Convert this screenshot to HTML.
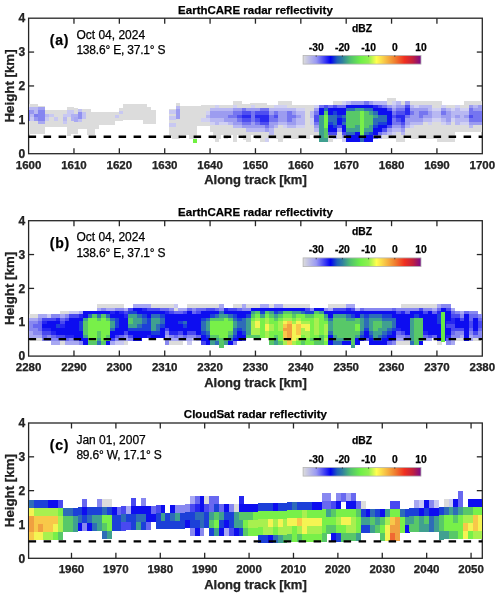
<!DOCTYPE html>
<html><head><meta charset="utf-8"><style>
html,body{margin:0;padding:0;background:#fff;}
svg{display:block;}
svg text{font-family:"Liberation Sans",sans-serif;stroke:currentColor;stroke-width:0.25px;}
.tx{opacity:0.999;}
</style></head><body>
<svg width="500" height="597" viewBox="0 0 500 597">
<defs><filter id="bl" x="-1%" y="-10%" width="102%" height="120%"><feGaussianBlur stdDeviation="0.45"/></filter><linearGradient id="cm" x1="0" x2="1" y1="0" y2="0"><stop offset="0.0000" stop-color="#dcdcdc"/><stop offset="0.1111" stop-color="#9a9af2"/><stop offset="0.2333" stop-color="#0000f5"/><stop offset="0.2889" stop-color="#2060b8"/><stop offset="0.3333" stop-color="#3080a0"/><stop offset="0.4000" stop-color="#50c070"/><stop offset="0.4889" stop-color="#70f048"/><stop offset="0.5556" stop-color="#90f050"/><stop offset="0.6222" stop-color="#ffff50"/><stop offset="0.6889" stop-color="#f8c848"/><stop offset="0.7778" stop-color="#f08030"/><stop offset="0.8600" stop-color="#f03020"/><stop offset="0.9333" stop-color="#c02040"/><stop offset="1.0000" stop-color="#7a0a8a"/></linearGradient></defs>
<rect width="500" height="597" fill="#fff"/>
<g class="tx">
<rect x="28.6" y="18.2" width="453.70" height="135.50" fill="none" stroke="#262626" stroke-width="1.3"/>
<text x="28.60" y="168.80" text-anchor="middle" font-size="11.5" font-weight="bold" fill="#262626">1600</text>
<line x1="73.97" y1="153.7" x2="73.97" y2="148.2" stroke="#262626" stroke-width="1.3"/>
<line x1="73.97" y1="18.2" x2="73.97" y2="23.7" stroke="#262626" stroke-width="1.3"/>
<text x="73.97" y="168.80" text-anchor="middle" font-size="11.5" font-weight="bold" fill="#262626">1610</text>
<line x1="119.34" y1="153.7" x2="119.34" y2="148.2" stroke="#262626" stroke-width="1.3"/>
<line x1="119.34" y1="18.2" x2="119.34" y2="23.7" stroke="#262626" stroke-width="1.3"/>
<text x="119.34" y="168.80" text-anchor="middle" font-size="11.5" font-weight="bold" fill="#262626">1620</text>
<line x1="164.71" y1="153.7" x2="164.71" y2="148.2" stroke="#262626" stroke-width="1.3"/>
<line x1="164.71" y1="18.2" x2="164.71" y2="23.7" stroke="#262626" stroke-width="1.3"/>
<text x="164.71" y="168.80" text-anchor="middle" font-size="11.5" font-weight="bold" fill="#262626">1630</text>
<line x1="210.08" y1="153.7" x2="210.08" y2="148.2" stroke="#262626" stroke-width="1.3"/>
<line x1="210.08" y1="18.2" x2="210.08" y2="23.7" stroke="#262626" stroke-width="1.3"/>
<text x="210.08" y="168.80" text-anchor="middle" font-size="11.5" font-weight="bold" fill="#262626">1640</text>
<line x1="255.45" y1="153.7" x2="255.45" y2="148.2" stroke="#262626" stroke-width="1.3"/>
<line x1="255.45" y1="18.2" x2="255.45" y2="23.7" stroke="#262626" stroke-width="1.3"/>
<text x="255.45" y="168.80" text-anchor="middle" font-size="11.5" font-weight="bold" fill="#262626">1650</text>
<line x1="300.82" y1="153.7" x2="300.82" y2="148.2" stroke="#262626" stroke-width="1.3"/>
<line x1="300.82" y1="18.2" x2="300.82" y2="23.7" stroke="#262626" stroke-width="1.3"/>
<text x="300.82" y="168.80" text-anchor="middle" font-size="11.5" font-weight="bold" fill="#262626">1660</text>
<line x1="346.19" y1="153.7" x2="346.19" y2="148.2" stroke="#262626" stroke-width="1.3"/>
<line x1="346.19" y1="18.2" x2="346.19" y2="23.7" stroke="#262626" stroke-width="1.3"/>
<text x="346.19" y="168.80" text-anchor="middle" font-size="11.5" font-weight="bold" fill="#262626">1670</text>
<line x1="391.56" y1="153.7" x2="391.56" y2="148.2" stroke="#262626" stroke-width="1.3"/>
<line x1="391.56" y1="18.2" x2="391.56" y2="23.7" stroke="#262626" stroke-width="1.3"/>
<text x="391.56" y="168.80" text-anchor="middle" font-size="11.5" font-weight="bold" fill="#262626">1680</text>
<line x1="436.93" y1="153.7" x2="436.93" y2="148.2" stroke="#262626" stroke-width="1.3"/>
<line x1="436.93" y1="18.2" x2="436.93" y2="23.7" stroke="#262626" stroke-width="1.3"/>
<text x="436.93" y="168.80" text-anchor="middle" font-size="11.5" font-weight="bold" fill="#262626">1690</text>
<text x="482.30" y="168.80" text-anchor="middle" font-size="11.5" font-weight="bold" fill="#262626">1700</text>
<text x="25.2" y="157.90" text-anchor="end" font-size="12" font-weight="bold" fill="#262626">0</text>
<line x1="28.6" y1="119.82" x2="34.1" y2="119.82" stroke="#262626" stroke-width="1.3"/>
<line x1="482.3" y1="119.82" x2="476.8" y2="119.82" stroke="#262626" stroke-width="1.3"/>
<text x="25.2" y="124.02" text-anchor="end" font-size="12" font-weight="bold" fill="#262626">1</text>
<line x1="28.6" y1="85.95" x2="34.1" y2="85.95" stroke="#262626" stroke-width="1.3"/>
<line x1="482.3" y1="85.95" x2="476.8" y2="85.95" stroke="#262626" stroke-width="1.3"/>
<text x="25.2" y="90.15" text-anchor="end" font-size="12" font-weight="bold" fill="#262626">2</text>
<line x1="28.6" y1="52.07" x2="34.1" y2="52.07" stroke="#262626" stroke-width="1.3"/>
<line x1="482.3" y1="52.07" x2="476.8" y2="52.07" stroke="#262626" stroke-width="1.3"/>
<text x="25.2" y="56.27" text-anchor="end" font-size="12" font-weight="bold" fill="#262626">3</text>
<text x="25.2" y="22.40" text-anchor="end" font-size="12" font-weight="bold" fill="#262626">4</text>
<g filter="url(#bl)" shape-rendering="crispEdges">
<rect x="28.60" y="104.00" width="9.40" height="30.00" fill="#dcdcdc"/>
<rect x="38.00" y="106.00" width="6.50" height="28.00" fill="#dcdcdc"/>
<rect x="44.50" y="110.00" width="22.50" height="17.00" fill="#dcdcdc"/>
<rect x="67.00" y="107.00" width="4.00" height="29.00" fill="#dcdcdc"/>
<rect x="71.00" y="107.00" width="3.00" height="27.00" fill="#dcdcdc"/>
<rect x="74.00" y="108.00" width="4.00" height="26.00" fill="#dcdcdc"/>
<rect x="78.00" y="109.00" width="9.00" height="20.00" fill="#dcdcdc"/>
<rect x="87.00" y="109.00" width="4.00" height="26.00" fill="#dcdcdc"/>
<rect x="91.00" y="112.00" width="3.50" height="23.00" fill="#dcdcdc"/>
<rect x="94.50" y="112.00" width="4.50" height="17.00" fill="#dcdcdc"/>
<rect x="99.00" y="112.00" width="16.00" height="13.00" fill="#dcdcdc"/>
<rect x="115.00" y="112.00" width="4.00" height="9.00" fill="#dcdcdc"/>
<rect x="119.00" y="108.00" width="4.40" height="13.00" fill="#dcdcdc"/>
<rect x="123.40" y="104.00" width="19.60" height="16.20" fill="#dcdcdc"/>
<rect x="143.00" y="104.00" width="3.60" height="19.80" fill="#dcdcdc"/>
<rect x="146.60" y="107.00" width="4.80" height="16.80" fill="#dcdcdc"/>
<rect x="151.40" y="110.00" width="4.20" height="13.80" fill="#dcdcdc"/>
<rect x="169.20" y="108.50" width="6.80" height="26.10" fill="#dcdcdc"/>
<rect x="176.00" y="102.80" width="3.60" height="36.60" fill="#dcdcdc"/>
<rect x="166.00" y="134.60" width="6.00" height="1.40" fill="#dcdcdc"/>
<rect x="172.00" y="134.60" width="4.00" height="3.90" fill="#dcdcdc"/>
<rect x="179.60" y="105.80" width="17.40" height="28.80" fill="#dcdcdc"/>
<rect x="190.00" y="134.60" width="2.80" height="3.40" fill="#dcdcdc"/>
<rect x="197.00" y="105.60" width="16.00" height="20.00" fill="#dcdcdc"/>
<rect x="213.00" y="105.00" width="7.80" height="34.40" fill="#dcdcdc"/>
<rect x="220.80" y="105.00" width="13.80" height="26.00" fill="#dcdcdc"/>
<rect x="225.60" y="131.00" width="5.40" height="3.60" fill="#dcdcdc"/>
<rect x="234.60" y="104.00" width="15.40" height="27.00" fill="#dcdcdc"/>
<rect x="243.00" y="131.00" width="7.20" height="9.00" fill="#dcdcdc"/>
<rect x="250.00" y="103.40" width="17.40" height="27.60" fill="#dcdcdc"/>
<rect x="262.00" y="131.00" width="4.00" height="6.00" fill="#dcdcdc"/>
<rect x="267.40" y="104.50" width="6.60" height="26.50" fill="#dcdcdc"/>
<rect x="274.00" y="105.80" width="4.00" height="28.80" fill="#dcdcdc"/>
<rect x="278.00" y="102.80" width="12.80" height="31.80" fill="#dcdcdc"/>
<rect x="279.00" y="134.60" width="4.00" height="5.40" fill="#dcdcdc"/>
<rect x="290.80" y="105.20" width="19.20" height="29.40" fill="#dcdcdc"/>
<rect x="28.60" y="107.00" width="1.40" height="3.00" fill="#b8b8f2"/>
<rect x="28.60" y="110.00" width="1.40" height="10.50" fill="#7878f0"/>
<rect x="30.00" y="107.00" width="4.00" height="3.00" fill="#b8b8f2"/>
<rect x="30.00" y="110.00" width="4.00" height="3.50" fill="#9898f0"/>
<rect x="30.00" y="113.50" width="4.00" height="3.50" fill="#b8b8f2"/>
<rect x="30.00" y="117.00" width="4.00" height="3.50" fill="#c8c8f2"/>
<rect x="34.00" y="107.00" width="4.00" height="6.50" fill="#b8b8f2"/>
<rect x="34.00" y="113.50" width="4.00" height="3.50" fill="#7c7cf0"/>
<rect x="34.00" y="117.00" width="4.00" height="3.50" fill="#9898f0"/>
<rect x="38.00" y="107.00" width="6.50" height="3.00" fill="#a0a0f2"/>
<rect x="38.00" y="110.00" width="6.50" height="10.50" fill="#8484f0"/>
<rect x="38.00" y="120.50" width="6.50" height="3.50" fill="#a8a8f2"/>
<rect x="44.50" y="113.50" width="4.50" height="3.50" fill="#b8b8f2"/>
<rect x="44.50" y="117.00" width="4.50" height="3.50" fill="#c8c8f2"/>
<rect x="49.00" y="113.50" width="5.00" height="3.50" fill="#c8c8f2"/>
<rect x="54.00" y="117.00" width="4.00" height="3.50" fill="#c8c8f2"/>
<rect x="62.50" y="113.50" width="4.50" height="3.50" fill="#c8c8f2"/>
<rect x="62.50" y="117.00" width="4.50" height="3.50" fill="#b8b8f2"/>
<rect x="62.50" y="120.50" width="4.50" height="3.50" fill="#c8c8f2"/>
<rect x="67.00" y="110.00" width="4.00" height="7.00" fill="#c8c8f2"/>
<rect x="71.00" y="110.00" width="3.00" height="3.50" fill="#c8c8f2"/>
<rect x="71.00" y="113.50" width="3.00" height="7.00" fill="#b0b0f2"/>
<rect x="74.00" y="113.50" width="4.00" height="3.50" fill="#b0b0f2"/>
<rect x="74.00" y="117.00" width="4.00" height="5.00" fill="#a8a8f2"/>
<rect x="78.00" y="109.00" width="4.00" height="3.00" fill="#c0c0f2"/>
<rect x="78.00" y="112.00" width="4.00" height="7.00" fill="#9090f0"/>
<rect x="78.00" y="119.00" width="4.00" height="3.00" fill="#c0c0f2"/>
<rect x="82.00" y="112.00" width="4.00" height="7.00" fill="#c0c0f2"/>
<rect x="115.00" y="115.00" width="4.00" height="3.00" fill="#c8c8f2"/>
<rect x="119.00" y="111.00" width="4.00" height="3.00" fill="#c8c8f2"/>
<rect x="169.20" y="110.00" width="6.80" height="4.00" fill="#c8c8f2"/>
<rect x="169.20" y="116.00" width="6.80" height="4.00" fill="#c8c8f2"/>
<rect x="169.20" y="123.00" width="6.80" height="4.00" fill="#c8c8f2"/>
<rect x="176.00" y="106.00" width="3.60" height="3.40" fill="#b8b8f2"/>
<rect x="176.00" y="109.40" width="3.60" height="9.60" fill="#9c9cf0"/>
<rect x="192.90" y="139.10" width="4.20" height="3.80" fill="#70f040"/>
<rect x="189.00" y="134.60" width="3.60" height="4.50" fill="#dcdcdc"/>
<rect x="192.60" y="134.60" width="4.50" height="4.50" fill="#dcdcdc"/>
<rect x="201.01" y="104.58" width="4.59" height="3.44" fill="#dcdcdc"/>
<rect x="201.01" y="107.97" width="4.59" height="3.44" fill="#dcdcdc"/>
<rect x="201.01" y="111.36" width="4.59" height="3.44" fill="#dcdcdc"/>
<rect x="201.01" y="114.74" width="4.59" height="3.44" fill="#dcdcdc"/>
<rect x="201.01" y="118.13" width="4.59" height="3.44" fill="#d0d0f2"/>
<rect x="201.01" y="121.52" width="4.59" height="3.44" fill="#dcdcdc"/>
<rect x="205.54" y="104.58" width="4.59" height="3.44" fill="#dcdcdc"/>
<rect x="205.54" y="107.97" width="4.59" height="3.44" fill="#dcdcdc"/>
<rect x="205.54" y="111.36" width="4.59" height="3.44" fill="#d0d0f2"/>
<rect x="205.54" y="114.74" width="4.59" height="3.44" fill="#b8b8f2"/>
<rect x="205.54" y="118.13" width="4.59" height="3.44" fill="#d0d0f2"/>
<rect x="205.54" y="121.52" width="4.59" height="3.44" fill="#dcdcdc"/>
<rect x="210.08" y="104.58" width="4.59" height="3.44" fill="#dcdcdc"/>
<rect x="210.08" y="107.97" width="4.59" height="3.44" fill="#b8b8f2"/>
<rect x="210.08" y="111.36" width="4.59" height="3.44" fill="#9c9cf0"/>
<rect x="210.08" y="114.74" width="4.59" height="3.44" fill="#9c9cf0"/>
<rect x="210.08" y="118.13" width="4.59" height="3.44" fill="#b8b8f2"/>
<rect x="210.08" y="121.52" width="4.59" height="3.44" fill="#d0d0f2"/>
<rect x="210.08" y="124.91" width="4.59" height="3.44" fill="#dcdcdc"/>
<rect x="210.08" y="128.29" width="4.59" height="3.44" fill="#dcdcdc"/>
<rect x="214.62" y="104.58" width="4.59" height="3.44" fill="#d0d0f2"/>
<rect x="214.62" y="107.97" width="4.59" height="3.44" fill="#b8b8f2"/>
<rect x="214.62" y="111.36" width="4.59" height="3.44" fill="#9c9cf0"/>
<rect x="214.62" y="114.74" width="4.59" height="3.44" fill="#9c9cf0"/>
<rect x="214.62" y="118.13" width="4.59" height="3.44" fill="#b8b8f2"/>
<rect x="214.62" y="121.52" width="4.59" height="3.44" fill="#b8b8f2"/>
<rect x="214.62" y="124.91" width="4.59" height="3.44" fill="#dcdcdc"/>
<rect x="214.62" y="128.29" width="4.59" height="3.44" fill="#dcdcdc"/>
<rect x="214.62" y="131.68" width="4.59" height="3.44" fill="#dcdcdc"/>
<rect x="214.62" y="135.07" width="4.59" height="3.44" fill="#dcdcdc"/>
<rect x="214.62" y="138.46" width="4.59" height="3.44" fill="#dcdcdc"/>
<rect x="219.15" y="104.58" width="4.59" height="3.44" fill="#dcdcdc"/>
<rect x="219.15" y="107.97" width="4.59" height="3.44" fill="#b8b8f2"/>
<rect x="219.15" y="111.36" width="4.59" height="3.44" fill="#9c9cf0"/>
<rect x="219.15" y="114.74" width="4.59" height="3.44" fill="#9c9cf0"/>
<rect x="219.15" y="118.13" width="4.59" height="3.44" fill="#b8b8f2"/>
<rect x="219.15" y="121.52" width="4.59" height="3.44" fill="#d0d0f2"/>
<rect x="219.15" y="124.91" width="4.59" height="3.44" fill="#dcdcdc"/>
<rect x="219.15" y="128.29" width="4.59" height="3.44" fill="#dcdcdc"/>
<rect x="219.15" y="131.68" width="4.59" height="3.44" fill="#dcdcdc"/>
<rect x="223.69" y="104.58" width="4.59" height="3.44" fill="#dcdcdc"/>
<rect x="223.69" y="107.97" width="4.59" height="3.44" fill="#b8b8f2"/>
<rect x="223.69" y="111.36" width="4.59" height="3.44" fill="#9c9cf0"/>
<rect x="223.69" y="114.74" width="4.59" height="3.44" fill="#9c9cf0"/>
<rect x="223.69" y="118.13" width="4.59" height="3.44" fill="#9c9cf0"/>
<rect x="223.69" y="121.52" width="4.59" height="3.44" fill="#d0d0f2"/>
<rect x="223.69" y="124.91" width="4.59" height="3.44" fill="#dcdcdc"/>
<rect x="223.69" y="128.29" width="4.59" height="3.44" fill="#dcdcdc"/>
<rect x="223.69" y="131.68" width="4.59" height="3.44" fill="#dcdcdc"/>
<rect x="223.69" y="135.07" width="4.59" height="3.44" fill="#dcdcdc"/>
<rect x="228.23" y="104.58" width="4.59" height="3.44" fill="#dcdcdc"/>
<rect x="228.23" y="107.97" width="4.59" height="3.44" fill="#b8b8f2"/>
<rect x="228.23" y="111.36" width="4.59" height="3.44" fill="#9c9cf0"/>
<rect x="228.23" y="114.74" width="4.59" height="3.44" fill="#7474f0"/>
<rect x="228.23" y="118.13" width="4.59" height="3.44" fill="#9c9cf0"/>
<rect x="228.23" y="121.52" width="4.59" height="3.44" fill="#b8b8f2"/>
<rect x="228.23" y="124.91" width="4.59" height="3.44" fill="#dcdcdc"/>
<rect x="228.23" y="128.29" width="4.59" height="3.44" fill="#dcdcdc"/>
<rect x="228.23" y="131.68" width="4.59" height="3.44" fill="#dcdcdc"/>
<rect x="232.76" y="101.19" width="4.59" height="3.44" fill="#dcdcdc"/>
<rect x="232.76" y="104.58" width="4.59" height="3.44" fill="#d0d0f2"/>
<rect x="232.76" y="107.97" width="4.59" height="3.44" fill="#9c9cf0"/>
<rect x="232.76" y="111.36" width="4.59" height="3.44" fill="#7474f0"/>
<rect x="232.76" y="114.74" width="4.59" height="3.44" fill="#7474f0"/>
<rect x="232.76" y="118.13" width="4.59" height="3.44" fill="#9c9cf0"/>
<rect x="232.76" y="121.52" width="4.59" height="3.44" fill="#9c9cf0"/>
<rect x="232.76" y="124.91" width="4.59" height="3.44" fill="#b8b8f2"/>
<rect x="232.76" y="128.29" width="4.59" height="3.44" fill="#dcdcdc"/>
<rect x="232.76" y="131.68" width="4.59" height="3.44" fill="#dcdcdc"/>
<rect x="232.76" y="135.07" width="4.59" height="3.44" fill="#dcdcdc"/>
<rect x="232.76" y="138.46" width="4.59" height="3.44" fill="#dcdcdc"/>
<rect x="237.30" y="101.19" width="4.59" height="3.44" fill="#dcdcdc"/>
<rect x="237.30" y="104.58" width="4.59" height="3.44" fill="#dcdcdc"/>
<rect x="237.30" y="107.97" width="4.59" height="3.44" fill="#9c9cf0"/>
<rect x="237.30" y="111.36" width="4.59" height="3.44" fill="#7474f0"/>
<rect x="237.30" y="114.74" width="4.59" height="3.44" fill="#5050f0"/>
<rect x="237.30" y="118.13" width="4.59" height="3.44" fill="#7474f0"/>
<rect x="237.30" y="121.52" width="4.59" height="3.44" fill="#9c9cf0"/>
<rect x="237.30" y="124.91" width="4.59" height="3.44" fill="#b8b8f2"/>
<rect x="237.30" y="128.29" width="4.59" height="3.44" fill="#dcdcdc"/>
<rect x="237.30" y="131.68" width="4.59" height="3.44" fill="#dcdcdc"/>
<rect x="241.84" y="104.58" width="4.59" height="3.44" fill="#dcdcdc"/>
<rect x="241.84" y="107.97" width="4.59" height="3.44" fill="#7474f0"/>
<rect x="241.84" y="111.36" width="4.59" height="3.44" fill="#5050f0"/>
<rect x="241.84" y="114.74" width="4.59" height="3.44" fill="#2c2cf0"/>
<rect x="241.84" y="118.13" width="4.59" height="3.44" fill="#5050f0"/>
<rect x="241.84" y="121.52" width="4.59" height="3.44" fill="#7474f0"/>
<rect x="241.84" y="124.91" width="4.59" height="3.44" fill="#9c9cf0"/>
<rect x="241.84" y="128.29" width="4.59" height="3.44" fill="#dcdcdc"/>
<rect x="241.84" y="131.68" width="4.59" height="3.44" fill="#dcdcdc"/>
<rect x="246.38" y="104.58" width="4.59" height="3.44" fill="#dcdcdc"/>
<rect x="246.38" y="107.97" width="4.59" height="3.44" fill="#9c9cf0"/>
<rect x="246.38" y="111.36" width="4.59" height="3.44" fill="#5050f0"/>
<rect x="246.38" y="114.74" width="4.59" height="3.44" fill="#2c2cf0"/>
<rect x="246.38" y="118.13" width="4.59" height="3.44" fill="#5050f0"/>
<rect x="246.38" y="121.52" width="4.59" height="3.44" fill="#7474f0"/>
<rect x="246.38" y="124.91" width="4.59" height="3.44" fill="#9c9cf0"/>
<rect x="246.38" y="128.29" width="4.59" height="3.44" fill="#b8b8f2"/>
<rect x="246.38" y="131.68" width="4.59" height="3.44" fill="#dcdcdc"/>
<rect x="246.38" y="135.07" width="4.59" height="3.44" fill="#dcdcdc"/>
<rect x="246.38" y="138.46" width="4.59" height="3.44" fill="#dcdcdc"/>
<rect x="250.91" y="104.58" width="4.59" height="3.44" fill="#d0d0f2"/>
<rect x="250.91" y="107.97" width="4.59" height="3.44" fill="#9c9cf0"/>
<rect x="250.91" y="111.36" width="4.59" height="3.44" fill="#7474f0"/>
<rect x="250.91" y="114.74" width="4.59" height="3.44" fill="#7474f0"/>
<rect x="250.91" y="118.13" width="4.59" height="3.44" fill="#7474f0"/>
<rect x="250.91" y="121.52" width="4.59" height="3.44" fill="#9c9cf0"/>
<rect x="250.91" y="124.91" width="4.59" height="3.44" fill="#9c9cf0"/>
<rect x="250.91" y="128.29" width="4.59" height="3.44" fill="#b8b8f2"/>
<rect x="250.91" y="131.68" width="4.59" height="3.44" fill="#dcdcdc"/>
<rect x="255.45" y="104.58" width="4.59" height="3.44" fill="#dcdcdc"/>
<rect x="255.45" y="107.97" width="4.59" height="3.44" fill="#9c9cf0"/>
<rect x="255.45" y="111.36" width="4.59" height="3.44" fill="#5050f0"/>
<rect x="255.45" y="114.74" width="4.59" height="3.44" fill="#2c2cf0"/>
<rect x="255.45" y="118.13" width="4.59" height="3.44" fill="#5050f0"/>
<rect x="255.45" y="121.52" width="4.59" height="3.44" fill="#7474f0"/>
<rect x="255.45" y="124.91" width="4.59" height="3.44" fill="#9c9cf0"/>
<rect x="255.45" y="128.29" width="4.59" height="3.44" fill="#b8b8f2"/>
<rect x="255.45" y="131.68" width="4.59" height="3.44" fill="#dcdcdc"/>
<rect x="255.45" y="135.07" width="4.59" height="3.44" fill="#dcdcdc"/>
<rect x="259.99" y="104.58" width="4.59" height="3.44" fill="#dcdcdc"/>
<rect x="259.99" y="107.97" width="4.59" height="3.44" fill="#7474f0"/>
<rect x="259.99" y="111.36" width="4.59" height="3.44" fill="#5050f0"/>
<rect x="259.99" y="114.74" width="4.59" height="3.44" fill="#2c2cf0"/>
<rect x="259.99" y="118.13" width="4.59" height="3.44" fill="#2c2cf0"/>
<rect x="259.99" y="121.52" width="4.59" height="3.44" fill="#5050f0"/>
<rect x="259.99" y="124.91" width="4.59" height="3.44" fill="#9c9cf0"/>
<rect x="259.99" y="128.29" width="4.59" height="3.44" fill="#b8b8f2"/>
<rect x="259.99" y="131.68" width="4.59" height="3.44" fill="#dcdcdc"/>
<rect x="259.99" y="135.07" width="4.59" height="3.44" fill="#dcdcdc"/>
<rect x="259.99" y="138.46" width="4.59" height="3.44" fill="#dcdcdc"/>
<rect x="264.52" y="104.58" width="4.59" height="3.44" fill="#dcdcdc"/>
<rect x="264.52" y="107.97" width="4.59" height="3.44" fill="#7474f0"/>
<rect x="264.52" y="111.36" width="4.59" height="3.44" fill="#5050f0"/>
<rect x="264.52" y="114.74" width="4.59" height="3.44" fill="#2c2cf0"/>
<rect x="264.52" y="118.13" width="4.59" height="3.44" fill="#2c2cf0"/>
<rect x="264.52" y="121.52" width="4.59" height="3.44" fill="#5050f0"/>
<rect x="264.52" y="124.91" width="4.59" height="3.44" fill="#7474f0"/>
<rect x="264.52" y="128.29" width="4.59" height="3.44" fill="#9c9cf0"/>
<rect x="264.52" y="131.68" width="4.59" height="3.44" fill="#dcdcdc"/>
<rect x="264.52" y="135.07" width="4.59" height="3.44" fill="#dcdcdc"/>
<rect x="264.52" y="138.46" width="4.59" height="3.44" fill="#d0d0f2"/>
<rect x="269.06" y="104.58" width="4.59" height="3.44" fill="#dcdcdc"/>
<rect x="269.06" y="107.97" width="4.59" height="3.44" fill="#b8b8f2"/>
<rect x="269.06" y="111.36" width="4.59" height="3.44" fill="#9c9cf0"/>
<rect x="269.06" y="114.74" width="4.59" height="3.44" fill="#7474f0"/>
<rect x="269.06" y="118.13" width="4.59" height="3.44" fill="#7474f0"/>
<rect x="269.06" y="121.52" width="4.59" height="3.44" fill="#9c9cf0"/>
<rect x="269.06" y="124.91" width="4.59" height="3.44" fill="#9c9cf0"/>
<rect x="269.06" y="128.29" width="4.59" height="3.44" fill="#b8b8f2"/>
<rect x="269.06" y="131.68" width="4.59" height="3.44" fill="#b8b8f2"/>
<rect x="269.06" y="135.07" width="4.59" height="3.44" fill="#dcdcdc"/>
<rect x="273.60" y="104.58" width="4.59" height="3.44" fill="#d0d0f2"/>
<rect x="273.60" y="107.97" width="4.59" height="3.44" fill="#b8b8f2"/>
<rect x="273.60" y="111.36" width="4.59" height="3.44" fill="#7474f0"/>
<rect x="273.60" y="114.74" width="4.59" height="3.44" fill="#5050f0"/>
<rect x="273.60" y="118.13" width="4.59" height="3.44" fill="#7474f0"/>
<rect x="273.60" y="121.52" width="4.59" height="3.44" fill="#9c9cf0"/>
<rect x="273.60" y="124.91" width="4.59" height="3.44" fill="#b8b8f2"/>
<rect x="273.60" y="128.29" width="4.59" height="3.44" fill="#dcdcdc"/>
<rect x="273.60" y="131.68" width="4.59" height="3.44" fill="#dcdcdc"/>
<rect x="273.60" y="135.07" width="4.59" height="3.44" fill="#dcdcdc"/>
<rect x="278.13" y="101.19" width="4.59" height="3.44" fill="#dcdcdc"/>
<rect x="278.13" y="104.58" width="4.59" height="3.44" fill="#d0d0f2"/>
<rect x="278.13" y="107.97" width="4.59" height="3.44" fill="#b8b8f2"/>
<rect x="278.13" y="111.36" width="4.59" height="3.44" fill="#9c9cf0"/>
<rect x="278.13" y="114.74" width="4.59" height="3.44" fill="#9c9cf0"/>
<rect x="278.13" y="118.13" width="4.59" height="3.44" fill="#9c9cf0"/>
<rect x="278.13" y="121.52" width="4.59" height="3.44" fill="#b8b8f2"/>
<rect x="278.13" y="124.91" width="4.59" height="3.44" fill="#dcdcdc"/>
<rect x="278.13" y="128.29" width="4.59" height="3.44" fill="#dcdcdc"/>
<rect x="278.13" y="131.68" width="4.59" height="3.44" fill="#dcdcdc"/>
<rect x="278.13" y="135.07" width="4.59" height="3.44" fill="#dcdcdc"/>
<rect x="278.13" y="138.46" width="4.59" height="3.44" fill="#dcdcdc"/>
<rect x="282.67" y="101.19" width="4.59" height="3.44" fill="#dcdcdc"/>
<rect x="282.67" y="104.58" width="4.59" height="3.44" fill="#d0d0f2"/>
<rect x="282.67" y="107.97" width="4.59" height="3.44" fill="#b8b8f2"/>
<rect x="282.67" y="111.36" width="4.59" height="3.44" fill="#9c9cf0"/>
<rect x="282.67" y="114.74" width="4.59" height="3.44" fill="#9c9cf0"/>
<rect x="282.67" y="118.13" width="4.59" height="3.44" fill="#9c9cf0"/>
<rect x="282.67" y="121.52" width="4.59" height="3.44" fill="#b8b8f2"/>
<rect x="282.67" y="124.91" width="4.59" height="3.44" fill="#d0d0f2"/>
<rect x="282.67" y="128.29" width="4.59" height="3.44" fill="#dcdcdc"/>
<rect x="282.67" y="131.68" width="4.59" height="3.44" fill="#dcdcdc"/>
<rect x="282.67" y="135.07" width="4.59" height="3.44" fill="#dcdcdc"/>
<rect x="287.21" y="101.19" width="4.59" height="3.44" fill="#dcdcdc"/>
<rect x="287.21" y="104.58" width="4.59" height="3.44" fill="#dcdcdc"/>
<rect x="287.21" y="107.97" width="4.59" height="3.44" fill="#b8b8f2"/>
<rect x="287.21" y="111.36" width="4.59" height="3.44" fill="#7474f0"/>
<rect x="287.21" y="114.74" width="4.59" height="3.44" fill="#7474f0"/>
<rect x="287.21" y="118.13" width="4.59" height="3.44" fill="#7474f0"/>
<rect x="287.21" y="121.52" width="4.59" height="3.44" fill="#9c9cf0"/>
<rect x="287.21" y="124.91" width="4.59" height="3.44" fill="#b8b8f2"/>
<rect x="287.21" y="128.29" width="4.59" height="3.44" fill="#dcdcdc"/>
<rect x="287.21" y="131.68" width="4.59" height="3.44" fill="#dcdcdc"/>
<rect x="287.21" y="135.07" width="4.59" height="3.44" fill="#dcdcdc"/>
<rect x="291.75" y="104.58" width="4.59" height="3.44" fill="#dcdcdc"/>
<rect x="291.75" y="107.97" width="4.59" height="3.44" fill="#b8b8f2"/>
<rect x="291.75" y="111.36" width="4.59" height="3.44" fill="#9c9cf0"/>
<rect x="291.75" y="114.74" width="4.59" height="3.44" fill="#7474f0"/>
<rect x="291.75" y="118.13" width="4.59" height="3.44" fill="#9c9cf0"/>
<rect x="291.75" y="121.52" width="4.59" height="3.44" fill="#9c9cf0"/>
<rect x="291.75" y="124.91" width="4.59" height="3.44" fill="#b8b8f2"/>
<rect x="291.75" y="128.29" width="4.59" height="3.44" fill="#dcdcdc"/>
<rect x="291.75" y="131.68" width="4.59" height="3.44" fill="#dcdcdc"/>
<rect x="291.75" y="135.07" width="4.59" height="3.44" fill="#dcdcdc"/>
<rect x="296.28" y="104.58" width="4.59" height="3.44" fill="#dcdcdc"/>
<rect x="296.28" y="107.97" width="4.59" height="3.44" fill="#d0d0f2"/>
<rect x="296.28" y="111.36" width="4.59" height="3.44" fill="#b8b8f2"/>
<rect x="296.28" y="114.74" width="4.59" height="3.44" fill="#9c9cf0"/>
<rect x="296.28" y="118.13" width="4.59" height="3.44" fill="#b8b8f2"/>
<rect x="296.28" y="121.52" width="4.59" height="3.44" fill="#b8b8f2"/>
<rect x="296.28" y="124.91" width="4.59" height="3.44" fill="#d0d0f2"/>
<rect x="296.28" y="128.29" width="4.59" height="3.44" fill="#dcdcdc"/>
<rect x="296.28" y="131.68" width="4.59" height="3.44" fill="#dcdcdc"/>
<rect x="296.28" y="135.07" width="4.59" height="3.44" fill="#dcdcdc"/>
<rect x="300.82" y="104.58" width="4.59" height="3.44" fill="#dcdcdc"/>
<rect x="300.82" y="107.97" width="4.59" height="3.44" fill="#d0d0f2"/>
<rect x="300.82" y="111.36" width="4.59" height="3.44" fill="#b8b8f2"/>
<rect x="300.82" y="114.74" width="4.59" height="3.44" fill="#b8b8f2"/>
<rect x="300.82" y="118.13" width="4.59" height="3.44" fill="#b8b8f2"/>
<rect x="300.82" y="121.52" width="4.59" height="3.44" fill="#b8b8f2"/>
<rect x="300.82" y="124.91" width="4.59" height="3.44" fill="#d0d0f2"/>
<rect x="300.82" y="128.29" width="4.59" height="3.44" fill="#dcdcdc"/>
<rect x="300.82" y="131.68" width="4.59" height="3.44" fill="#dcdcdc"/>
<rect x="300.82" y="135.07" width="4.59" height="3.44" fill="#dcdcdc"/>
<rect x="305.36" y="104.58" width="4.59" height="3.44" fill="#dcdcdc"/>
<rect x="305.36" y="107.97" width="4.59" height="3.44" fill="#dcdcdc"/>
<rect x="305.36" y="111.36" width="4.59" height="3.44" fill="#dcdcdc"/>
<rect x="305.36" y="114.74" width="4.59" height="3.44" fill="#dcdcdc"/>
<rect x="305.36" y="118.13" width="4.59" height="3.44" fill="#dcdcdc"/>
<rect x="305.36" y="121.52" width="4.59" height="3.44" fill="#dcdcdc"/>
<rect x="305.36" y="124.91" width="4.59" height="3.44" fill="#dcdcdc"/>
<rect x="305.36" y="128.29" width="4.59" height="3.44" fill="#dcdcdc"/>
<rect x="305.36" y="131.68" width="4.59" height="3.44" fill="#dcdcdc"/>
<rect x="305.36" y="135.07" width="4.59" height="3.44" fill="#dcdcdc"/>
<rect x="309.89" y="104.58" width="4.59" height="3.44" fill="#dcdcdc"/>
<rect x="309.89" y="107.97" width="4.59" height="3.44" fill="#dcdcdc"/>
<rect x="309.89" y="111.36" width="4.59" height="3.44" fill="#b8b8f2"/>
<rect x="309.89" y="114.74" width="4.59" height="3.44" fill="#b8b8f2"/>
<rect x="309.89" y="118.13" width="4.59" height="3.44" fill="#d0d0f2"/>
<rect x="309.89" y="121.52" width="4.59" height="3.44" fill="#d0d0f2"/>
<rect x="309.89" y="124.91" width="4.59" height="3.44" fill="#dcdcdc"/>
<rect x="309.89" y="128.29" width="4.59" height="3.44" fill="#dcdcdc"/>
<rect x="309.89" y="131.68" width="4.59" height="3.44" fill="#dcdcdc"/>
<rect x="314.43" y="104.58" width="4.59" height="3.44" fill="#d0d0f2"/>
<rect x="314.43" y="107.97" width="4.59" height="3.44" fill="#9c9cf0"/>
<rect x="314.43" y="111.36" width="4.59" height="3.44" fill="#7474f0"/>
<rect x="314.43" y="114.74" width="4.59" height="3.44" fill="#5050f0"/>
<rect x="314.43" y="118.13" width="4.59" height="3.44" fill="#5050f0"/>
<rect x="314.43" y="121.52" width="4.59" height="3.44" fill="#7474f0"/>
<rect x="314.43" y="124.91" width="4.59" height="3.44" fill="#9c9cf0"/>
<rect x="314.43" y="128.29" width="4.59" height="3.44" fill="#b8b8f2"/>
<rect x="314.43" y="131.68" width="4.59" height="3.44" fill="#dcdcdc"/>
<rect x="314.43" y="135.07" width="4.59" height="3.44" fill="#dcdcdc"/>
<rect x="318.97" y="104.58" width="4.59" height="3.44" fill="#7474f0"/>
<rect x="318.97" y="107.97" width="4.59" height="3.44" fill="#1010f0"/>
<rect x="318.97" y="111.36" width="4.59" height="3.44" fill="#1010f0"/>
<rect x="318.97" y="114.74" width="4.59" height="3.44" fill="#40a090"/>
<rect x="318.97" y="118.13" width="4.59" height="3.44" fill="#40a090"/>
<rect x="318.97" y="121.52" width="4.59" height="3.44" fill="#40a090"/>
<rect x="318.97" y="124.91" width="4.59" height="3.44" fill="#40a090"/>
<rect x="318.97" y="128.29" width="4.59" height="3.44" fill="#40a090"/>
<rect x="318.97" y="131.68" width="4.59" height="3.44" fill="#40a090"/>
<rect x="318.97" y="135.07" width="4.59" height="3.44" fill="#40a090"/>
<rect x="318.97" y="138.46" width="4.59" height="3.44" fill="#40a090"/>
<rect x="323.50" y="104.58" width="4.59" height="3.44" fill="#5050f0"/>
<rect x="323.50" y="107.97" width="4.59" height="3.44" fill="#2e6cb8"/>
<rect x="323.50" y="111.36" width="4.59" height="3.44" fill="#58c868"/>
<rect x="323.50" y="114.74" width="4.59" height="3.44" fill="#78f048"/>
<rect x="323.50" y="118.13" width="4.59" height="3.44" fill="#78f048"/>
<rect x="323.50" y="121.52" width="4.59" height="3.44" fill="#78f048"/>
<rect x="323.50" y="124.91" width="4.59" height="3.44" fill="#78f048"/>
<rect x="323.50" y="128.29" width="4.59" height="3.44" fill="#58c868"/>
<rect x="323.50" y="131.68" width="4.59" height="3.44" fill="#58c868"/>
<rect x="323.50" y="135.07" width="4.59" height="3.44" fill="#58c868"/>
<rect x="323.50" y="138.46" width="4.59" height="3.44" fill="#40a090"/>
<rect x="328.04" y="104.58" width="4.59" height="3.44" fill="#7474f0"/>
<rect x="328.04" y="107.97" width="4.59" height="3.44" fill="#1010f0"/>
<rect x="328.04" y="111.36" width="4.59" height="3.44" fill="#1010f0"/>
<rect x="328.04" y="114.74" width="4.59" height="3.44" fill="#2e6cb8"/>
<rect x="328.04" y="118.13" width="4.59" height="3.44" fill="#2e6cb8"/>
<rect x="328.04" y="121.52" width="4.59" height="3.44" fill="#1a40d8"/>
<rect x="328.04" y="124.91" width="4.59" height="3.44" fill="#1010f0"/>
<rect x="328.04" y="128.29" width="4.59" height="3.44" fill="#1010f0"/>
<rect x="328.04" y="131.68" width="4.59" height="3.44" fill="#5050f0"/>
<rect x="328.04" y="135.07" width="4.59" height="3.44" fill="#b8b8f2"/>
<rect x="328.04" y="138.46" width="4.59" height="3.44" fill="#dcdcdc"/>
<rect x="332.58" y="101.19" width="4.59" height="3.44" fill="#dcdcdc"/>
<rect x="332.58" y="104.58" width="4.59" height="3.44" fill="#5050f0"/>
<rect x="332.58" y="107.97" width="4.59" height="3.44" fill="#1010f0"/>
<rect x="332.58" y="111.36" width="4.59" height="3.44" fill="#1a40d8"/>
<rect x="332.58" y="114.74" width="4.59" height="3.44" fill="#2e6cb8"/>
<rect x="332.58" y="118.13" width="4.59" height="3.44" fill="#2e6cb8"/>
<rect x="332.58" y="121.52" width="4.59" height="3.44" fill="#2e6cb8"/>
<rect x="332.58" y="124.91" width="4.59" height="3.44" fill="#1a40d8"/>
<rect x="332.58" y="128.29" width="4.59" height="3.44" fill="#1010f0"/>
<rect x="332.58" y="131.68" width="4.59" height="3.44" fill="#5050f0"/>
<rect x="332.58" y="135.07" width="4.59" height="3.44" fill="#b8b8f2"/>
<rect x="337.12" y="101.19" width="4.59" height="3.44" fill="#dcdcdc"/>
<rect x="337.12" y="104.58" width="4.59" height="3.44" fill="#7474f0"/>
<rect x="337.12" y="107.97" width="4.59" height="3.44" fill="#1010f0"/>
<rect x="337.12" y="111.36" width="4.59" height="3.44" fill="#1010f0"/>
<rect x="337.12" y="114.74" width="4.59" height="3.44" fill="#1a40d8"/>
<rect x="337.12" y="118.13" width="4.59" height="3.44" fill="#1010f0"/>
<rect x="337.12" y="121.52" width="4.59" height="3.44" fill="#1010f0"/>
<rect x="337.12" y="124.91" width="4.59" height="3.44" fill="#5050f0"/>
<rect x="337.12" y="128.29" width="4.59" height="3.44" fill="#9c9cf0"/>
<rect x="337.12" y="131.68" width="4.59" height="3.44" fill="#dcdcdc"/>
<rect x="337.12" y="135.07" width="4.59" height="3.44" fill="#dcdcdc"/>
<rect x="341.65" y="101.19" width="4.59" height="3.44" fill="#d0d0f2"/>
<rect x="341.65" y="104.58" width="4.59" height="3.44" fill="#7474f0"/>
<rect x="341.65" y="107.97" width="4.59" height="3.44" fill="#1010f0"/>
<rect x="341.65" y="111.36" width="4.59" height="3.44" fill="#1010f0"/>
<rect x="341.65" y="114.74" width="4.59" height="3.44" fill="#2e6cb8"/>
<rect x="341.65" y="118.13" width="4.59" height="3.44" fill="#1a40d8"/>
<rect x="341.65" y="121.52" width="4.59" height="3.44" fill="#2e6cb8"/>
<rect x="341.65" y="124.91" width="4.59" height="3.44" fill="#1010f0"/>
<rect x="341.65" y="128.29" width="4.59" height="3.44" fill="#1010f0"/>
<rect x="341.65" y="131.68" width="4.59" height="3.44" fill="#5050f0"/>
<rect x="341.65" y="135.07" width="4.59" height="3.44" fill="#9c9cf0"/>
<rect x="341.65" y="138.46" width="4.59" height="3.44" fill="#d0d0f2"/>
<rect x="346.19" y="101.19" width="4.59" height="3.44" fill="#b8b8f2"/>
<rect x="346.19" y="104.58" width="4.59" height="3.44" fill="#1010f0"/>
<rect x="346.19" y="107.97" width="4.59" height="3.44" fill="#2e6cb8"/>
<rect x="346.19" y="111.36" width="4.59" height="3.44" fill="#58c868"/>
<rect x="346.19" y="114.74" width="4.59" height="3.44" fill="#58c868"/>
<rect x="346.19" y="118.13" width="4.59" height="3.44" fill="#58c868"/>
<rect x="346.19" y="121.52" width="4.59" height="3.44" fill="#58c868"/>
<rect x="346.19" y="124.91" width="4.59" height="3.44" fill="#58c868"/>
<rect x="346.19" y="128.29" width="4.59" height="3.44" fill="#40a090"/>
<rect x="346.19" y="131.68" width="4.59" height="3.44" fill="#2e6cb8"/>
<rect x="346.19" y="135.07" width="4.59" height="3.44" fill="#1010f0"/>
<rect x="346.19" y="138.46" width="4.59" height="3.44" fill="#1010f0"/>
<rect x="350.73" y="101.19" width="4.59" height="3.44" fill="#9c9cf0"/>
<rect x="350.73" y="104.58" width="4.59" height="3.44" fill="#1010f0"/>
<rect x="350.73" y="107.97" width="4.59" height="3.44" fill="#2e6cb8"/>
<rect x="350.73" y="111.36" width="4.59" height="3.44" fill="#58c868"/>
<rect x="350.73" y="114.74" width="4.59" height="3.44" fill="#58c868"/>
<rect x="350.73" y="118.13" width="4.59" height="3.44" fill="#58c868"/>
<rect x="350.73" y="121.52" width="4.59" height="3.44" fill="#58c868"/>
<rect x="350.73" y="124.91" width="4.59" height="3.44" fill="#58c868"/>
<rect x="350.73" y="128.29" width="4.59" height="3.44" fill="#40a090"/>
<rect x="350.73" y="131.68" width="4.59" height="3.44" fill="#2e6cb8"/>
<rect x="350.73" y="135.07" width="4.59" height="3.44" fill="#1010f0"/>
<rect x="350.73" y="138.46" width="4.59" height="3.44" fill="#1010f0"/>
<rect x="355.26" y="101.19" width="4.59" height="3.44" fill="#9c9cf0"/>
<rect x="355.26" y="104.58" width="4.59" height="3.44" fill="#1010f0"/>
<rect x="355.26" y="107.97" width="4.59" height="3.44" fill="#40a090"/>
<rect x="355.26" y="111.36" width="4.59" height="3.44" fill="#58c868"/>
<rect x="355.26" y="114.74" width="4.59" height="3.44" fill="#58c868"/>
<rect x="355.26" y="118.13" width="4.59" height="3.44" fill="#58c868"/>
<rect x="355.26" y="121.52" width="4.59" height="3.44" fill="#58c868"/>
<rect x="355.26" y="124.91" width="4.59" height="3.44" fill="#40a090"/>
<rect x="355.26" y="128.29" width="4.59" height="3.44" fill="#40a090"/>
<rect x="355.26" y="131.68" width="4.59" height="3.44" fill="#1010f0"/>
<rect x="355.26" y="135.07" width="4.59" height="3.44" fill="#1010f0"/>
<rect x="355.26" y="138.46" width="4.59" height="3.44" fill="#1010f0"/>
<rect x="359.80" y="101.19" width="4.59" height="3.44" fill="#9c9cf0"/>
<rect x="359.80" y="104.58" width="4.59" height="3.44" fill="#1010f0"/>
<rect x="359.80" y="107.97" width="4.59" height="3.44" fill="#40a090"/>
<rect x="359.80" y="111.36" width="4.59" height="3.44" fill="#78f048"/>
<rect x="359.80" y="114.74" width="4.59" height="3.44" fill="#78f048"/>
<rect x="359.80" y="118.13" width="4.59" height="3.44" fill="#78f048"/>
<rect x="359.80" y="121.52" width="4.59" height="3.44" fill="#78f048"/>
<rect x="359.80" y="124.91" width="4.59" height="3.44" fill="#78f048"/>
<rect x="359.80" y="128.29" width="4.59" height="3.44" fill="#78f048"/>
<rect x="359.80" y="131.68" width="4.59" height="3.44" fill="#78f048"/>
<rect x="359.80" y="135.07" width="4.59" height="3.44" fill="#40a090"/>
<rect x="359.80" y="138.46" width="4.59" height="3.44" fill="#2e6cb8"/>
<rect x="364.34" y="101.19" width="4.59" height="3.44" fill="#7474f0"/>
<rect x="364.34" y="104.58" width="4.59" height="3.44" fill="#1010f0"/>
<rect x="364.34" y="107.97" width="4.59" height="3.44" fill="#2e6cb8"/>
<rect x="364.34" y="111.36" width="4.59" height="3.44" fill="#58c868"/>
<rect x="364.34" y="114.74" width="4.59" height="3.44" fill="#58c868"/>
<rect x="364.34" y="118.13" width="4.59" height="3.44" fill="#58c868"/>
<rect x="364.34" y="121.52" width="4.59" height="3.44" fill="#58c868"/>
<rect x="364.34" y="124.91" width="4.59" height="3.44" fill="#58c868"/>
<rect x="364.34" y="128.29" width="4.59" height="3.44" fill="#40a090"/>
<rect x="364.34" y="131.68" width="4.59" height="3.44" fill="#2e6cb8"/>
<rect x="364.34" y="135.07" width="4.59" height="3.44" fill="#1010f0"/>
<rect x="364.34" y="138.46" width="4.59" height="3.44" fill="#1010f0"/>
<rect x="368.88" y="101.19" width="4.59" height="3.44" fill="#9c9cf0"/>
<rect x="368.88" y="104.58" width="4.59" height="3.44" fill="#1010f0"/>
<rect x="368.88" y="107.97" width="4.59" height="3.44" fill="#2e6cb8"/>
<rect x="368.88" y="111.36" width="4.59" height="3.44" fill="#40a090"/>
<rect x="368.88" y="114.74" width="4.59" height="3.44" fill="#58c868"/>
<rect x="368.88" y="118.13" width="4.59" height="3.44" fill="#58c868"/>
<rect x="368.88" y="121.52" width="4.59" height="3.44" fill="#58c868"/>
<rect x="368.88" y="124.91" width="4.59" height="3.44" fill="#40a090"/>
<rect x="368.88" y="128.29" width="4.59" height="3.44" fill="#40a090"/>
<rect x="368.88" y="131.68" width="4.59" height="3.44" fill="#1a40d8"/>
<rect x="368.88" y="135.07" width="4.59" height="3.44" fill="#1010f0"/>
<rect x="368.88" y="138.46" width="4.59" height="3.44" fill="#1010f0"/>
<rect x="373.41" y="101.19" width="4.59" height="3.44" fill="#b8b8f2"/>
<rect x="373.41" y="104.58" width="4.59" height="3.44" fill="#2c2cf0"/>
<rect x="373.41" y="107.97" width="4.59" height="3.44" fill="#1010f0"/>
<rect x="373.41" y="111.36" width="4.59" height="3.44" fill="#2e6cb8"/>
<rect x="373.41" y="114.74" width="4.59" height="3.44" fill="#40a090"/>
<rect x="373.41" y="118.13" width="4.59" height="3.44" fill="#2e6cb8"/>
<rect x="373.41" y="121.52" width="4.59" height="3.44" fill="#2e6cb8"/>
<rect x="373.41" y="124.91" width="4.59" height="3.44" fill="#1a40d8"/>
<rect x="373.41" y="128.29" width="4.59" height="3.44" fill="#1010f0"/>
<rect x="373.41" y="131.68" width="4.59" height="3.44" fill="#1010f0"/>
<rect x="373.41" y="135.07" width="4.59" height="3.44" fill="#7474f0"/>
<rect x="377.95" y="101.19" width="4.59" height="3.44" fill="#b8b8f2"/>
<rect x="377.95" y="104.58" width="4.59" height="3.44" fill="#5050f0"/>
<rect x="377.95" y="107.97" width="4.59" height="3.44" fill="#1010f0"/>
<rect x="377.95" y="111.36" width="4.59" height="3.44" fill="#1010f0"/>
<rect x="377.95" y="114.74" width="4.59" height="3.44" fill="#2e6cb8"/>
<rect x="377.95" y="118.13" width="4.59" height="3.44" fill="#2e6cb8"/>
<rect x="377.95" y="121.52" width="4.59" height="3.44" fill="#1a40d8"/>
<rect x="377.95" y="124.91" width="4.59" height="3.44" fill="#1010f0"/>
<rect x="377.95" y="128.29" width="4.59" height="3.44" fill="#1010f0"/>
<rect x="377.95" y="131.68" width="4.59" height="3.44" fill="#7474f0"/>
<rect x="377.95" y="135.07" width="4.59" height="3.44" fill="#b8b8f2"/>
<rect x="382.49" y="101.19" width="4.59" height="3.44" fill="#b8b8f2"/>
<rect x="382.49" y="104.58" width="4.59" height="3.44" fill="#7474f0"/>
<rect x="382.49" y="107.97" width="4.59" height="3.44" fill="#1010f0"/>
<rect x="382.49" y="111.36" width="4.59" height="3.44" fill="#1010f0"/>
<rect x="382.49" y="114.74" width="4.59" height="3.44" fill="#2e6cb8"/>
<rect x="382.49" y="118.13" width="4.59" height="3.44" fill="#2e6cb8"/>
<rect x="382.49" y="121.52" width="4.59" height="3.44" fill="#1a40d8"/>
<rect x="382.49" y="124.91" width="4.59" height="3.44" fill="#1010f0"/>
<rect x="382.49" y="128.29" width="4.59" height="3.44" fill="#5050f0"/>
<rect x="382.49" y="131.68" width="4.59" height="3.44" fill="#9c9cf0"/>
<rect x="382.49" y="135.07" width="4.59" height="3.44" fill="#dcdcdc"/>
<rect x="387.02" y="97.81" width="4.59" height="3.44" fill="#dcdcdc"/>
<rect x="387.02" y="101.19" width="4.59" height="3.44" fill="#dcdcdc"/>
<rect x="387.02" y="104.58" width="4.59" height="3.44" fill="#9c9cf0"/>
<rect x="387.02" y="107.97" width="4.59" height="3.44" fill="#5050f0"/>
<rect x="387.02" y="111.36" width="4.59" height="3.44" fill="#1010f0"/>
<rect x="387.02" y="114.74" width="4.59" height="3.44" fill="#1010f0"/>
<rect x="387.02" y="118.13" width="4.59" height="3.44" fill="#1010f0"/>
<rect x="387.02" y="121.52" width="4.59" height="3.44" fill="#1010f0"/>
<rect x="387.02" y="124.91" width="4.59" height="3.44" fill="#5050f0"/>
<rect x="387.02" y="128.29" width="4.59" height="3.44" fill="#9c9cf0"/>
<rect x="387.02" y="131.68" width="4.59" height="3.44" fill="#b8b8f2"/>
<rect x="387.02" y="135.07" width="4.59" height="3.44" fill="#dcdcdc"/>
<rect x="391.56" y="97.81" width="4.59" height="3.44" fill="#dcdcdc"/>
<rect x="391.56" y="101.19" width="4.59" height="3.44" fill="#d0d0f2"/>
<rect x="391.56" y="104.58" width="4.59" height="3.44" fill="#b8b8f2"/>
<rect x="391.56" y="107.97" width="4.59" height="3.44" fill="#9c9cf0"/>
<rect x="391.56" y="111.36" width="4.59" height="3.44" fill="#7474f0"/>
<rect x="391.56" y="114.74" width="4.59" height="3.44" fill="#5050f0"/>
<rect x="391.56" y="118.13" width="4.59" height="3.44" fill="#7474f0"/>
<rect x="391.56" y="121.52" width="4.59" height="3.44" fill="#7474f0"/>
<rect x="391.56" y="124.91" width="4.59" height="3.44" fill="#9c9cf0"/>
<rect x="391.56" y="128.29" width="4.59" height="3.44" fill="#b8b8f2"/>
<rect x="391.56" y="131.68" width="4.59" height="3.44" fill="#d0d0f2"/>
<rect x="391.56" y="135.07" width="4.59" height="3.44" fill="#dcdcdc"/>
<rect x="396.10" y="101.19" width="4.59" height="3.44" fill="#b8b8f2"/>
<rect x="396.10" y="104.58" width="4.59" height="3.44" fill="#9c9cf0"/>
<rect x="396.10" y="107.97" width="4.59" height="3.44" fill="#7474f0"/>
<rect x="396.10" y="111.36" width="4.59" height="3.44" fill="#5050f0"/>
<rect x="396.10" y="114.74" width="4.59" height="3.44" fill="#2c2cf0"/>
<rect x="396.10" y="118.13" width="4.59" height="3.44" fill="#5050f0"/>
<rect x="396.10" y="121.52" width="4.59" height="3.44" fill="#7474f0"/>
<rect x="396.10" y="124.91" width="4.59" height="3.44" fill="#9c9cf0"/>
<rect x="396.10" y="128.29" width="4.59" height="3.44" fill="#b8b8f2"/>
<rect x="396.10" y="131.68" width="4.59" height="3.44" fill="#dcdcdc"/>
<rect x="396.10" y="135.07" width="4.59" height="3.44" fill="#dcdcdc"/>
<rect x="396.10" y="138.46" width="4.59" height="3.44" fill="#dcdcdc"/>
<rect x="400.63" y="101.19" width="4.59" height="3.44" fill="#dcdcdc"/>
<rect x="400.63" y="104.58" width="4.59" height="3.44" fill="#9c9cf0"/>
<rect x="400.63" y="107.97" width="4.59" height="3.44" fill="#7474f0"/>
<rect x="400.63" y="111.36" width="4.59" height="3.44" fill="#5050f0"/>
<rect x="400.63" y="114.74" width="4.59" height="3.44" fill="#2c2cf0"/>
<rect x="400.63" y="118.13" width="4.59" height="3.44" fill="#2c2cf0"/>
<rect x="400.63" y="121.52" width="4.59" height="3.44" fill="#5050f0"/>
<rect x="400.63" y="124.91" width="4.59" height="3.44" fill="#7474f0"/>
<rect x="400.63" y="128.29" width="4.59" height="3.44" fill="#9c9cf0"/>
<rect x="400.63" y="131.68" width="4.59" height="3.44" fill="#b8b8f2"/>
<rect x="400.63" y="135.07" width="4.59" height="3.44" fill="#dcdcdc"/>
<rect x="400.63" y="138.46" width="4.59" height="3.44" fill="#dcdcdc"/>
<rect x="405.17" y="101.19" width="4.59" height="3.44" fill="#9c9cf0"/>
<rect x="405.17" y="104.58" width="4.59" height="3.44" fill="#5050f0"/>
<rect x="405.17" y="107.97" width="4.59" height="3.44" fill="#2c2cf0"/>
<rect x="405.17" y="111.36" width="4.59" height="3.44" fill="#2c2cf0"/>
<rect x="405.17" y="114.74" width="4.59" height="3.44" fill="#7474f0"/>
<rect x="405.17" y="118.13" width="4.59" height="3.44" fill="#9c9cf0"/>
<rect x="405.17" y="121.52" width="4.59" height="3.44" fill="#9c9cf0"/>
<rect x="405.17" y="124.91" width="4.59" height="3.44" fill="#b8b8f2"/>
<rect x="405.17" y="128.29" width="4.59" height="3.44" fill="#dcdcdc"/>
<rect x="405.17" y="131.68" width="4.59" height="3.44" fill="#dcdcdc"/>
<rect x="409.71" y="101.19" width="4.59" height="3.44" fill="#dcdcdc"/>
<rect x="409.71" y="104.58" width="4.59" height="3.44" fill="#b8b8f2"/>
<rect x="409.71" y="107.97" width="4.59" height="3.44" fill="#9c9cf0"/>
<rect x="409.71" y="111.36" width="4.59" height="3.44" fill="#7474f0"/>
<rect x="409.71" y="114.74" width="4.59" height="3.44" fill="#9c9cf0"/>
<rect x="409.71" y="118.13" width="4.59" height="3.44" fill="#9c9cf0"/>
<rect x="409.71" y="121.52" width="4.59" height="3.44" fill="#b8b8f2"/>
<rect x="409.71" y="124.91" width="4.59" height="3.44" fill="#d0d0f2"/>
<rect x="409.71" y="128.29" width="4.59" height="3.44" fill="#dcdcdc"/>
<rect x="409.71" y="131.68" width="4.59" height="3.44" fill="#dcdcdc"/>
<rect x="409.71" y="135.07" width="4.59" height="3.44" fill="#dcdcdc"/>
<rect x="414.25" y="101.19" width="4.59" height="3.44" fill="#dcdcdc"/>
<rect x="414.25" y="104.58" width="4.59" height="3.44" fill="#d0d0f2"/>
<rect x="414.25" y="107.97" width="4.59" height="3.44" fill="#9c9cf0"/>
<rect x="414.25" y="111.36" width="4.59" height="3.44" fill="#9c9cf0"/>
<rect x="414.25" y="114.74" width="4.59" height="3.44" fill="#9c9cf0"/>
<rect x="414.25" y="118.13" width="4.59" height="3.44" fill="#9c9cf0"/>
<rect x="414.25" y="121.52" width="4.59" height="3.44" fill="#b8b8f2"/>
<rect x="414.25" y="124.91" width="4.59" height="3.44" fill="#dcdcdc"/>
<rect x="414.25" y="128.29" width="4.59" height="3.44" fill="#dcdcdc"/>
<rect x="414.25" y="131.68" width="4.59" height="3.44" fill="#dcdcdc"/>
<rect x="414.25" y="135.07" width="4.59" height="3.44" fill="#dcdcdc"/>
<rect x="418.78" y="101.19" width="4.59" height="3.44" fill="#dcdcdc"/>
<rect x="418.78" y="104.58" width="4.59" height="3.44" fill="#b8b8f2"/>
<rect x="418.78" y="107.97" width="4.59" height="3.44" fill="#9c9cf0"/>
<rect x="418.78" y="111.36" width="4.59" height="3.44" fill="#7474f0"/>
<rect x="418.78" y="114.74" width="4.59" height="3.44" fill="#7474f0"/>
<rect x="418.78" y="118.13" width="4.59" height="3.44" fill="#9c9cf0"/>
<rect x="418.78" y="121.52" width="4.59" height="3.44" fill="#b8b8f2"/>
<rect x="418.78" y="124.91" width="4.59" height="3.44" fill="#dcdcdc"/>
<rect x="418.78" y="128.29" width="4.59" height="3.44" fill="#dcdcdc"/>
<rect x="418.78" y="131.68" width="4.59" height="3.44" fill="#dcdcdc"/>
<rect x="418.78" y="135.07" width="4.59" height="3.44" fill="#dcdcdc"/>
<rect x="423.32" y="101.19" width="4.59" height="3.44" fill="#dcdcdc"/>
<rect x="423.32" y="104.58" width="4.59" height="3.44" fill="#b8b8f2"/>
<rect x="423.32" y="107.97" width="4.59" height="3.44" fill="#9c9cf0"/>
<rect x="423.32" y="111.36" width="4.59" height="3.44" fill="#7474f0"/>
<rect x="423.32" y="114.74" width="4.59" height="3.44" fill="#9c9cf0"/>
<rect x="423.32" y="118.13" width="4.59" height="3.44" fill="#b8b8f2"/>
<rect x="423.32" y="121.52" width="4.59" height="3.44" fill="#dcdcdc"/>
<rect x="423.32" y="124.91" width="4.59" height="3.44" fill="#dcdcdc"/>
<rect x="423.32" y="128.29" width="4.59" height="3.44" fill="#dcdcdc"/>
<rect x="423.32" y="131.68" width="4.59" height="3.44" fill="#dcdcdc"/>
<rect x="423.32" y="135.07" width="4.59" height="3.44" fill="#dcdcdc"/>
<rect x="427.86" y="101.19" width="4.59" height="3.44" fill="#dcdcdc"/>
<rect x="427.86" y="104.58" width="4.59" height="3.44" fill="#b8b8f2"/>
<rect x="427.86" y="107.97" width="4.59" height="3.44" fill="#b8b8f2"/>
<rect x="427.86" y="111.36" width="4.59" height="3.44" fill="#9c9cf0"/>
<rect x="427.86" y="114.74" width="4.59" height="3.44" fill="#9c9cf0"/>
<rect x="427.86" y="118.13" width="4.59" height="3.44" fill="#b8b8f2"/>
<rect x="427.86" y="121.52" width="4.59" height="3.44" fill="#d0d0f2"/>
<rect x="427.86" y="124.91" width="4.59" height="3.44" fill="#dcdcdc"/>
<rect x="427.86" y="128.29" width="4.59" height="3.44" fill="#dcdcdc"/>
<rect x="427.86" y="131.68" width="4.59" height="3.44" fill="#dcdcdc"/>
<rect x="427.86" y="135.07" width="4.59" height="3.44" fill="#dcdcdc"/>
<rect x="432.39" y="101.19" width="4.59" height="3.44" fill="#dcdcdc"/>
<rect x="432.39" y="104.58" width="4.59" height="3.44" fill="#dcdcdc"/>
<rect x="432.39" y="107.97" width="4.59" height="3.44" fill="#d0d0f2"/>
<rect x="432.39" y="111.36" width="4.59" height="3.44" fill="#b8b8f2"/>
<rect x="432.39" y="114.74" width="4.59" height="3.44" fill="#b8b8f2"/>
<rect x="432.39" y="118.13" width="4.59" height="3.44" fill="#d0d0f2"/>
<rect x="432.39" y="121.52" width="4.59" height="3.44" fill="#dcdcdc"/>
<rect x="432.39" y="124.91" width="4.59" height="3.44" fill="#dcdcdc"/>
<rect x="432.39" y="128.29" width="4.59" height="3.44" fill="#dcdcdc"/>
<rect x="432.39" y="131.68" width="4.59" height="3.44" fill="#dcdcdc"/>
<rect x="432.39" y="135.07" width="4.59" height="3.44" fill="#dcdcdc"/>
<rect x="436.93" y="101.19" width="4.59" height="3.44" fill="#dcdcdc"/>
<rect x="436.93" y="104.58" width="4.59" height="3.44" fill="#dcdcdc"/>
<rect x="436.93" y="107.97" width="4.59" height="3.44" fill="#d0d0f2"/>
<rect x="436.93" y="111.36" width="4.59" height="3.44" fill="#b8b8f2"/>
<rect x="436.93" y="114.74" width="4.59" height="3.44" fill="#b8b8f2"/>
<rect x="436.93" y="118.13" width="4.59" height="3.44" fill="#d0d0f2"/>
<rect x="436.93" y="121.52" width="4.59" height="3.44" fill="#dcdcdc"/>
<rect x="436.93" y="124.91" width="4.59" height="3.44" fill="#dcdcdc"/>
<rect x="436.93" y="128.29" width="4.59" height="3.44" fill="#dcdcdc"/>
<rect x="436.93" y="131.68" width="4.59" height="3.44" fill="#dcdcdc"/>
<rect x="436.93" y="135.07" width="4.59" height="3.44" fill="#dcdcdc"/>
<rect x="436.93" y="138.46" width="4.59" height="3.44" fill="#dcdcdc"/>
<rect x="441.47" y="104.58" width="4.59" height="3.44" fill="#d0d0f2"/>
<rect x="441.47" y="107.97" width="4.59" height="3.44" fill="#9c9cf0"/>
<rect x="441.47" y="111.36" width="4.59" height="3.44" fill="#7474f0"/>
<rect x="441.47" y="114.74" width="4.59" height="3.44" fill="#9c9cf0"/>
<rect x="441.47" y="118.13" width="4.59" height="3.44" fill="#b8b8f2"/>
<rect x="441.47" y="121.52" width="4.59" height="3.44" fill="#d0d0f2"/>
<rect x="441.47" y="124.91" width="4.59" height="3.44" fill="#dcdcdc"/>
<rect x="441.47" y="128.29" width="4.59" height="3.44" fill="#dcdcdc"/>
<rect x="441.47" y="131.68" width="4.59" height="3.44" fill="#dcdcdc"/>
<rect x="441.47" y="135.07" width="4.59" height="3.44" fill="#dcdcdc"/>
<rect x="441.47" y="138.46" width="4.59" height="3.44" fill="#dcdcdc"/>
<rect x="446.00" y="104.58" width="4.59" height="3.44" fill="#dcdcdc"/>
<rect x="446.00" y="107.97" width="4.59" height="3.44" fill="#b8b8f2"/>
<rect x="446.00" y="111.36" width="4.59" height="3.44" fill="#9c9cf0"/>
<rect x="446.00" y="114.74" width="4.59" height="3.44" fill="#9c9cf0"/>
<rect x="446.00" y="118.13" width="4.59" height="3.44" fill="#9c9cf0"/>
<rect x="446.00" y="121.52" width="4.59" height="3.44" fill="#b8b8f2"/>
<rect x="446.00" y="124.91" width="4.59" height="3.44" fill="#dcdcdc"/>
<rect x="446.00" y="128.29" width="4.59" height="3.44" fill="#dcdcdc"/>
<rect x="446.00" y="131.68" width="4.59" height="3.44" fill="#dcdcdc"/>
<rect x="446.00" y="135.07" width="4.59" height="3.44" fill="#dcdcdc"/>
<rect x="446.00" y="138.46" width="4.59" height="3.44" fill="#dcdcdc"/>
<rect x="450.54" y="104.58" width="4.59" height="3.44" fill="#dcdcdc"/>
<rect x="450.54" y="107.97" width="4.59" height="3.44" fill="#d0d0f2"/>
<rect x="450.54" y="111.36" width="4.59" height="3.44" fill="#b8b8f2"/>
<rect x="450.54" y="114.74" width="4.59" height="3.44" fill="#b8b8f2"/>
<rect x="450.54" y="118.13" width="4.59" height="3.44" fill="#d0d0f2"/>
<rect x="450.54" y="121.52" width="4.59" height="3.44" fill="#dcdcdc"/>
<rect x="450.54" y="124.91" width="4.59" height="3.44" fill="#dcdcdc"/>
<rect x="450.54" y="128.29" width="4.59" height="3.44" fill="#dcdcdc"/>
<rect x="450.54" y="131.68" width="4.59" height="3.44" fill="#dcdcdc"/>
<rect x="450.54" y="135.07" width="4.59" height="3.44" fill="#dcdcdc"/>
<rect x="450.54" y="138.46" width="4.59" height="3.44" fill="#dcdcdc"/>
<rect x="455.08" y="104.58" width="4.59" height="3.44" fill="#d0d0f2"/>
<rect x="455.08" y="107.97" width="4.59" height="3.44" fill="#b8b8f2"/>
<rect x="455.08" y="111.36" width="4.59" height="3.44" fill="#b8b8f2"/>
<rect x="455.08" y="114.74" width="4.59" height="3.44" fill="#9c9cf0"/>
<rect x="455.08" y="118.13" width="4.59" height="3.44" fill="#b8b8f2"/>
<rect x="455.08" y="121.52" width="4.59" height="3.44" fill="#b8b8f2"/>
<rect x="455.08" y="124.91" width="4.59" height="3.44" fill="#dcdcdc"/>
<rect x="455.08" y="128.29" width="4.59" height="3.44" fill="#dcdcdc"/>
<rect x="459.62" y="104.58" width="4.59" height="3.44" fill="#dcdcdc"/>
<rect x="459.62" y="107.97" width="4.59" height="3.44" fill="#d0d0f2"/>
<rect x="459.62" y="111.36" width="4.59" height="3.44" fill="#b8b8f2"/>
<rect x="459.62" y="114.74" width="4.59" height="3.44" fill="#b8b8f2"/>
<rect x="459.62" y="118.13" width="4.59" height="3.44" fill="#b8b8f2"/>
<rect x="459.62" y="121.52" width="4.59" height="3.44" fill="#d0d0f2"/>
<rect x="459.62" y="124.91" width="4.59" height="3.44" fill="#dcdcdc"/>
<rect x="459.62" y="128.29" width="4.59" height="3.44" fill="#dcdcdc"/>
<rect x="464.15" y="101.19" width="4.59" height="3.44" fill="#dcdcdc"/>
<rect x="464.15" y="104.58" width="4.59" height="3.44" fill="#dcdcdc"/>
<rect x="464.15" y="107.97" width="4.59" height="3.44" fill="#d0d0f2"/>
<rect x="464.15" y="111.36" width="4.59" height="3.44" fill="#b8b8f2"/>
<rect x="464.15" y="114.74" width="4.59" height="3.44" fill="#9c9cf0"/>
<rect x="464.15" y="118.13" width="4.59" height="3.44" fill="#b8b8f2"/>
<rect x="464.15" y="121.52" width="4.59" height="3.44" fill="#d0d0f2"/>
<rect x="464.15" y="124.91" width="4.59" height="3.44" fill="#dcdcdc"/>
<rect x="464.15" y="128.29" width="4.59" height="3.44" fill="#dcdcdc"/>
<rect x="468.69" y="101.19" width="4.59" height="3.44" fill="#dcdcdc"/>
<rect x="468.69" y="104.58" width="4.59" height="3.44" fill="#9c9cf0"/>
<rect x="468.69" y="107.97" width="4.59" height="3.44" fill="#7474f0"/>
<rect x="468.69" y="111.36" width="4.59" height="3.44" fill="#7474f0"/>
<rect x="468.69" y="114.74" width="4.59" height="3.44" fill="#5050f0"/>
<rect x="468.69" y="118.13" width="4.59" height="3.44" fill="#7474f0"/>
<rect x="468.69" y="121.52" width="4.59" height="3.44" fill="#9c9cf0"/>
<rect x="468.69" y="124.91" width="4.59" height="3.44" fill="#b8b8f2"/>
<rect x="468.69" y="128.29" width="4.59" height="3.44" fill="#dcdcdc"/>
<rect x="473.23" y="101.19" width="4.59" height="3.44" fill="#dcdcdc"/>
<rect x="473.23" y="104.58" width="4.59" height="3.44" fill="#b8b8f2"/>
<rect x="473.23" y="107.97" width="4.59" height="3.44" fill="#9c9cf0"/>
<rect x="473.23" y="111.36" width="4.59" height="3.44" fill="#7474f0"/>
<rect x="473.23" y="114.74" width="4.59" height="3.44" fill="#7474f0"/>
<rect x="473.23" y="118.13" width="4.59" height="3.44" fill="#7474f0"/>
<rect x="473.23" y="121.52" width="4.59" height="3.44" fill="#9c9cf0"/>
<rect x="473.23" y="124.91" width="4.59" height="3.44" fill="#dcdcdc"/>
<rect x="473.23" y="128.29" width="4.59" height="3.44" fill="#dcdcdc"/>
<rect x="477.76" y="101.19" width="4.54" height="3.44" fill="#dcdcdc"/>
<rect x="477.76" y="104.58" width="4.54" height="3.44" fill="#9c9cf0"/>
<rect x="477.76" y="107.97" width="4.54" height="3.44" fill="#9c9cf0"/>
<rect x="477.76" y="111.36" width="4.54" height="3.44" fill="#7474f0"/>
<rect x="477.76" y="114.74" width="4.54" height="3.44" fill="#7474f0"/>
<rect x="477.76" y="118.13" width="4.54" height="3.44" fill="#7474f0"/>
<rect x="477.76" y="121.52" width="4.54" height="3.44" fill="#9c9cf0"/>
<rect x="477.76" y="124.91" width="4.54" height="3.44" fill="#dcdcdc"/>
<rect x="477.76" y="128.29" width="4.54" height="3.44" fill="#dcdcdc"/>
</g>
<line x1="28.6" y1="136.76" x2="482.3" y2="136.76" stroke="#000" stroke-width="2.3" stroke-dasharray="7.5 7.5"/>
<text x="255.45" y="13.60" text-anchor="middle" font-size="11.5" font-weight="bold">EarthCARE radar reflectivity</text>
<text x="255.45" y="184.40" text-anchor="middle" font-size="13" font-weight="bold" fill="#262626">Along track [km]</text>
<text transform="translate(14.3,85.95) rotate(-90)" x="0" y="0" text-anchor="middle" font-size="13.3" font-weight="bold" fill="#262626">Height [km]</text>
<text x="49.8" y="45.40" font-size="14" font-weight="bold" letter-spacing="0.8">(a)</text>
<text x="76.4" y="38.80" font-size="12">Oct 04, 2024</text>
<text x="76.4" y="54.20" font-size="12" letter-spacing="-0.2">138.6° E, 37.1° S</text>
<rect x="303.1" y="55.40" width="117.90" height="8.70" fill="url(#cm)" stroke="#b4b4b4" stroke-width="0.8"/>
<line x1="316.20" y1="55.400000000000006" x2="316.20" y2="56.80" stroke="#333" stroke-width="0.8"/>
<text x="316.20" y="50.50" text-anchor="middle" font-size="10.3" font-weight="bold">-30</text>
<line x1="342.40" y1="55.400000000000006" x2="342.40" y2="56.80" stroke="#333" stroke-width="0.8"/>
<text x="342.40" y="50.50" text-anchor="middle" font-size="10.3" font-weight="bold">-20</text>
<line x1="368.60" y1="55.400000000000006" x2="368.60" y2="56.80" stroke="#333" stroke-width="0.8"/>
<text x="368.60" y="50.50" text-anchor="middle" font-size="10.3" font-weight="bold">-10</text>
<line x1="394.80" y1="55.400000000000006" x2="394.80" y2="56.80" stroke="#333" stroke-width="0.8"/>
<text x="394.80" y="50.50" text-anchor="middle" font-size="10.3" font-weight="bold">0</text>
<text x="421.00" y="50.50" text-anchor="middle" font-size="10.3" font-weight="bold">10</text>
<text x="362.05" y="32.00" text-anchor="middle" font-size="10.3" font-weight="bold">dBZ</text>
<rect x="28.6" y="220.7" width="453.70" height="135.40" fill="none" stroke="#262626" stroke-width="1.3"/>
<text x="28.60" y="371.20" text-anchor="middle" font-size="11.5" font-weight="bold" fill="#262626">2280</text>
<line x1="73.97" y1="356.1" x2="73.97" y2="350.6" stroke="#262626" stroke-width="1.3"/>
<line x1="73.97" y1="220.7" x2="73.97" y2="226.2" stroke="#262626" stroke-width="1.3"/>
<text x="73.97" y="371.20" text-anchor="middle" font-size="11.5" font-weight="bold" fill="#262626">2290</text>
<line x1="119.34" y1="356.1" x2="119.34" y2="350.6" stroke="#262626" stroke-width="1.3"/>
<line x1="119.34" y1="220.7" x2="119.34" y2="226.2" stroke="#262626" stroke-width="1.3"/>
<text x="119.34" y="371.20" text-anchor="middle" font-size="11.5" font-weight="bold" fill="#262626">2300</text>
<line x1="164.71" y1="356.1" x2="164.71" y2="350.6" stroke="#262626" stroke-width="1.3"/>
<line x1="164.71" y1="220.7" x2="164.71" y2="226.2" stroke="#262626" stroke-width="1.3"/>
<text x="164.71" y="371.20" text-anchor="middle" font-size="11.5" font-weight="bold" fill="#262626">2310</text>
<line x1="210.08" y1="356.1" x2="210.08" y2="350.6" stroke="#262626" stroke-width="1.3"/>
<line x1="210.08" y1="220.7" x2="210.08" y2="226.2" stroke="#262626" stroke-width="1.3"/>
<text x="210.08" y="371.20" text-anchor="middle" font-size="11.5" font-weight="bold" fill="#262626">2320</text>
<line x1="255.45" y1="356.1" x2="255.45" y2="350.6" stroke="#262626" stroke-width="1.3"/>
<line x1="255.45" y1="220.7" x2="255.45" y2="226.2" stroke="#262626" stroke-width="1.3"/>
<text x="255.45" y="371.20" text-anchor="middle" font-size="11.5" font-weight="bold" fill="#262626">2330</text>
<line x1="300.82" y1="356.1" x2="300.82" y2="350.6" stroke="#262626" stroke-width="1.3"/>
<line x1="300.82" y1="220.7" x2="300.82" y2="226.2" stroke="#262626" stroke-width="1.3"/>
<text x="300.82" y="371.20" text-anchor="middle" font-size="11.5" font-weight="bold" fill="#262626">2340</text>
<line x1="346.19" y1="356.1" x2="346.19" y2="350.6" stroke="#262626" stroke-width="1.3"/>
<line x1="346.19" y1="220.7" x2="346.19" y2="226.2" stroke="#262626" stroke-width="1.3"/>
<text x="346.19" y="371.20" text-anchor="middle" font-size="11.5" font-weight="bold" fill="#262626">2350</text>
<line x1="391.56" y1="356.1" x2="391.56" y2="350.6" stroke="#262626" stroke-width="1.3"/>
<line x1="391.56" y1="220.7" x2="391.56" y2="226.2" stroke="#262626" stroke-width="1.3"/>
<text x="391.56" y="371.20" text-anchor="middle" font-size="11.5" font-weight="bold" fill="#262626">2360</text>
<line x1="436.93" y1="356.1" x2="436.93" y2="350.6" stroke="#262626" stroke-width="1.3"/>
<line x1="436.93" y1="220.7" x2="436.93" y2="226.2" stroke="#262626" stroke-width="1.3"/>
<text x="436.93" y="371.20" text-anchor="middle" font-size="11.5" font-weight="bold" fill="#262626">2370</text>
<text x="482.30" y="371.20" text-anchor="middle" font-size="11.5" font-weight="bold" fill="#262626">2380</text>
<text x="25.2" y="360.30" text-anchor="end" font-size="12" font-weight="bold" fill="#262626">0</text>
<line x1="28.6" y1="322.25" x2="34.1" y2="322.25" stroke="#262626" stroke-width="1.3"/>
<line x1="482.3" y1="322.25" x2="476.8" y2="322.25" stroke="#262626" stroke-width="1.3"/>
<text x="25.2" y="326.45" text-anchor="end" font-size="12" font-weight="bold" fill="#262626">1</text>
<line x1="28.6" y1="288.40" x2="34.1" y2="288.40" stroke="#262626" stroke-width="1.3"/>
<line x1="482.3" y1="288.40" x2="476.8" y2="288.40" stroke="#262626" stroke-width="1.3"/>
<text x="25.2" y="292.60" text-anchor="end" font-size="12" font-weight="bold" fill="#262626">2</text>
<line x1="28.6" y1="254.55" x2="34.1" y2="254.55" stroke="#262626" stroke-width="1.3"/>
<line x1="482.3" y1="254.55" x2="476.8" y2="254.55" stroke="#262626" stroke-width="1.3"/>
<text x="25.2" y="258.75" text-anchor="end" font-size="12" font-weight="bold" fill="#262626">3</text>
<text x="25.2" y="224.90" text-anchor="end" font-size="12" font-weight="bold" fill="#262626">4</text>
<g filter="url(#bl)" shape-rendering="crispEdges">
<rect x="28.60" y="314.32" width="4.59" height="3.44" fill="#dcdcdc"/>
<rect x="28.60" y="317.71" width="4.59" height="3.44" fill="#a8a8f2"/>
<rect x="28.60" y="321.09" width="4.59" height="3.44" fill="#8888f0"/>
<rect x="28.60" y="324.48" width="4.59" height="3.44" fill="#8888f0"/>
<rect x="28.60" y="327.86" width="4.59" height="3.44" fill="#8888f0"/>
<rect x="28.60" y="331.25" width="4.59" height="3.44" fill="#a8a8f2"/>
<rect x="28.60" y="334.63" width="4.59" height="3.44" fill="#a8a8f2"/>
<rect x="28.60" y="338.02" width="4.59" height="3.44" fill="#dcdcdc"/>
<rect x="33.14" y="314.32" width="4.59" height="3.44" fill="#dcdcdc"/>
<rect x="33.14" y="317.71" width="4.59" height="3.44" fill="#a8a8f2"/>
<rect x="33.14" y="321.09" width="4.59" height="3.44" fill="#8888f0"/>
<rect x="33.14" y="324.48" width="4.59" height="3.44" fill="#6868f0"/>
<rect x="33.14" y="327.86" width="4.59" height="3.44" fill="#8888f0"/>
<rect x="33.14" y="331.25" width="4.59" height="3.44" fill="#8888f0"/>
<rect x="33.14" y="334.63" width="4.59" height="3.44" fill="#a8a8f2"/>
<rect x="33.14" y="338.02" width="4.59" height="3.44" fill="#dcdcdc"/>
<rect x="37.67" y="314.32" width="4.59" height="3.44" fill="#a8a8f2"/>
<rect x="37.67" y="317.71" width="4.59" height="3.44" fill="#8888f0"/>
<rect x="37.67" y="321.09" width="4.59" height="3.44" fill="#6868f0"/>
<rect x="37.67" y="324.48" width="4.59" height="3.44" fill="#6868f0"/>
<rect x="37.67" y="327.86" width="4.59" height="3.44" fill="#6868f0"/>
<rect x="37.67" y="331.25" width="4.59" height="3.44" fill="#8888f0"/>
<rect x="37.67" y="334.63" width="4.59" height="3.44" fill="#a8a8f2"/>
<rect x="37.67" y="338.02" width="4.59" height="3.44" fill="#dcdcdc"/>
<rect x="42.21" y="314.32" width="4.59" height="3.44" fill="#a8a8f2"/>
<rect x="42.21" y="317.71" width="4.59" height="3.44" fill="#4848f0"/>
<rect x="42.21" y="321.09" width="4.59" height="3.44" fill="#2828f0"/>
<rect x="42.21" y="324.48" width="4.59" height="3.44" fill="#1010f0"/>
<rect x="42.21" y="327.86" width="4.59" height="3.44" fill="#2828f0"/>
<rect x="42.21" y="331.25" width="4.59" height="3.44" fill="#4848f0"/>
<rect x="42.21" y="334.63" width="4.59" height="3.44" fill="#6868f0"/>
<rect x="42.21" y="338.02" width="4.59" height="3.44" fill="#8888f0"/>
<rect x="46.75" y="314.32" width="4.59" height="3.44" fill="#c8c8f2"/>
<rect x="46.75" y="317.71" width="4.59" height="3.44" fill="#4848f0"/>
<rect x="46.75" y="321.09" width="4.59" height="3.44" fill="#1010f0"/>
<rect x="46.75" y="324.48" width="4.59" height="3.44" fill="#1010f0"/>
<rect x="46.75" y="327.86" width="4.59" height="3.44" fill="#2828f0"/>
<rect x="46.75" y="331.25" width="4.59" height="3.44" fill="#4848f0"/>
<rect x="46.75" y="334.63" width="4.59" height="3.44" fill="#8888f0"/>
<rect x="46.75" y="338.02" width="4.59" height="3.44" fill="#8888f0"/>
<rect x="51.28" y="314.32" width="4.59" height="3.44" fill="#8888f0"/>
<rect x="51.28" y="317.71" width="4.59" height="3.44" fill="#4848f0"/>
<rect x="51.28" y="321.09" width="4.59" height="3.44" fill="#1010f0"/>
<rect x="51.28" y="324.48" width="4.59" height="3.44" fill="#1010f0"/>
<rect x="51.28" y="327.86" width="4.59" height="3.44" fill="#1010f0"/>
<rect x="51.28" y="331.25" width="4.59" height="3.44" fill="#2828f0"/>
<rect x="51.28" y="334.63" width="4.59" height="3.44" fill="#6868f0"/>
<rect x="51.28" y="338.02" width="4.59" height="3.44" fill="#8888f0"/>
<rect x="51.28" y="341.40" width="4.59" height="3.44" fill="#a8a8f2"/>
<rect x="55.82" y="314.32" width="4.59" height="3.44" fill="#8888f0"/>
<rect x="55.82" y="317.71" width="4.59" height="3.44" fill="#2828f0"/>
<rect x="55.82" y="321.09" width="4.59" height="3.44" fill="#1010f0"/>
<rect x="55.82" y="324.48" width="4.59" height="3.44" fill="#1a40d8"/>
<rect x="55.82" y="327.86" width="4.59" height="3.44" fill="#1010f0"/>
<rect x="55.82" y="331.25" width="4.59" height="3.44" fill="#1010f0"/>
<rect x="55.82" y="334.63" width="4.59" height="3.44" fill="#4848f0"/>
<rect x="55.82" y="338.02" width="4.59" height="3.44" fill="#8888f0"/>
<rect x="55.82" y="341.40" width="4.59" height="3.44" fill="#a8a8f2"/>
<rect x="60.36" y="310.94" width="4.59" height="3.44" fill="#dcdcdc"/>
<rect x="60.36" y="314.32" width="4.59" height="3.44" fill="#a8a8f2"/>
<rect x="60.36" y="317.71" width="4.59" height="3.44" fill="#6868f0"/>
<rect x="60.36" y="321.09" width="4.59" height="3.44" fill="#4848f0"/>
<rect x="60.36" y="324.48" width="4.59" height="3.44" fill="#2828f0"/>
<rect x="60.36" y="327.86" width="4.59" height="3.44" fill="#1010f0"/>
<rect x="60.36" y="331.25" width="4.59" height="3.44" fill="#1010f0"/>
<rect x="60.36" y="334.63" width="4.59" height="3.44" fill="#4848f0"/>
<rect x="60.36" y="338.02" width="4.59" height="3.44" fill="#8888f0"/>
<rect x="60.36" y="341.40" width="4.59" height="3.44" fill="#dcdcdc"/>
<rect x="64.90" y="310.94" width="4.59" height="3.44" fill="#dcdcdc"/>
<rect x="64.90" y="314.32" width="4.59" height="3.44" fill="#8888f0"/>
<rect x="64.90" y="317.71" width="4.59" height="3.44" fill="#4848f0"/>
<rect x="64.90" y="321.09" width="4.59" height="3.44" fill="#1010f0"/>
<rect x="64.90" y="324.48" width="4.59" height="3.44" fill="#1010f0"/>
<rect x="64.90" y="327.86" width="4.59" height="3.44" fill="#1010f0"/>
<rect x="64.90" y="331.25" width="4.59" height="3.44" fill="#1010f0"/>
<rect x="64.90" y="334.63" width="4.59" height="3.44" fill="#2828f0"/>
<rect x="64.90" y="338.02" width="4.59" height="3.44" fill="#6868f0"/>
<rect x="64.90" y="341.40" width="4.59" height="3.44" fill="#a8a8f2"/>
<rect x="69.43" y="310.94" width="4.59" height="3.44" fill="#c8c8f2"/>
<rect x="69.43" y="314.32" width="4.59" height="3.44" fill="#4848f0"/>
<rect x="69.43" y="317.71" width="4.59" height="3.44" fill="#1010f0"/>
<rect x="69.43" y="321.09" width="4.59" height="3.44" fill="#1010f0"/>
<rect x="69.43" y="324.48" width="4.59" height="3.44" fill="#1010f0"/>
<rect x="69.43" y="327.86" width="4.59" height="3.44" fill="#1010f0"/>
<rect x="69.43" y="331.25" width="4.59" height="3.44" fill="#1010f0"/>
<rect x="69.43" y="334.63" width="4.59" height="3.44" fill="#2828f0"/>
<rect x="69.43" y="338.02" width="4.59" height="3.44" fill="#8888f0"/>
<rect x="69.43" y="341.40" width="4.59" height="3.44" fill="#a8a8f2"/>
<rect x="73.97" y="310.94" width="4.59" height="3.44" fill="#c8c8f2"/>
<rect x="73.97" y="314.32" width="4.59" height="3.44" fill="#4848f0"/>
<rect x="73.97" y="317.71" width="4.59" height="3.44" fill="#1010f0"/>
<rect x="73.97" y="321.09" width="4.59" height="3.44" fill="#1010f0"/>
<rect x="73.97" y="324.48" width="4.59" height="3.44" fill="#1010f0"/>
<rect x="73.97" y="327.86" width="4.59" height="3.44" fill="#1010f0"/>
<rect x="73.97" y="331.25" width="4.59" height="3.44" fill="#1010f0"/>
<rect x="73.97" y="334.63" width="4.59" height="3.44" fill="#1010f0"/>
<rect x="73.97" y="338.02" width="4.59" height="3.44" fill="#6868f0"/>
<rect x="73.97" y="341.40" width="4.59" height="3.44" fill="#a8a8f2"/>
<rect x="78.51" y="310.94" width="4.59" height="3.44" fill="#a8a8f2"/>
<rect x="78.51" y="314.32" width="4.59" height="3.44" fill="#2828f0"/>
<rect x="78.51" y="317.71" width="4.59" height="3.44" fill="#1010f0"/>
<rect x="78.51" y="321.09" width="4.59" height="3.44" fill="#1a40d8"/>
<rect x="78.51" y="324.48" width="4.59" height="3.44" fill="#1a40d8"/>
<rect x="78.51" y="327.86" width="4.59" height="3.44" fill="#1a40d8"/>
<rect x="78.51" y="331.25" width="4.59" height="3.44" fill="#1010f0"/>
<rect x="78.51" y="334.63" width="4.59" height="3.44" fill="#1010f0"/>
<rect x="78.51" y="338.02" width="4.59" height="3.44" fill="#1010f0"/>
<rect x="78.51" y="341.40" width="4.59" height="3.44" fill="#8888f0"/>
<rect x="83.04" y="310.94" width="4.59" height="3.44" fill="#1010f0"/>
<rect x="83.04" y="314.32" width="4.59" height="3.44" fill="#1010f0"/>
<rect x="83.04" y="317.71" width="4.59" height="3.44" fill="#40a090"/>
<rect x="83.04" y="321.09" width="4.59" height="3.44" fill="#58c868"/>
<rect x="83.04" y="324.48" width="4.59" height="3.44" fill="#58c868"/>
<rect x="83.04" y="327.86" width="4.59" height="3.44" fill="#58c868"/>
<rect x="83.04" y="331.25" width="4.59" height="3.44" fill="#58c868"/>
<rect x="83.04" y="334.63" width="4.59" height="3.44" fill="#40a090"/>
<rect x="83.04" y="338.02" width="4.59" height="3.44" fill="#1010f0"/>
<rect x="83.04" y="341.40" width="4.59" height="3.44" fill="#1010f0"/>
<rect x="87.58" y="310.94" width="4.59" height="3.44" fill="#1010f0"/>
<rect x="87.58" y="314.32" width="4.59" height="3.44" fill="#2e6cb8"/>
<rect x="87.58" y="317.71" width="4.59" height="3.44" fill="#78f048"/>
<rect x="87.58" y="321.09" width="4.59" height="3.44" fill="#78f048"/>
<rect x="87.58" y="324.48" width="4.59" height="3.44" fill="#78f048"/>
<rect x="87.58" y="327.86" width="4.59" height="3.44" fill="#78f048"/>
<rect x="87.58" y="331.25" width="4.59" height="3.44" fill="#78f048"/>
<rect x="87.58" y="334.63" width="4.59" height="3.44" fill="#78f048"/>
<rect x="87.58" y="338.02" width="4.59" height="3.44" fill="#78f048"/>
<rect x="87.58" y="341.40" width="4.59" height="3.44" fill="#58c868"/>
<rect x="92.12" y="310.94" width="4.59" height="3.44" fill="#1010f0"/>
<rect x="92.12" y="314.32" width="4.59" height="3.44" fill="#58c868"/>
<rect x="92.12" y="317.71" width="4.59" height="3.44" fill="#78f048"/>
<rect x="92.12" y="321.09" width="4.59" height="3.44" fill="#78f048"/>
<rect x="92.12" y="324.48" width="4.59" height="3.44" fill="#78f048"/>
<rect x="92.12" y="327.86" width="4.59" height="3.44" fill="#78f048"/>
<rect x="92.12" y="331.25" width="4.59" height="3.44" fill="#78f048"/>
<rect x="92.12" y="334.63" width="4.59" height="3.44" fill="#78f048"/>
<rect x="92.12" y="338.02" width="4.59" height="3.44" fill="#78f048"/>
<rect x="92.12" y="341.40" width="4.59" height="3.44" fill="#58c868"/>
<rect x="96.66" y="304.17" width="4.59" height="3.44" fill="#dcdcdc"/>
<rect x="96.66" y="307.55" width="4.59" height="3.44" fill="#a8a8f2"/>
<rect x="96.66" y="310.94" width="4.59" height="3.44" fill="#1010f0"/>
<rect x="96.66" y="314.32" width="4.59" height="3.44" fill="#2e6cb8"/>
<rect x="96.66" y="317.71" width="4.59" height="3.44" fill="#58c868"/>
<rect x="96.66" y="321.09" width="4.59" height="3.44" fill="#78f048"/>
<rect x="96.66" y="324.48" width="4.59" height="3.44" fill="#78f048"/>
<rect x="96.66" y="327.86" width="4.59" height="3.44" fill="#78f048"/>
<rect x="96.66" y="331.25" width="4.59" height="3.44" fill="#58c868"/>
<rect x="96.66" y="334.63" width="4.59" height="3.44" fill="#58c868"/>
<rect x="96.66" y="338.02" width="4.59" height="3.44" fill="#40a090"/>
<rect x="96.66" y="341.40" width="4.59" height="3.44" fill="#2e6cb8"/>
<rect x="101.19" y="304.17" width="4.59" height="3.44" fill="#dcdcdc"/>
<rect x="101.19" y="307.55" width="4.59" height="3.44" fill="#8888f0"/>
<rect x="101.19" y="310.94" width="4.59" height="3.44" fill="#1010f0"/>
<rect x="101.19" y="314.32" width="4.59" height="3.44" fill="#58c868"/>
<rect x="101.19" y="317.71" width="4.59" height="3.44" fill="#78f048"/>
<rect x="101.19" y="321.09" width="4.59" height="3.44" fill="#78f048"/>
<rect x="101.19" y="324.48" width="4.59" height="3.44" fill="#78f048"/>
<rect x="101.19" y="327.86" width="4.59" height="3.44" fill="#78f048"/>
<rect x="101.19" y="331.25" width="4.59" height="3.44" fill="#78f048"/>
<rect x="101.19" y="334.63" width="4.59" height="3.44" fill="#78f048"/>
<rect x="101.19" y="338.02" width="4.59" height="3.44" fill="#78f048"/>
<rect x="101.19" y="341.40" width="4.59" height="3.44" fill="#58c868"/>
<rect x="105.73" y="304.17" width="4.59" height="3.44" fill="#dcdcdc"/>
<rect x="105.73" y="307.55" width="4.59" height="3.44" fill="#a8a8f2"/>
<rect x="105.73" y="310.94" width="4.59" height="3.44" fill="#1010f0"/>
<rect x="105.73" y="314.32" width="4.59" height="3.44" fill="#2e6cb8"/>
<rect x="105.73" y="317.71" width="4.59" height="3.44" fill="#58c868"/>
<rect x="105.73" y="321.09" width="4.59" height="3.44" fill="#78f048"/>
<rect x="105.73" y="324.48" width="4.59" height="3.44" fill="#78f048"/>
<rect x="105.73" y="327.86" width="4.59" height="3.44" fill="#78f048"/>
<rect x="105.73" y="331.25" width="4.59" height="3.44" fill="#78f048"/>
<rect x="105.73" y="334.63" width="4.59" height="3.44" fill="#58c868"/>
<rect x="105.73" y="338.02" width="4.59" height="3.44" fill="#58c868"/>
<rect x="105.73" y="341.40" width="4.59" height="3.44" fill="#1010f0"/>
<rect x="110.27" y="304.17" width="4.59" height="3.44" fill="#dcdcdc"/>
<rect x="110.27" y="307.55" width="4.59" height="3.44" fill="#a8a8f2"/>
<rect x="110.27" y="310.94" width="4.59" height="3.44" fill="#2828f0"/>
<rect x="110.27" y="314.32" width="4.59" height="3.44" fill="#1010f0"/>
<rect x="110.27" y="317.71" width="4.59" height="3.44" fill="#2e6cb8"/>
<rect x="110.27" y="321.09" width="4.59" height="3.44" fill="#40a090"/>
<rect x="110.27" y="324.48" width="4.59" height="3.44" fill="#40a090"/>
<rect x="110.27" y="327.86" width="4.59" height="3.44" fill="#2e6cb8"/>
<rect x="110.27" y="331.25" width="4.59" height="3.44" fill="#1010f0"/>
<rect x="110.27" y="334.63" width="4.59" height="3.44" fill="#1010f0"/>
<rect x="110.27" y="338.02" width="4.59" height="3.44" fill="#4848f0"/>
<rect x="110.27" y="341.40" width="4.59" height="3.44" fill="#a8a8f2"/>
<rect x="114.80" y="304.17" width="4.59" height="3.44" fill="#dcdcdc"/>
<rect x="114.80" y="307.55" width="4.59" height="3.44" fill="#8888f0"/>
<rect x="114.80" y="310.94" width="4.59" height="3.44" fill="#1010f0"/>
<rect x="114.80" y="314.32" width="4.59" height="3.44" fill="#1010f0"/>
<rect x="114.80" y="317.71" width="4.59" height="3.44" fill="#1a40d8"/>
<rect x="114.80" y="321.09" width="4.59" height="3.44" fill="#1a40d8"/>
<rect x="114.80" y="324.48" width="4.59" height="3.44" fill="#1a40d8"/>
<rect x="114.80" y="327.86" width="4.59" height="3.44" fill="#1010f0"/>
<rect x="114.80" y="331.25" width="4.59" height="3.44" fill="#1010f0"/>
<rect x="114.80" y="334.63" width="4.59" height="3.44" fill="#4848f0"/>
<rect x="114.80" y="338.02" width="4.59" height="3.44" fill="#8888f0"/>
<rect x="114.80" y="341.40" width="4.59" height="3.44" fill="#c8c8f2"/>
<rect x="119.34" y="304.17" width="4.59" height="3.44" fill="#dcdcdc"/>
<rect x="119.34" y="307.55" width="4.59" height="3.44" fill="#8888f0"/>
<rect x="119.34" y="310.94" width="4.59" height="3.44" fill="#2828f0"/>
<rect x="119.34" y="314.32" width="4.59" height="3.44" fill="#1010f0"/>
<rect x="119.34" y="317.71" width="4.59" height="3.44" fill="#1010f0"/>
<rect x="119.34" y="321.09" width="4.59" height="3.44" fill="#1010f0"/>
<rect x="119.34" y="324.48" width="4.59" height="3.44" fill="#1010f0"/>
<rect x="119.34" y="327.86" width="4.59" height="3.44" fill="#1010f0"/>
<rect x="119.34" y="331.25" width="4.59" height="3.44" fill="#1010f0"/>
<rect x="119.34" y="334.63" width="4.59" height="3.44" fill="#6868f0"/>
<rect x="119.34" y="338.02" width="4.59" height="3.44" fill="#a8a8f2"/>
<rect x="119.34" y="341.40" width="4.59" height="3.44" fill="#c8c8f2"/>
<rect x="123.88" y="307.55" width="4.59" height="3.44" fill="#a8a8f2"/>
<rect x="123.88" y="310.94" width="4.59" height="3.44" fill="#4848f0"/>
<rect x="123.88" y="314.32" width="4.59" height="3.44" fill="#2828f0"/>
<rect x="123.88" y="317.71" width="4.59" height="3.44" fill="#1010f0"/>
<rect x="123.88" y="321.09" width="4.59" height="3.44" fill="#1010f0"/>
<rect x="123.88" y="324.48" width="4.59" height="3.44" fill="#1010f0"/>
<rect x="123.88" y="327.86" width="4.59" height="3.44" fill="#1010f0"/>
<rect x="123.88" y="331.25" width="4.59" height="3.44" fill="#4848f0"/>
<rect x="123.88" y="334.63" width="4.59" height="3.44" fill="#8888f0"/>
<rect x="123.88" y="338.02" width="4.59" height="3.44" fill="#a8a8f2"/>
<rect x="123.88" y="341.40" width="4.59" height="3.44" fill="#dcdcdc"/>
<rect x="128.41" y="307.55" width="4.59" height="3.44" fill="#4848f0"/>
<rect x="128.41" y="310.94" width="4.59" height="3.44" fill="#1a40d8"/>
<rect x="128.41" y="314.32" width="4.59" height="3.44" fill="#40a090"/>
<rect x="128.41" y="317.71" width="4.59" height="3.44" fill="#58c868"/>
<rect x="128.41" y="321.09" width="4.59" height="3.44" fill="#58c868"/>
<rect x="128.41" y="324.48" width="4.59" height="3.44" fill="#40a090"/>
<rect x="128.41" y="327.86" width="4.59" height="3.44" fill="#1a40d8"/>
<rect x="128.41" y="331.25" width="4.59" height="3.44" fill="#1010f0"/>
<rect x="128.41" y="334.63" width="4.59" height="3.44" fill="#4848f0"/>
<rect x="128.41" y="338.02" width="4.59" height="3.44" fill="#8888f0"/>
<rect x="132.95" y="304.17" width="4.59" height="3.44" fill="#a8a8f2"/>
<rect x="132.95" y="307.55" width="4.59" height="3.44" fill="#1010f0"/>
<rect x="132.95" y="310.94" width="4.59" height="3.44" fill="#1a40d8"/>
<rect x="132.95" y="314.32" width="4.59" height="3.44" fill="#40a090"/>
<rect x="132.95" y="317.71" width="4.59" height="3.44" fill="#40a090"/>
<rect x="132.95" y="321.09" width="4.59" height="3.44" fill="#40a090"/>
<rect x="132.95" y="324.48" width="4.59" height="3.44" fill="#40a090"/>
<rect x="132.95" y="327.86" width="4.59" height="3.44" fill="#1a40d8"/>
<rect x="132.95" y="331.25" width="4.59" height="3.44" fill="#1010f0"/>
<rect x="132.95" y="334.63" width="4.59" height="3.44" fill="#1010f0"/>
<rect x="132.95" y="338.02" width="4.59" height="3.44" fill="#1010f0"/>
<rect x="137.49" y="304.17" width="4.59" height="3.44" fill="#a8a8f2"/>
<rect x="137.49" y="307.55" width="4.59" height="3.44" fill="#1010f0"/>
<rect x="137.49" y="310.94" width="4.59" height="3.44" fill="#1010f0"/>
<rect x="137.49" y="314.32" width="4.59" height="3.44" fill="#2e6cb8"/>
<rect x="137.49" y="317.71" width="4.59" height="3.44" fill="#40a090"/>
<rect x="137.49" y="321.09" width="4.59" height="3.44" fill="#40a090"/>
<rect x="137.49" y="324.48" width="4.59" height="3.44" fill="#2e6cb8"/>
<rect x="137.49" y="327.86" width="4.59" height="3.44" fill="#1a40d8"/>
<rect x="137.49" y="331.25" width="4.59" height="3.44" fill="#1010f0"/>
<rect x="137.49" y="334.63" width="4.59" height="3.44" fill="#1010f0"/>
<rect x="137.49" y="338.02" width="4.59" height="3.44" fill="#1010f0"/>
<rect x="142.03" y="304.17" width="4.59" height="3.44" fill="#a8a8f2"/>
<rect x="142.03" y="307.55" width="4.59" height="3.44" fill="#2828f0"/>
<rect x="142.03" y="310.94" width="4.59" height="3.44" fill="#1010f0"/>
<rect x="142.03" y="314.32" width="4.59" height="3.44" fill="#1a40d8"/>
<rect x="142.03" y="317.71" width="4.59" height="3.44" fill="#2e6cb8"/>
<rect x="142.03" y="321.09" width="4.59" height="3.44" fill="#2e6cb8"/>
<rect x="142.03" y="324.48" width="4.59" height="3.44" fill="#1a40d8"/>
<rect x="142.03" y="327.86" width="4.59" height="3.44" fill="#1a40d8"/>
<rect x="142.03" y="331.25" width="4.59" height="3.44" fill="#1010f0"/>
<rect x="142.03" y="334.63" width="4.59" height="3.44" fill="#1010f0"/>
<rect x="146.56" y="304.17" width="4.59" height="3.44" fill="#a8a8f2"/>
<rect x="146.56" y="307.55" width="4.59" height="3.44" fill="#4848f0"/>
<rect x="146.56" y="310.94" width="4.59" height="3.44" fill="#1010f0"/>
<rect x="146.56" y="314.32" width="4.59" height="3.44" fill="#1010f0"/>
<rect x="146.56" y="317.71" width="4.59" height="3.44" fill="#1a40d8"/>
<rect x="146.56" y="321.09" width="4.59" height="3.44" fill="#1a40d8"/>
<rect x="146.56" y="324.48" width="4.59" height="3.44" fill="#1a40d8"/>
<rect x="146.56" y="327.86" width="4.59" height="3.44" fill="#1a40d8"/>
<rect x="146.56" y="331.25" width="4.59" height="3.44" fill="#1010f0"/>
<rect x="146.56" y="334.63" width="4.59" height="3.44" fill="#2828f0"/>
<rect x="151.10" y="304.17" width="4.59" height="3.44" fill="#dcdcdc"/>
<rect x="151.10" y="307.55" width="4.59" height="3.44" fill="#4848f0"/>
<rect x="151.10" y="310.94" width="4.59" height="3.44" fill="#1010f0"/>
<rect x="151.10" y="314.32" width="4.59" height="3.44" fill="#2e6cb8"/>
<rect x="151.10" y="317.71" width="4.59" height="3.44" fill="#40a090"/>
<rect x="151.10" y="321.09" width="4.59" height="3.44" fill="#40a090"/>
<rect x="151.10" y="324.48" width="4.59" height="3.44" fill="#40a090"/>
<rect x="151.10" y="327.86" width="4.59" height="3.44" fill="#40a090"/>
<rect x="151.10" y="331.25" width="4.59" height="3.44" fill="#1a40d8"/>
<rect x="151.10" y="334.63" width="4.59" height="3.44" fill="#1010f0"/>
<rect x="155.64" y="304.17" width="4.59" height="3.44" fill="#dcdcdc"/>
<rect x="155.64" y="307.55" width="4.59" height="3.44" fill="#4848f0"/>
<rect x="155.64" y="310.94" width="4.59" height="3.44" fill="#1010f0"/>
<rect x="155.64" y="314.32" width="4.59" height="3.44" fill="#2e6cb8"/>
<rect x="155.64" y="317.71" width="4.59" height="3.44" fill="#40a090"/>
<rect x="155.64" y="321.09" width="4.59" height="3.44" fill="#40a090"/>
<rect x="155.64" y="324.48" width="4.59" height="3.44" fill="#2e6cb8"/>
<rect x="155.64" y="327.86" width="4.59" height="3.44" fill="#2e6cb8"/>
<rect x="155.64" y="331.25" width="4.59" height="3.44" fill="#1a40d8"/>
<rect x="155.64" y="334.63" width="4.59" height="3.44" fill="#1010f0"/>
<rect x="160.17" y="304.17" width="4.59" height="3.44" fill="#dcdcdc"/>
<rect x="160.17" y="307.55" width="4.59" height="3.44" fill="#6868f0"/>
<rect x="160.17" y="310.94" width="4.59" height="3.44" fill="#1010f0"/>
<rect x="160.17" y="314.32" width="4.59" height="3.44" fill="#1a40d8"/>
<rect x="160.17" y="317.71" width="4.59" height="3.44" fill="#2e6cb8"/>
<rect x="160.17" y="321.09" width="4.59" height="3.44" fill="#2e6cb8"/>
<rect x="160.17" y="324.48" width="4.59" height="3.44" fill="#1a40d8"/>
<rect x="160.17" y="327.86" width="4.59" height="3.44" fill="#1010f0"/>
<rect x="160.17" y="331.25" width="4.59" height="3.44" fill="#1010f0"/>
<rect x="160.17" y="334.63" width="4.59" height="3.44" fill="#1010f0"/>
<rect x="164.71" y="304.17" width="4.59" height="3.44" fill="#dcdcdc"/>
<rect x="164.71" y="307.55" width="4.59" height="3.44" fill="#6868f0"/>
<rect x="164.71" y="310.94" width="4.59" height="3.44" fill="#2828f0"/>
<rect x="164.71" y="314.32" width="4.59" height="3.44" fill="#1010f0"/>
<rect x="164.71" y="317.71" width="4.59" height="3.44" fill="#1010f0"/>
<rect x="164.71" y="321.09" width="4.59" height="3.44" fill="#1010f0"/>
<rect x="164.71" y="324.48" width="4.59" height="3.44" fill="#1010f0"/>
<rect x="164.71" y="327.86" width="4.59" height="3.44" fill="#4848f0"/>
<rect x="164.71" y="331.25" width="4.59" height="3.44" fill="#8888f0"/>
<rect x="164.71" y="334.63" width="4.59" height="3.44" fill="#a8a8f2"/>
<rect x="164.71" y="338.02" width="4.59" height="3.44" fill="#8888f0"/>
<rect x="164.71" y="341.40" width="4.59" height="3.44" fill="#8888f0"/>
<rect x="169.25" y="304.17" width="4.59" height="3.44" fill="#dcdcdc"/>
<rect x="169.25" y="307.55" width="4.59" height="3.44" fill="#8888f0"/>
<rect x="169.25" y="310.94" width="4.59" height="3.44" fill="#4848f0"/>
<rect x="169.25" y="314.32" width="4.59" height="3.44" fill="#1010f0"/>
<rect x="169.25" y="317.71" width="4.59" height="3.44" fill="#1010f0"/>
<rect x="169.25" y="321.09" width="4.59" height="3.44" fill="#1010f0"/>
<rect x="169.25" y="324.48" width="4.59" height="3.44" fill="#1010f0"/>
<rect x="169.25" y="327.86" width="4.59" height="3.44" fill="#1010f0"/>
<rect x="169.25" y="331.25" width="4.59" height="3.44" fill="#2828f0"/>
<rect x="169.25" y="334.63" width="4.59" height="3.44" fill="#8888f0"/>
<rect x="169.25" y="338.02" width="4.59" height="3.44" fill="#a8a8f2"/>
<rect x="169.25" y="341.40" width="4.59" height="3.44" fill="#dcdcdc"/>
<rect x="173.78" y="304.17" width="4.59" height="3.44" fill="#c8c8f2"/>
<rect x="173.78" y="307.55" width="4.59" height="3.44" fill="#dcdcdc"/>
<rect x="173.78" y="310.94" width="4.59" height="3.44" fill="#6868f0"/>
<rect x="173.78" y="314.32" width="4.59" height="3.44" fill="#1010f0"/>
<rect x="173.78" y="317.71" width="4.59" height="3.44" fill="#1010f0"/>
<rect x="173.78" y="321.09" width="4.59" height="3.44" fill="#1010f0"/>
<rect x="173.78" y="324.48" width="4.59" height="3.44" fill="#1010f0"/>
<rect x="173.78" y="327.86" width="4.59" height="3.44" fill="#1010f0"/>
<rect x="173.78" y="331.25" width="4.59" height="3.44" fill="#2828f0"/>
<rect x="173.78" y="334.63" width="4.59" height="3.44" fill="#6868f0"/>
<rect x="173.78" y="338.02" width="4.59" height="3.44" fill="#a8a8f2"/>
<rect x="173.78" y="341.40" width="4.59" height="3.44" fill="#dcdcdc"/>
<rect x="178.32" y="307.55" width="4.59" height="3.44" fill="#a8a8f2"/>
<rect x="178.32" y="310.94" width="4.59" height="3.44" fill="#6868f0"/>
<rect x="178.32" y="314.32" width="4.59" height="3.44" fill="#1010f0"/>
<rect x="178.32" y="317.71" width="4.59" height="3.44" fill="#1010f0"/>
<rect x="178.32" y="321.09" width="4.59" height="3.44" fill="#1a40d8"/>
<rect x="178.32" y="324.48" width="4.59" height="3.44" fill="#1010f0"/>
<rect x="178.32" y="327.86" width="4.59" height="3.44" fill="#1010f0"/>
<rect x="178.32" y="331.25" width="4.59" height="3.44" fill="#4848f0"/>
<rect x="178.32" y="334.63" width="4.59" height="3.44" fill="#8888f0"/>
<rect x="178.32" y="338.02" width="4.59" height="3.44" fill="#a8a8f2"/>
<rect x="178.32" y="341.40" width="4.59" height="3.44" fill="#dcdcdc"/>
<rect x="182.86" y="307.55" width="4.59" height="3.44" fill="#a8a8f2"/>
<rect x="182.86" y="310.94" width="4.59" height="3.44" fill="#4848f0"/>
<rect x="182.86" y="314.32" width="4.59" height="3.44" fill="#1010f0"/>
<rect x="182.86" y="317.71" width="4.59" height="3.44" fill="#1010f0"/>
<rect x="182.86" y="321.09" width="4.59" height="3.44" fill="#2e6cb8"/>
<rect x="182.86" y="324.48" width="4.59" height="3.44" fill="#1a40d8"/>
<rect x="182.86" y="327.86" width="4.59" height="3.44" fill="#1010f0"/>
<rect x="182.86" y="331.25" width="4.59" height="3.44" fill="#1010f0"/>
<rect x="182.86" y="334.63" width="4.59" height="3.44" fill="#6868f0"/>
<rect x="182.86" y="338.02" width="4.59" height="3.44" fill="#a8a8f2"/>
<rect x="187.39" y="304.17" width="4.59" height="3.44" fill="#dcdcdc"/>
<rect x="187.39" y="307.55" width="4.59" height="3.44" fill="#6868f0"/>
<rect x="187.39" y="310.94" width="4.59" height="3.44" fill="#1010f0"/>
<rect x="187.39" y="314.32" width="4.59" height="3.44" fill="#1010f0"/>
<rect x="187.39" y="317.71" width="4.59" height="3.44" fill="#1010f0"/>
<rect x="187.39" y="321.09" width="4.59" height="3.44" fill="#1010f0"/>
<rect x="187.39" y="324.48" width="4.59" height="3.44" fill="#1010f0"/>
<rect x="187.39" y="327.86" width="4.59" height="3.44" fill="#1010f0"/>
<rect x="187.39" y="331.25" width="4.59" height="3.44" fill="#4848f0"/>
<rect x="187.39" y="334.63" width="4.59" height="3.44" fill="#8888f0"/>
<rect x="187.39" y="338.02" width="4.59" height="3.44" fill="#a8a8f2"/>
<rect x="187.39" y="341.40" width="4.59" height="3.44" fill="#c8c8f2"/>
<rect x="191.93" y="304.17" width="4.59" height="3.44" fill="#dcdcdc"/>
<rect x="191.93" y="307.55" width="4.59" height="3.44" fill="#8888f0"/>
<rect x="191.93" y="310.94" width="4.59" height="3.44" fill="#6868f0"/>
<rect x="191.93" y="314.32" width="4.59" height="3.44" fill="#1010f0"/>
<rect x="191.93" y="317.71" width="4.59" height="3.44" fill="#1010f0"/>
<rect x="191.93" y="321.09" width="4.59" height="3.44" fill="#1010f0"/>
<rect x="191.93" y="324.48" width="4.59" height="3.44" fill="#1010f0"/>
<rect x="191.93" y="327.86" width="4.59" height="3.44" fill="#1010f0"/>
<rect x="191.93" y="331.25" width="4.59" height="3.44" fill="#4848f0"/>
<rect x="191.93" y="334.63" width="4.59" height="3.44" fill="#8888f0"/>
<rect x="191.93" y="338.02" width="4.59" height="3.44" fill="#c8c8f2"/>
<rect x="196.47" y="304.17" width="4.59" height="3.44" fill="#dcdcdc"/>
<rect x="196.47" y="307.55" width="4.59" height="3.44" fill="#6868f0"/>
<rect x="196.47" y="310.94" width="4.59" height="3.44" fill="#4848f0"/>
<rect x="196.47" y="314.32" width="4.59" height="3.44" fill="#1010f0"/>
<rect x="196.47" y="317.71" width="4.59" height="3.44" fill="#1010f0"/>
<rect x="196.47" y="321.09" width="4.59" height="3.44" fill="#1010f0"/>
<rect x="196.47" y="324.48" width="4.59" height="3.44" fill="#1010f0"/>
<rect x="196.47" y="327.86" width="4.59" height="3.44" fill="#1010f0"/>
<rect x="196.47" y="331.25" width="4.59" height="3.44" fill="#1010f0"/>
<rect x="196.47" y="334.63" width="4.59" height="3.44" fill="#6868f0"/>
<rect x="196.47" y="338.02" width="4.59" height="3.44" fill="#a8a8f2"/>
<rect x="201.01" y="304.17" width="4.59" height="3.44" fill="#dcdcdc"/>
<rect x="201.01" y="307.55" width="4.59" height="3.44" fill="#6868f0"/>
<rect x="201.01" y="310.94" width="4.59" height="3.44" fill="#1010f0"/>
<rect x="201.01" y="314.32" width="4.59" height="3.44" fill="#1010f0"/>
<rect x="201.01" y="317.71" width="4.59" height="3.44" fill="#1a40d8"/>
<rect x="201.01" y="321.09" width="4.59" height="3.44" fill="#2e6cb8"/>
<rect x="201.01" y="324.48" width="4.59" height="3.44" fill="#2e6cb8"/>
<rect x="201.01" y="327.86" width="4.59" height="3.44" fill="#2e6cb8"/>
<rect x="201.01" y="331.25" width="4.59" height="3.44" fill="#1a40d8"/>
<rect x="201.01" y="334.63" width="4.59" height="3.44" fill="#1010f0"/>
<rect x="201.01" y="338.02" width="4.59" height="3.44" fill="#1010f0"/>
<rect x="201.01" y="341.40" width="4.59" height="3.44" fill="#4848f0"/>
<rect x="205.54" y="304.17" width="4.59" height="3.44" fill="#dcdcdc"/>
<rect x="205.54" y="307.55" width="4.59" height="3.44" fill="#4848f0"/>
<rect x="205.54" y="310.94" width="4.59" height="3.44" fill="#1010f0"/>
<rect x="205.54" y="314.32" width="4.59" height="3.44" fill="#1010f0"/>
<rect x="205.54" y="317.71" width="4.59" height="3.44" fill="#2e6cb8"/>
<rect x="205.54" y="321.09" width="4.59" height="3.44" fill="#40a090"/>
<rect x="205.54" y="324.48" width="4.59" height="3.44" fill="#40a090"/>
<rect x="205.54" y="327.86" width="4.59" height="3.44" fill="#40a090"/>
<rect x="205.54" y="331.25" width="4.59" height="3.44" fill="#2e6cb8"/>
<rect x="205.54" y="334.63" width="4.59" height="3.44" fill="#1a40d8"/>
<rect x="205.54" y="338.02" width="4.59" height="3.44" fill="#1010f0"/>
<rect x="205.54" y="341.40" width="4.59" height="3.44" fill="#1010f0"/>
<rect x="210.08" y="304.17" width="4.59" height="3.44" fill="#dcdcdc"/>
<rect x="210.08" y="307.55" width="4.59" height="3.44" fill="#4848f0"/>
<rect x="210.08" y="310.94" width="4.59" height="3.44" fill="#1010f0"/>
<rect x="210.08" y="314.32" width="4.59" height="3.44" fill="#1a40d8"/>
<rect x="210.08" y="317.71" width="4.59" height="3.44" fill="#58c868"/>
<rect x="210.08" y="321.09" width="4.59" height="3.44" fill="#78f048"/>
<rect x="210.08" y="324.48" width="4.59" height="3.44" fill="#78f048"/>
<rect x="210.08" y="327.86" width="4.59" height="3.44" fill="#78f048"/>
<rect x="210.08" y="331.25" width="4.59" height="3.44" fill="#78f048"/>
<rect x="210.08" y="334.63" width="4.59" height="3.44" fill="#58c868"/>
<rect x="210.08" y="338.02" width="4.59" height="3.44" fill="#40a090"/>
<rect x="210.08" y="341.40" width="4.59" height="3.44" fill="#40a090"/>
<rect x="214.62" y="304.17" width="4.59" height="3.44" fill="#dcdcdc"/>
<rect x="214.62" y="307.55" width="4.59" height="3.44" fill="#6868f0"/>
<rect x="214.62" y="310.94" width="4.59" height="3.44" fill="#1010f0"/>
<rect x="214.62" y="314.32" width="4.59" height="3.44" fill="#2e6cb8"/>
<rect x="214.62" y="317.71" width="4.59" height="3.44" fill="#58c868"/>
<rect x="214.62" y="321.09" width="4.59" height="3.44" fill="#78f048"/>
<rect x="214.62" y="324.48" width="4.59" height="3.44" fill="#78f048"/>
<rect x="214.62" y="327.86" width="4.59" height="3.44" fill="#78f048"/>
<rect x="214.62" y="331.25" width="4.59" height="3.44" fill="#78f048"/>
<rect x="214.62" y="334.63" width="4.59" height="3.44" fill="#58c868"/>
<rect x="214.62" y="338.02" width="4.59" height="3.44" fill="#40a090"/>
<rect x="214.62" y="341.40" width="4.59" height="3.44" fill="#2e6cb8"/>
<rect x="219.15" y="304.17" width="4.59" height="3.44" fill="#a8a8f2"/>
<rect x="219.15" y="307.55" width="4.59" height="3.44" fill="#8888f0"/>
<rect x="219.15" y="310.94" width="4.59" height="3.44" fill="#2e6cb8"/>
<rect x="219.15" y="314.32" width="4.59" height="3.44" fill="#40a090"/>
<rect x="219.15" y="317.71" width="4.59" height="3.44" fill="#58c868"/>
<rect x="219.15" y="321.09" width="4.59" height="3.44" fill="#78f048"/>
<rect x="219.15" y="324.48" width="4.59" height="3.44" fill="#78f048"/>
<rect x="219.15" y="327.86" width="4.59" height="3.44" fill="#78f048"/>
<rect x="219.15" y="331.25" width="4.59" height="3.44" fill="#78f048"/>
<rect x="219.15" y="334.63" width="4.59" height="3.44" fill="#78f048"/>
<rect x="219.15" y="338.02" width="4.59" height="3.44" fill="#58c868"/>
<rect x="219.15" y="341.40" width="4.59" height="3.44" fill="#58c868"/>
<rect x="219.15" y="344.79" width="4.59" height="3.44" fill="#58c868"/>
<rect x="223.69" y="307.55" width="4.59" height="3.44" fill="#2828f0"/>
<rect x="223.69" y="310.94" width="4.59" height="3.44" fill="#1010f0"/>
<rect x="223.69" y="314.32" width="4.59" height="3.44" fill="#40a090"/>
<rect x="223.69" y="317.71" width="4.59" height="3.44" fill="#78f048"/>
<rect x="223.69" y="321.09" width="4.59" height="3.44" fill="#78f048"/>
<rect x="223.69" y="324.48" width="4.59" height="3.44" fill="#78f048"/>
<rect x="223.69" y="327.86" width="4.59" height="3.44" fill="#78f048"/>
<rect x="223.69" y="331.25" width="4.59" height="3.44" fill="#78f048"/>
<rect x="223.69" y="334.63" width="4.59" height="3.44" fill="#78f048"/>
<rect x="223.69" y="338.02" width="4.59" height="3.44" fill="#58c868"/>
<rect x="223.69" y="341.40" width="4.59" height="3.44" fill="#40a090"/>
<rect x="228.23" y="307.55" width="4.59" height="3.44" fill="#4848f0"/>
<rect x="228.23" y="310.94" width="4.59" height="3.44" fill="#1010f0"/>
<rect x="228.23" y="314.32" width="4.59" height="3.44" fill="#2e6cb8"/>
<rect x="228.23" y="317.71" width="4.59" height="3.44" fill="#58c868"/>
<rect x="228.23" y="321.09" width="4.59" height="3.44" fill="#78f048"/>
<rect x="228.23" y="324.48" width="4.59" height="3.44" fill="#78f048"/>
<rect x="228.23" y="327.86" width="4.59" height="3.44" fill="#78f048"/>
<rect x="228.23" y="331.25" width="4.59" height="3.44" fill="#58c868"/>
<rect x="228.23" y="334.63" width="4.59" height="3.44" fill="#40a090"/>
<rect x="228.23" y="338.02" width="4.59" height="3.44" fill="#2e6cb8"/>
<rect x="228.23" y="341.40" width="4.59" height="3.44" fill="#1010f0"/>
<rect x="232.76" y="304.17" width="4.59" height="3.44" fill="#dcdcdc"/>
<rect x="232.76" y="307.55" width="4.59" height="3.44" fill="#4848f0"/>
<rect x="232.76" y="310.94" width="4.59" height="3.44" fill="#1010f0"/>
<rect x="232.76" y="314.32" width="4.59" height="3.44" fill="#1a40d8"/>
<rect x="232.76" y="317.71" width="4.59" height="3.44" fill="#2e6cb8"/>
<rect x="232.76" y="321.09" width="4.59" height="3.44" fill="#40a090"/>
<rect x="232.76" y="324.48" width="4.59" height="3.44" fill="#40a090"/>
<rect x="232.76" y="327.86" width="4.59" height="3.44" fill="#2e6cb8"/>
<rect x="232.76" y="331.25" width="4.59" height="3.44" fill="#2e6cb8"/>
<rect x="232.76" y="334.63" width="4.59" height="3.44" fill="#1a40d8"/>
<rect x="232.76" y="338.02" width="4.59" height="3.44" fill="#1010f0"/>
<rect x="232.76" y="341.40" width="4.59" height="3.44" fill="#8888f0"/>
<rect x="237.30" y="304.17" width="4.59" height="3.44" fill="#dcdcdc"/>
<rect x="237.30" y="307.55" width="4.59" height="3.44" fill="#6868f0"/>
<rect x="237.30" y="310.94" width="4.59" height="3.44" fill="#1010f0"/>
<rect x="237.30" y="314.32" width="4.59" height="3.44" fill="#1010f0"/>
<rect x="237.30" y="317.71" width="4.59" height="3.44" fill="#1a40d8"/>
<rect x="237.30" y="321.09" width="4.59" height="3.44" fill="#2e6cb8"/>
<rect x="237.30" y="324.48" width="4.59" height="3.44" fill="#2e6cb8"/>
<rect x="237.30" y="327.86" width="4.59" height="3.44" fill="#1a40d8"/>
<rect x="237.30" y="331.25" width="4.59" height="3.44" fill="#1010f0"/>
<rect x="237.30" y="334.63" width="4.59" height="3.44" fill="#1010f0"/>
<rect x="237.30" y="338.02" width="4.59" height="3.44" fill="#1010f0"/>
<rect x="241.84" y="304.17" width="4.59" height="3.44" fill="#a8a8f2"/>
<rect x="241.84" y="307.55" width="4.59" height="3.44" fill="#8888f0"/>
<rect x="241.84" y="310.94" width="4.59" height="3.44" fill="#1010f0"/>
<rect x="241.84" y="314.32" width="4.59" height="3.44" fill="#1010f0"/>
<rect x="241.84" y="317.71" width="4.59" height="3.44" fill="#2e6cb8"/>
<rect x="241.84" y="321.09" width="4.59" height="3.44" fill="#2e6cb8"/>
<rect x="241.84" y="324.48" width="4.59" height="3.44" fill="#2e6cb8"/>
<rect x="241.84" y="327.86" width="4.59" height="3.44" fill="#2e6cb8"/>
<rect x="241.84" y="331.25" width="4.59" height="3.44" fill="#1a40d8"/>
<rect x="241.84" y="334.63" width="4.59" height="3.44" fill="#1010f0"/>
<rect x="241.84" y="338.02" width="4.59" height="3.44" fill="#4848f0"/>
<rect x="246.38" y="304.17" width="4.59" height="3.44" fill="#dcdcdc"/>
<rect x="246.38" y="307.55" width="4.59" height="3.44" fill="#8888f0"/>
<rect x="246.38" y="310.94" width="4.59" height="3.44" fill="#1010f0"/>
<rect x="246.38" y="314.32" width="4.59" height="3.44" fill="#1a40d8"/>
<rect x="246.38" y="317.71" width="4.59" height="3.44" fill="#40a090"/>
<rect x="246.38" y="321.09" width="4.59" height="3.44" fill="#40a090"/>
<rect x="246.38" y="324.48" width="4.59" height="3.44" fill="#40a090"/>
<rect x="246.38" y="327.86" width="4.59" height="3.44" fill="#40a090"/>
<rect x="246.38" y="331.25" width="4.59" height="3.44" fill="#40a090"/>
<rect x="246.38" y="334.63" width="4.59" height="3.44" fill="#58c868"/>
<rect x="250.91" y="304.17" width="4.59" height="3.44" fill="#dcdcdc"/>
<rect x="250.91" y="307.55" width="4.59" height="3.44" fill="#1010f0"/>
<rect x="250.91" y="310.94" width="4.59" height="3.44" fill="#40a090"/>
<rect x="250.91" y="314.32" width="4.59" height="3.44" fill="#58c868"/>
<rect x="250.91" y="317.71" width="4.59" height="3.44" fill="#78f048"/>
<rect x="250.91" y="321.09" width="4.59" height="3.44" fill="#a8f050"/>
<rect x="250.91" y="324.48" width="4.59" height="3.44" fill="#a8f050"/>
<rect x="250.91" y="327.86" width="4.59" height="3.44" fill="#a8f050"/>
<rect x="250.91" y="331.25" width="4.59" height="3.44" fill="#a8f050"/>
<rect x="250.91" y="334.63" width="4.59" height="3.44" fill="#58c868"/>
<rect x="255.45" y="304.17" width="4.59" height="3.44" fill="#dcdcdc"/>
<rect x="255.45" y="307.55" width="4.59" height="3.44" fill="#1010f0"/>
<rect x="255.45" y="310.94" width="4.59" height="3.44" fill="#58c868"/>
<rect x="255.45" y="314.32" width="4.59" height="3.44" fill="#78f048"/>
<rect x="255.45" y="317.71" width="4.59" height="3.44" fill="#a8f050"/>
<rect x="255.45" y="321.09" width="4.59" height="3.44" fill="#f4f452"/>
<rect x="255.45" y="324.48" width="4.59" height="3.44" fill="#f4f452"/>
<rect x="255.45" y="327.86" width="4.59" height="3.44" fill="#a8f050"/>
<rect x="255.45" y="331.25" width="4.59" height="3.44" fill="#a8f050"/>
<rect x="255.45" y="334.63" width="4.59" height="3.44" fill="#58c868"/>
<rect x="259.99" y="304.17" width="4.59" height="3.44" fill="#a8a8f2"/>
<rect x="259.99" y="307.55" width="4.59" height="3.44" fill="#1010f0"/>
<rect x="259.99" y="310.94" width="4.59" height="3.44" fill="#1a40d8"/>
<rect x="259.99" y="314.32" width="4.59" height="3.44" fill="#40a090"/>
<rect x="259.99" y="317.71" width="4.59" height="3.44" fill="#78f048"/>
<rect x="259.99" y="321.09" width="4.59" height="3.44" fill="#78f048"/>
<rect x="259.99" y="324.48" width="4.59" height="3.44" fill="#78f048"/>
<rect x="259.99" y="327.86" width="4.59" height="3.44" fill="#78f048"/>
<rect x="259.99" y="331.25" width="4.59" height="3.44" fill="#78f048"/>
<rect x="259.99" y="334.63" width="4.59" height="3.44" fill="#78f048"/>
<rect x="264.52" y="304.17" width="4.59" height="3.44" fill="#a8a8f2"/>
<rect x="264.52" y="307.55" width="4.59" height="3.44" fill="#1010f0"/>
<rect x="264.52" y="310.94" width="4.59" height="3.44" fill="#58c868"/>
<rect x="264.52" y="314.32" width="4.59" height="3.44" fill="#78f048"/>
<rect x="264.52" y="317.71" width="4.59" height="3.44" fill="#a8f050"/>
<rect x="264.52" y="321.09" width="4.59" height="3.44" fill="#a8f050"/>
<rect x="264.52" y="324.48" width="4.59" height="3.44" fill="#f4f452"/>
<rect x="264.52" y="327.86" width="4.59" height="3.44" fill="#f4f452"/>
<rect x="264.52" y="331.25" width="4.59" height="3.44" fill="#a8f050"/>
<rect x="264.52" y="334.63" width="4.59" height="3.44" fill="#a8f050"/>
<rect x="269.06" y="304.17" width="4.59" height="3.44" fill="#dcdcdc"/>
<rect x="269.06" y="307.55" width="4.59" height="3.44" fill="#1010f0"/>
<rect x="269.06" y="310.94" width="4.59" height="3.44" fill="#40a090"/>
<rect x="269.06" y="314.32" width="4.59" height="3.44" fill="#58c868"/>
<rect x="269.06" y="317.71" width="4.59" height="3.44" fill="#78f048"/>
<rect x="269.06" y="321.09" width="4.59" height="3.44" fill="#78f048"/>
<rect x="269.06" y="324.48" width="4.59" height="3.44" fill="#a8f050"/>
<rect x="269.06" y="327.86" width="4.59" height="3.44" fill="#a8f050"/>
<rect x="269.06" y="331.25" width="4.59" height="3.44" fill="#78f048"/>
<rect x="269.06" y="334.63" width="4.59" height="3.44" fill="#78f048"/>
<rect x="269.06" y="338.02" width="4.59" height="3.44" fill="#78f048"/>
<rect x="269.06" y="341.40" width="4.59" height="3.44" fill="#58c868"/>
<rect x="273.60" y="304.17" width="4.59" height="3.44" fill="#a8a8f2"/>
<rect x="273.60" y="307.55" width="4.59" height="3.44" fill="#1010f0"/>
<rect x="273.60" y="310.94" width="4.59" height="3.44" fill="#1a40d8"/>
<rect x="273.60" y="314.32" width="4.59" height="3.44" fill="#40a090"/>
<rect x="273.60" y="317.71" width="4.59" height="3.44" fill="#58c868"/>
<rect x="273.60" y="321.09" width="4.59" height="3.44" fill="#78f048"/>
<rect x="273.60" y="324.48" width="4.59" height="3.44" fill="#78f048"/>
<rect x="273.60" y="327.86" width="4.59" height="3.44" fill="#78f048"/>
<rect x="273.60" y="331.25" width="4.59" height="3.44" fill="#78f048"/>
<rect x="273.60" y="334.63" width="4.59" height="3.44" fill="#58c868"/>
<rect x="273.60" y="338.02" width="4.59" height="3.44" fill="#40a090"/>
<rect x="273.60" y="341.40" width="4.59" height="3.44" fill="#40a090"/>
<rect x="278.13" y="304.17" width="4.59" height="3.44" fill="#a8a8f2"/>
<rect x="278.13" y="307.55" width="4.59" height="3.44" fill="#1010f0"/>
<rect x="278.13" y="310.94" width="4.59" height="3.44" fill="#2e6cb8"/>
<rect x="278.13" y="314.32" width="4.59" height="3.44" fill="#58c868"/>
<rect x="278.13" y="317.71" width="4.59" height="3.44" fill="#78f048"/>
<rect x="278.13" y="321.09" width="4.59" height="3.44" fill="#a8f050"/>
<rect x="278.13" y="324.48" width="4.59" height="3.44" fill="#a8f050"/>
<rect x="278.13" y="327.86" width="4.59" height="3.44" fill="#a8f050"/>
<rect x="278.13" y="331.25" width="4.59" height="3.44" fill="#78f048"/>
<rect x="278.13" y="334.63" width="4.59" height="3.44" fill="#78f048"/>
<rect x="278.13" y="338.02" width="4.59" height="3.44" fill="#78f048"/>
<rect x="278.13" y="341.40" width="4.59" height="3.44" fill="#58c868"/>
<rect x="282.67" y="304.17" width="4.59" height="3.44" fill="#dcdcdc"/>
<rect x="282.67" y="307.55" width="4.59" height="3.44" fill="#1010f0"/>
<rect x="282.67" y="310.94" width="4.59" height="3.44" fill="#58c868"/>
<rect x="282.67" y="314.32" width="4.59" height="3.44" fill="#78f048"/>
<rect x="282.67" y="317.71" width="4.59" height="3.44" fill="#a8f050"/>
<rect x="282.67" y="321.09" width="4.59" height="3.44" fill="#f4f452"/>
<rect x="282.67" y="324.48" width="4.59" height="3.44" fill="#f8c848"/>
<rect x="282.67" y="327.86" width="4.59" height="3.44" fill="#f0a040"/>
<rect x="282.67" y="331.25" width="4.59" height="3.44" fill="#f8c848"/>
<rect x="282.67" y="334.63" width="4.59" height="3.44" fill="#f8c848"/>
<rect x="282.67" y="338.02" width="4.59" height="3.44" fill="#f4f452"/>
<rect x="282.67" y="341.40" width="4.59" height="3.44" fill="#a8f050"/>
<rect x="287.21" y="304.17" width="4.59" height="3.44" fill="#dcdcdc"/>
<rect x="287.21" y="307.55" width="4.59" height="3.44" fill="#1010f0"/>
<rect x="287.21" y="310.94" width="4.59" height="3.44" fill="#58c868"/>
<rect x="287.21" y="314.32" width="4.59" height="3.44" fill="#78f048"/>
<rect x="287.21" y="317.71" width="4.59" height="3.44" fill="#a8f050"/>
<rect x="287.21" y="321.09" width="4.59" height="3.44" fill="#f8c848"/>
<rect x="287.21" y="324.48" width="4.59" height="3.44" fill="#f0a040"/>
<rect x="287.21" y="327.86" width="4.59" height="3.44" fill="#f0a040"/>
<rect x="287.21" y="331.25" width="4.59" height="3.44" fill="#f0a040"/>
<rect x="287.21" y="334.63" width="4.59" height="3.44" fill="#f0a040"/>
<rect x="287.21" y="338.02" width="4.59" height="3.44" fill="#f8c848"/>
<rect x="287.21" y="341.40" width="4.59" height="3.44" fill="#f8c848"/>
<rect x="291.75" y="304.17" width="4.59" height="3.44" fill="#dcdcdc"/>
<rect x="291.75" y="307.55" width="4.59" height="3.44" fill="#1010f0"/>
<rect x="291.75" y="310.94" width="4.59" height="3.44" fill="#40a090"/>
<rect x="291.75" y="314.32" width="4.59" height="3.44" fill="#58c868"/>
<rect x="291.75" y="317.71" width="4.59" height="3.44" fill="#78f048"/>
<rect x="291.75" y="321.09" width="4.59" height="3.44" fill="#a8f050"/>
<rect x="291.75" y="324.48" width="4.59" height="3.44" fill="#f4f452"/>
<rect x="291.75" y="327.86" width="4.59" height="3.44" fill="#f4f452"/>
<rect x="291.75" y="331.25" width="4.59" height="3.44" fill="#f4f452"/>
<rect x="291.75" y="334.63" width="4.59" height="3.44" fill="#f4f452"/>
<rect x="291.75" y="338.02" width="4.59" height="3.44" fill="#f4f452"/>
<rect x="291.75" y="341.40" width="4.59" height="3.44" fill="#a8f050"/>
<rect x="296.28" y="304.17" width="4.59" height="3.44" fill="#dcdcdc"/>
<rect x="296.28" y="307.55" width="4.59" height="3.44" fill="#1010f0"/>
<rect x="296.28" y="310.94" width="4.59" height="3.44" fill="#40a090"/>
<rect x="296.28" y="314.32" width="4.59" height="3.44" fill="#78f048"/>
<rect x="296.28" y="317.71" width="4.59" height="3.44" fill="#a8f050"/>
<rect x="296.28" y="321.09" width="4.59" height="3.44" fill="#f4f452"/>
<rect x="296.28" y="324.48" width="4.59" height="3.44" fill="#f8c848"/>
<rect x="296.28" y="327.86" width="4.59" height="3.44" fill="#f8c848"/>
<rect x="296.28" y="331.25" width="4.59" height="3.44" fill="#f8c848"/>
<rect x="296.28" y="334.63" width="4.59" height="3.44" fill="#f4f452"/>
<rect x="296.28" y="338.02" width="4.59" height="3.44" fill="#a8f050"/>
<rect x="296.28" y="341.40" width="4.59" height="3.44" fill="#78f048"/>
<rect x="300.82" y="304.17" width="4.59" height="3.44" fill="#dcdcdc"/>
<rect x="300.82" y="307.55" width="4.59" height="3.44" fill="#1010f0"/>
<rect x="300.82" y="310.94" width="4.59" height="3.44" fill="#2e6cb8"/>
<rect x="300.82" y="314.32" width="4.59" height="3.44" fill="#78f048"/>
<rect x="300.82" y="317.71" width="4.59" height="3.44" fill="#78f048"/>
<rect x="300.82" y="321.09" width="4.59" height="3.44" fill="#a8f050"/>
<rect x="300.82" y="324.48" width="4.59" height="3.44" fill="#f4f452"/>
<rect x="300.82" y="327.86" width="4.59" height="3.44" fill="#a8f050"/>
<rect x="300.82" y="331.25" width="4.59" height="3.44" fill="#a8f050"/>
<rect x="300.82" y="334.63" width="4.59" height="3.44" fill="#78f048"/>
<rect x="300.82" y="338.02" width="4.59" height="3.44" fill="#78f048"/>
<rect x="300.82" y="341.40" width="4.59" height="3.44" fill="#58c868"/>
<rect x="305.36" y="304.17" width="4.59" height="3.44" fill="#dcdcdc"/>
<rect x="305.36" y="307.55" width="4.59" height="3.44" fill="#4848f0"/>
<rect x="305.36" y="310.94" width="4.59" height="3.44" fill="#1a40d8"/>
<rect x="305.36" y="314.32" width="4.59" height="3.44" fill="#58c868"/>
<rect x="305.36" y="317.71" width="4.59" height="3.44" fill="#78f048"/>
<rect x="305.36" y="321.09" width="4.59" height="3.44" fill="#a8f050"/>
<rect x="305.36" y="324.48" width="4.59" height="3.44" fill="#f4f452"/>
<rect x="305.36" y="327.86" width="4.59" height="3.44" fill="#f4f452"/>
<rect x="305.36" y="331.25" width="4.59" height="3.44" fill="#a8f050"/>
<rect x="305.36" y="334.63" width="4.59" height="3.44" fill="#a8f050"/>
<rect x="305.36" y="338.02" width="4.59" height="3.44" fill="#78f048"/>
<rect x="305.36" y="341.40" width="4.59" height="3.44" fill="#78f048"/>
<rect x="309.89" y="307.55" width="4.59" height="3.44" fill="#8888f0"/>
<rect x="309.89" y="310.94" width="4.59" height="3.44" fill="#1a40d8"/>
<rect x="309.89" y="314.32" width="4.59" height="3.44" fill="#58c868"/>
<rect x="309.89" y="317.71" width="4.59" height="3.44" fill="#78f048"/>
<rect x="309.89" y="321.09" width="4.59" height="3.44" fill="#78f048"/>
<rect x="309.89" y="324.48" width="4.59" height="3.44" fill="#78f048"/>
<rect x="309.89" y="327.86" width="4.59" height="3.44" fill="#78f048"/>
<rect x="309.89" y="331.25" width="4.59" height="3.44" fill="#78f048"/>
<rect x="309.89" y="334.63" width="4.59" height="3.44" fill="#78f048"/>
<rect x="309.89" y="338.02" width="4.59" height="3.44" fill="#58c868"/>
<rect x="309.89" y="341.40" width="4.59" height="3.44" fill="#78f048"/>
<rect x="314.43" y="307.55" width="4.59" height="3.44" fill="#1010f0"/>
<rect x="314.43" y="310.94" width="4.59" height="3.44" fill="#58c868"/>
<rect x="314.43" y="314.32" width="4.59" height="3.44" fill="#78f048"/>
<rect x="314.43" y="317.71" width="4.59" height="3.44" fill="#a8f050"/>
<rect x="314.43" y="321.09" width="4.59" height="3.44" fill="#a8f050"/>
<rect x="314.43" y="324.48" width="4.59" height="3.44" fill="#a8f050"/>
<rect x="314.43" y="327.86" width="4.59" height="3.44" fill="#a8f050"/>
<rect x="314.43" y="331.25" width="4.59" height="3.44" fill="#a8f050"/>
<rect x="314.43" y="334.63" width="4.59" height="3.44" fill="#78f048"/>
<rect x="314.43" y="338.02" width="4.59" height="3.44" fill="#78f048"/>
<rect x="314.43" y="341.40" width="4.59" height="3.44" fill="#58c868"/>
<rect x="318.97" y="307.55" width="4.59" height="3.44" fill="#1010f0"/>
<rect x="318.97" y="310.94" width="4.59" height="3.44" fill="#40a090"/>
<rect x="318.97" y="314.32" width="4.59" height="3.44" fill="#78f048"/>
<rect x="318.97" y="317.71" width="4.59" height="3.44" fill="#78f048"/>
<rect x="318.97" y="321.09" width="4.59" height="3.44" fill="#78f048"/>
<rect x="318.97" y="324.48" width="4.59" height="3.44" fill="#78f048"/>
<rect x="318.97" y="327.86" width="4.59" height="3.44" fill="#78f048"/>
<rect x="318.97" y="331.25" width="4.59" height="3.44" fill="#78f048"/>
<rect x="318.97" y="334.63" width="4.59" height="3.44" fill="#58c868"/>
<rect x="318.97" y="338.02" width="4.59" height="3.44" fill="#58c868"/>
<rect x="318.97" y="341.40" width="4.59" height="3.44" fill="#58c868"/>
<rect x="323.50" y="307.55" width="4.59" height="3.44" fill="#8888f0"/>
<rect x="323.50" y="310.94" width="4.59" height="3.44" fill="#1010f0"/>
<rect x="323.50" y="314.32" width="4.59" height="3.44" fill="#40a090"/>
<rect x="323.50" y="317.71" width="4.59" height="3.44" fill="#58c868"/>
<rect x="323.50" y="321.09" width="4.59" height="3.44" fill="#78f048"/>
<rect x="323.50" y="324.48" width="4.59" height="3.44" fill="#a8f050"/>
<rect x="323.50" y="327.86" width="4.59" height="3.44" fill="#a8f050"/>
<rect x="323.50" y="331.25" width="4.59" height="3.44" fill="#a8f050"/>
<rect x="323.50" y="334.63" width="4.59" height="3.44" fill="#78f048"/>
<rect x="323.50" y="338.02" width="4.59" height="3.44" fill="#a8f050"/>
<rect x="323.50" y="341.40" width="4.59" height="3.44" fill="#78f048"/>
<rect x="328.04" y="304.17" width="4.59" height="3.44" fill="#dcdcdc"/>
<rect x="328.04" y="307.55" width="4.59" height="3.44" fill="#a8a8f2"/>
<rect x="328.04" y="310.94" width="4.59" height="3.44" fill="#1010f0"/>
<rect x="328.04" y="314.32" width="4.59" height="3.44" fill="#1010f0"/>
<rect x="328.04" y="317.71" width="4.59" height="3.44" fill="#2e6cb8"/>
<rect x="328.04" y="321.09" width="4.59" height="3.44" fill="#40a090"/>
<rect x="328.04" y="324.48" width="4.59" height="3.44" fill="#40a090"/>
<rect x="328.04" y="327.86" width="4.59" height="3.44" fill="#40a090"/>
<rect x="328.04" y="331.25" width="4.59" height="3.44" fill="#2e6cb8"/>
<rect x="328.04" y="334.63" width="4.59" height="3.44" fill="#1010f0"/>
<rect x="328.04" y="338.02" width="4.59" height="3.44" fill="#1010f0"/>
<rect x="328.04" y="341.40" width="4.59" height="3.44" fill="#1010f0"/>
<rect x="332.58" y="304.17" width="4.59" height="3.44" fill="#dcdcdc"/>
<rect x="332.58" y="307.55" width="4.59" height="3.44" fill="#4848f0"/>
<rect x="332.58" y="310.94" width="4.59" height="3.44" fill="#1010f0"/>
<rect x="332.58" y="314.32" width="4.59" height="3.44" fill="#40a090"/>
<rect x="332.58" y="317.71" width="4.59" height="3.44" fill="#58c868"/>
<rect x="332.58" y="321.09" width="4.59" height="3.44" fill="#58c868"/>
<rect x="332.58" y="324.48" width="4.59" height="3.44" fill="#58c868"/>
<rect x="332.58" y="327.86" width="4.59" height="3.44" fill="#58c868"/>
<rect x="332.58" y="331.25" width="4.59" height="3.44" fill="#58c868"/>
<rect x="332.58" y="334.63" width="4.59" height="3.44" fill="#40a090"/>
<rect x="332.58" y="338.02" width="4.59" height="3.44" fill="#40a090"/>
<rect x="332.58" y="341.40" width="4.59" height="3.44" fill="#2e6cb8"/>
<rect x="337.12" y="304.17" width="4.59" height="3.44" fill="#dcdcdc"/>
<rect x="337.12" y="307.55" width="4.59" height="3.44" fill="#4848f0"/>
<rect x="337.12" y="310.94" width="4.59" height="3.44" fill="#1010f0"/>
<rect x="337.12" y="314.32" width="4.59" height="3.44" fill="#40a090"/>
<rect x="337.12" y="317.71" width="4.59" height="3.44" fill="#58c868"/>
<rect x="337.12" y="321.09" width="4.59" height="3.44" fill="#58c868"/>
<rect x="337.12" y="324.48" width="4.59" height="3.44" fill="#58c868"/>
<rect x="337.12" y="327.86" width="4.59" height="3.44" fill="#58c868"/>
<rect x="337.12" y="331.25" width="4.59" height="3.44" fill="#58c868"/>
<rect x="337.12" y="334.63" width="4.59" height="3.44" fill="#58c868"/>
<rect x="337.12" y="338.02" width="4.59" height="3.44" fill="#40a090"/>
<rect x="337.12" y="341.40" width="4.59" height="3.44" fill="#2e6cb8"/>
<rect x="341.65" y="304.17" width="4.59" height="3.44" fill="#dcdcdc"/>
<rect x="341.65" y="307.55" width="4.59" height="3.44" fill="#4848f0"/>
<rect x="341.65" y="310.94" width="4.59" height="3.44" fill="#1010f0"/>
<rect x="341.65" y="314.32" width="4.59" height="3.44" fill="#40a090"/>
<rect x="341.65" y="317.71" width="4.59" height="3.44" fill="#58c868"/>
<rect x="341.65" y="321.09" width="4.59" height="3.44" fill="#58c868"/>
<rect x="341.65" y="324.48" width="4.59" height="3.44" fill="#58c868"/>
<rect x="341.65" y="327.86" width="4.59" height="3.44" fill="#58c868"/>
<rect x="341.65" y="331.25" width="4.59" height="3.44" fill="#58c868"/>
<rect x="341.65" y="334.63" width="4.59" height="3.44" fill="#58c868"/>
<rect x="341.65" y="338.02" width="4.59" height="3.44" fill="#40a090"/>
<rect x="341.65" y="341.40" width="4.59" height="3.44" fill="#1010f0"/>
<rect x="346.19" y="304.17" width="4.59" height="3.44" fill="#a8a8f2"/>
<rect x="346.19" y="307.55" width="4.59" height="3.44" fill="#2828f0"/>
<rect x="346.19" y="310.94" width="4.59" height="3.44" fill="#1010f0"/>
<rect x="346.19" y="314.32" width="4.59" height="3.44" fill="#2e6cb8"/>
<rect x="346.19" y="317.71" width="4.59" height="3.44" fill="#40a090"/>
<rect x="346.19" y="321.09" width="4.59" height="3.44" fill="#58c868"/>
<rect x="346.19" y="324.48" width="4.59" height="3.44" fill="#58c868"/>
<rect x="346.19" y="327.86" width="4.59" height="3.44" fill="#58c868"/>
<rect x="346.19" y="331.25" width="4.59" height="3.44" fill="#58c868"/>
<rect x="346.19" y="334.63" width="4.59" height="3.44" fill="#58c868"/>
<rect x="346.19" y="338.02" width="4.59" height="3.44" fill="#40a090"/>
<rect x="346.19" y="341.40" width="4.59" height="3.44" fill="#1010f0"/>
<rect x="350.73" y="304.17" width="4.59" height="3.44" fill="#a8a8f2"/>
<rect x="350.73" y="307.55" width="4.59" height="3.44" fill="#4848f0"/>
<rect x="350.73" y="310.94" width="4.59" height="3.44" fill="#1010f0"/>
<rect x="350.73" y="314.32" width="4.59" height="3.44" fill="#1a40d8"/>
<rect x="350.73" y="317.71" width="4.59" height="3.44" fill="#40a090"/>
<rect x="350.73" y="321.09" width="4.59" height="3.44" fill="#58c868"/>
<rect x="350.73" y="324.48" width="4.59" height="3.44" fill="#58c868"/>
<rect x="350.73" y="327.86" width="4.59" height="3.44" fill="#58c868"/>
<rect x="350.73" y="331.25" width="4.59" height="3.44" fill="#58c868"/>
<rect x="350.73" y="334.63" width="4.59" height="3.44" fill="#58c868"/>
<rect x="350.73" y="338.02" width="4.59" height="3.44" fill="#58c868"/>
<rect x="350.73" y="341.40" width="4.59" height="3.44" fill="#58c868"/>
<rect x="350.73" y="344.79" width="4.59" height="3.44" fill="#40a090"/>
<rect x="355.26" y="307.55" width="4.59" height="3.44" fill="#a8a8f2"/>
<rect x="355.26" y="310.94" width="4.59" height="3.44" fill="#1010f0"/>
<rect x="355.26" y="314.32" width="4.59" height="3.44" fill="#1010f0"/>
<rect x="355.26" y="317.71" width="4.59" height="3.44" fill="#58c868"/>
<rect x="355.26" y="321.09" width="4.59" height="3.44" fill="#58c868"/>
<rect x="355.26" y="324.48" width="4.59" height="3.44" fill="#78f048"/>
<rect x="355.26" y="327.86" width="4.59" height="3.44" fill="#78f048"/>
<rect x="355.26" y="331.25" width="4.59" height="3.44" fill="#58c868"/>
<rect x="355.26" y="334.63" width="4.59" height="3.44" fill="#40a090"/>
<rect x="355.26" y="338.02" width="4.59" height="3.44" fill="#1010f0"/>
<rect x="355.26" y="341.40" width="4.59" height="3.44" fill="#1010f0"/>
<rect x="359.80" y="307.55" width="4.59" height="3.44" fill="#6868f0"/>
<rect x="359.80" y="310.94" width="4.59" height="3.44" fill="#1010f0"/>
<rect x="359.80" y="314.32" width="4.59" height="3.44" fill="#2e6cb8"/>
<rect x="359.80" y="317.71" width="4.59" height="3.44" fill="#40a090"/>
<rect x="359.80" y="321.09" width="4.59" height="3.44" fill="#40a090"/>
<rect x="359.80" y="324.48" width="4.59" height="3.44" fill="#40a090"/>
<rect x="359.80" y="327.86" width="4.59" height="3.44" fill="#40a090"/>
<rect x="359.80" y="331.25" width="4.59" height="3.44" fill="#2e6cb8"/>
<rect x="359.80" y="334.63" width="4.59" height="3.44" fill="#1a40d8"/>
<rect x="359.80" y="338.02" width="4.59" height="3.44" fill="#1010f0"/>
<rect x="364.34" y="307.55" width="4.59" height="3.44" fill="#8888f0"/>
<rect x="364.34" y="310.94" width="4.59" height="3.44" fill="#1010f0"/>
<rect x="364.34" y="314.32" width="4.59" height="3.44" fill="#1a40d8"/>
<rect x="364.34" y="317.71" width="4.59" height="3.44" fill="#2e6cb8"/>
<rect x="364.34" y="321.09" width="4.59" height="3.44" fill="#2e6cb8"/>
<rect x="364.34" y="324.48" width="4.59" height="3.44" fill="#2e6cb8"/>
<rect x="364.34" y="327.86" width="4.59" height="3.44" fill="#1a40d8"/>
<rect x="364.34" y="331.25" width="4.59" height="3.44" fill="#1010f0"/>
<rect x="364.34" y="334.63" width="4.59" height="3.44" fill="#1010f0"/>
<rect x="364.34" y="338.02" width="4.59" height="3.44" fill="#6868f0"/>
<rect x="368.88" y="307.55" width="4.59" height="3.44" fill="#8888f0"/>
<rect x="368.88" y="310.94" width="4.59" height="3.44" fill="#1010f0"/>
<rect x="368.88" y="314.32" width="4.59" height="3.44" fill="#2e6cb8"/>
<rect x="368.88" y="317.71" width="4.59" height="3.44" fill="#40a090"/>
<rect x="368.88" y="321.09" width="4.59" height="3.44" fill="#40a090"/>
<rect x="368.88" y="324.48" width="4.59" height="3.44" fill="#40a090"/>
<rect x="368.88" y="327.86" width="4.59" height="3.44" fill="#40a090"/>
<rect x="368.88" y="331.25" width="4.59" height="3.44" fill="#2e6cb8"/>
<rect x="368.88" y="334.63" width="4.59" height="3.44" fill="#1a40d8"/>
<rect x="368.88" y="338.02" width="4.59" height="3.44" fill="#1010f0"/>
<rect x="368.88" y="341.40" width="4.59" height="3.44" fill="#1010f0"/>
<rect x="373.41" y="307.55" width="4.59" height="3.44" fill="#8888f0"/>
<rect x="373.41" y="310.94" width="4.59" height="3.44" fill="#1010f0"/>
<rect x="373.41" y="314.32" width="4.59" height="3.44" fill="#2e6cb8"/>
<rect x="373.41" y="317.71" width="4.59" height="3.44" fill="#40a090"/>
<rect x="373.41" y="321.09" width="4.59" height="3.44" fill="#58c868"/>
<rect x="373.41" y="324.48" width="4.59" height="3.44" fill="#58c868"/>
<rect x="373.41" y="327.86" width="4.59" height="3.44" fill="#58c868"/>
<rect x="373.41" y="331.25" width="4.59" height="3.44" fill="#40a090"/>
<rect x="373.41" y="334.63" width="4.59" height="3.44" fill="#40a090"/>
<rect x="373.41" y="338.02" width="4.59" height="3.44" fill="#1a40d8"/>
<rect x="373.41" y="341.40" width="4.59" height="3.44" fill="#1010f0"/>
<rect x="377.95" y="307.55" width="4.59" height="3.44" fill="#8888f0"/>
<rect x="377.95" y="310.94" width="4.59" height="3.44" fill="#1010f0"/>
<rect x="377.95" y="314.32" width="4.59" height="3.44" fill="#2e6cb8"/>
<rect x="377.95" y="317.71" width="4.59" height="3.44" fill="#40a090"/>
<rect x="377.95" y="321.09" width="4.59" height="3.44" fill="#58c868"/>
<rect x="377.95" y="324.48" width="4.59" height="3.44" fill="#58c868"/>
<rect x="377.95" y="327.86" width="4.59" height="3.44" fill="#40a090"/>
<rect x="377.95" y="331.25" width="4.59" height="3.44" fill="#40a090"/>
<rect x="377.95" y="334.63" width="4.59" height="3.44" fill="#2e6cb8"/>
<rect x="377.95" y="338.02" width="4.59" height="3.44" fill="#1a40d8"/>
<rect x="377.95" y="341.40" width="4.59" height="3.44" fill="#1010f0"/>
<rect x="382.49" y="307.55" width="4.59" height="3.44" fill="#8888f0"/>
<rect x="382.49" y="310.94" width="4.59" height="3.44" fill="#1010f0"/>
<rect x="382.49" y="314.32" width="4.59" height="3.44" fill="#1a40d8"/>
<rect x="382.49" y="317.71" width="4.59" height="3.44" fill="#2e6cb8"/>
<rect x="382.49" y="321.09" width="4.59" height="3.44" fill="#40a090"/>
<rect x="382.49" y="324.48" width="4.59" height="3.44" fill="#40a090"/>
<rect x="382.49" y="327.86" width="4.59" height="3.44" fill="#40a090"/>
<rect x="382.49" y="331.25" width="4.59" height="3.44" fill="#2e6cb8"/>
<rect x="382.49" y="334.63" width="4.59" height="3.44" fill="#1a40d8"/>
<rect x="382.49" y="338.02" width="4.59" height="3.44" fill="#1010f0"/>
<rect x="382.49" y="341.40" width="4.59" height="3.44" fill="#1010f0"/>
<rect x="387.02" y="307.55" width="4.59" height="3.44" fill="#8888f0"/>
<rect x="387.02" y="310.94" width="4.59" height="3.44" fill="#1010f0"/>
<rect x="387.02" y="314.32" width="4.59" height="3.44" fill="#1a40d8"/>
<rect x="387.02" y="317.71" width="4.59" height="3.44" fill="#2e6cb8"/>
<rect x="387.02" y="321.09" width="4.59" height="3.44" fill="#40a090"/>
<rect x="387.02" y="324.48" width="4.59" height="3.44" fill="#40a090"/>
<rect x="387.02" y="327.86" width="4.59" height="3.44" fill="#2e6cb8"/>
<rect x="387.02" y="331.25" width="4.59" height="3.44" fill="#1a40d8"/>
<rect x="387.02" y="334.63" width="4.59" height="3.44" fill="#1010f0"/>
<rect x="387.02" y="338.02" width="4.59" height="3.44" fill="#1010f0"/>
<rect x="387.02" y="341.40" width="4.59" height="3.44" fill="#6868f0"/>
<rect x="391.56" y="307.55" width="4.59" height="3.44" fill="#6868f0"/>
<rect x="391.56" y="310.94" width="4.59" height="3.44" fill="#1010f0"/>
<rect x="391.56" y="314.32" width="4.59" height="3.44" fill="#1010f0"/>
<rect x="391.56" y="317.71" width="4.59" height="3.44" fill="#2e6cb8"/>
<rect x="391.56" y="321.09" width="4.59" height="3.44" fill="#2e6cb8"/>
<rect x="391.56" y="324.48" width="4.59" height="3.44" fill="#2e6cb8"/>
<rect x="391.56" y="327.86" width="4.59" height="3.44" fill="#1a40d8"/>
<rect x="391.56" y="331.25" width="4.59" height="3.44" fill="#1010f0"/>
<rect x="391.56" y="334.63" width="4.59" height="3.44" fill="#1010f0"/>
<rect x="391.56" y="338.02" width="4.59" height="3.44" fill="#4848f0"/>
<rect x="391.56" y="341.40" width="4.59" height="3.44" fill="#8888f0"/>
<rect x="396.10" y="307.55" width="4.59" height="3.44" fill="#8888f0"/>
<rect x="396.10" y="310.94" width="4.59" height="3.44" fill="#4848f0"/>
<rect x="396.10" y="314.32" width="4.59" height="3.44" fill="#1010f0"/>
<rect x="396.10" y="317.71" width="4.59" height="3.44" fill="#1010f0"/>
<rect x="396.10" y="321.09" width="4.59" height="3.44" fill="#1010f0"/>
<rect x="396.10" y="324.48" width="4.59" height="3.44" fill="#1010f0"/>
<rect x="396.10" y="327.86" width="4.59" height="3.44" fill="#2828f0"/>
<rect x="396.10" y="331.25" width="4.59" height="3.44" fill="#6868f0"/>
<rect x="396.10" y="334.63" width="4.59" height="3.44" fill="#8888f0"/>
<rect x="396.10" y="338.02" width="4.59" height="3.44" fill="#a8a8f2"/>
<rect x="396.10" y="341.40" width="4.59" height="3.44" fill="#dcdcdc"/>
<rect x="400.63" y="304.17" width="4.59" height="3.44" fill="#dcdcdc"/>
<rect x="400.63" y="307.55" width="4.59" height="3.44" fill="#8888f0"/>
<rect x="400.63" y="310.94" width="4.59" height="3.44" fill="#2828f0"/>
<rect x="400.63" y="314.32" width="4.59" height="3.44" fill="#1010f0"/>
<rect x="400.63" y="317.71" width="4.59" height="3.44" fill="#1010f0"/>
<rect x="400.63" y="321.09" width="4.59" height="3.44" fill="#1010f0"/>
<rect x="400.63" y="324.48" width="4.59" height="3.44" fill="#1010f0"/>
<rect x="400.63" y="327.86" width="4.59" height="3.44" fill="#1010f0"/>
<rect x="400.63" y="331.25" width="4.59" height="3.44" fill="#4848f0"/>
<rect x="400.63" y="334.63" width="4.59" height="3.44" fill="#8888f0"/>
<rect x="400.63" y="338.02" width="4.59" height="3.44" fill="#a8a8f2"/>
<rect x="400.63" y="341.40" width="4.59" height="3.44" fill="#dcdcdc"/>
<rect x="405.17" y="304.17" width="4.59" height="3.44" fill="#dcdcdc"/>
<rect x="405.17" y="307.55" width="4.59" height="3.44" fill="#8888f0"/>
<rect x="405.17" y="310.94" width="4.59" height="3.44" fill="#6868f0"/>
<rect x="405.17" y="314.32" width="4.59" height="3.44" fill="#1010f0"/>
<rect x="405.17" y="317.71" width="4.59" height="3.44" fill="#1010f0"/>
<rect x="405.17" y="321.09" width="4.59" height="3.44" fill="#1010f0"/>
<rect x="405.17" y="324.48" width="4.59" height="3.44" fill="#1010f0"/>
<rect x="405.17" y="327.86" width="4.59" height="3.44" fill="#1010f0"/>
<rect x="405.17" y="331.25" width="4.59" height="3.44" fill="#1010f0"/>
<rect x="405.17" y="334.63" width="4.59" height="3.44" fill="#6868f0"/>
<rect x="405.17" y="338.02" width="4.59" height="3.44" fill="#c8c8f2"/>
<rect x="405.17" y="341.40" width="4.59" height="3.44" fill="#dcdcdc"/>
<rect x="409.71" y="304.17" width="4.59" height="3.44" fill="#dcdcdc"/>
<rect x="409.71" y="307.55" width="4.59" height="3.44" fill="#8888f0"/>
<rect x="409.71" y="310.94" width="4.59" height="3.44" fill="#1010f0"/>
<rect x="409.71" y="314.32" width="4.59" height="3.44" fill="#1010f0"/>
<rect x="409.71" y="317.71" width="4.59" height="3.44" fill="#40a090"/>
<rect x="409.71" y="321.09" width="4.59" height="3.44" fill="#40a090"/>
<rect x="409.71" y="324.48" width="4.59" height="3.44" fill="#40a090"/>
<rect x="409.71" y="327.86" width="4.59" height="3.44" fill="#40a090"/>
<rect x="409.71" y="331.25" width="4.59" height="3.44" fill="#40a090"/>
<rect x="409.71" y="334.63" width="4.59" height="3.44" fill="#40a090"/>
<rect x="409.71" y="338.02" width="4.59" height="3.44" fill="#40a090"/>
<rect x="409.71" y="341.40" width="4.59" height="3.44" fill="#2e6cb8"/>
<rect x="414.25" y="304.17" width="4.59" height="3.44" fill="#dcdcdc"/>
<rect x="414.25" y="307.55" width="4.59" height="3.44" fill="#8888f0"/>
<rect x="414.25" y="310.94" width="4.59" height="3.44" fill="#1010f0"/>
<rect x="414.25" y="314.32" width="4.59" height="3.44" fill="#1a40d8"/>
<rect x="414.25" y="317.71" width="4.59" height="3.44" fill="#58c868"/>
<rect x="414.25" y="321.09" width="4.59" height="3.44" fill="#58c868"/>
<rect x="414.25" y="324.48" width="4.59" height="3.44" fill="#58c868"/>
<rect x="414.25" y="327.86" width="4.59" height="3.44" fill="#58c868"/>
<rect x="414.25" y="331.25" width="4.59" height="3.44" fill="#58c868"/>
<rect x="414.25" y="334.63" width="4.59" height="3.44" fill="#58c868"/>
<rect x="414.25" y="338.02" width="4.59" height="3.44" fill="#58c868"/>
<rect x="414.25" y="341.40" width="4.59" height="3.44" fill="#58c868"/>
<rect x="418.78" y="304.17" width="4.59" height="3.44" fill="#dcdcdc"/>
<rect x="418.78" y="307.55" width="4.59" height="3.44" fill="#4848f0"/>
<rect x="418.78" y="310.94" width="4.59" height="3.44" fill="#1010f0"/>
<rect x="418.78" y="314.32" width="4.59" height="3.44" fill="#1010f0"/>
<rect x="418.78" y="317.71" width="4.59" height="3.44" fill="#58c868"/>
<rect x="418.78" y="321.09" width="4.59" height="3.44" fill="#58c868"/>
<rect x="418.78" y="324.48" width="4.59" height="3.44" fill="#58c868"/>
<rect x="418.78" y="327.86" width="4.59" height="3.44" fill="#58c868"/>
<rect x="418.78" y="331.25" width="4.59" height="3.44" fill="#58c868"/>
<rect x="418.78" y="334.63" width="4.59" height="3.44" fill="#58c868"/>
<rect x="418.78" y="338.02" width="4.59" height="3.44" fill="#58c868"/>
<rect x="418.78" y="341.40" width="4.59" height="3.44" fill="#1010f0"/>
<rect x="423.32" y="304.17" width="4.59" height="3.44" fill="#dcdcdc"/>
<rect x="423.32" y="307.55" width="4.59" height="3.44" fill="#8888f0"/>
<rect x="423.32" y="310.94" width="4.59" height="3.44" fill="#4848f0"/>
<rect x="423.32" y="314.32" width="4.59" height="3.44" fill="#1010f0"/>
<rect x="423.32" y="317.71" width="4.59" height="3.44" fill="#1010f0"/>
<rect x="423.32" y="321.09" width="4.59" height="3.44" fill="#1010f0"/>
<rect x="423.32" y="324.48" width="4.59" height="3.44" fill="#1010f0"/>
<rect x="423.32" y="327.86" width="4.59" height="3.44" fill="#1010f0"/>
<rect x="423.32" y="331.25" width="4.59" height="3.44" fill="#2828f0"/>
<rect x="423.32" y="334.63" width="4.59" height="3.44" fill="#6868f0"/>
<rect x="423.32" y="338.02" width="4.59" height="3.44" fill="#a8a8f2"/>
<rect x="427.86" y="304.17" width="4.59" height="3.44" fill="#dcdcdc"/>
<rect x="427.86" y="307.55" width="4.59" height="3.44" fill="#8888f0"/>
<rect x="427.86" y="310.94" width="4.59" height="3.44" fill="#1010f0"/>
<rect x="427.86" y="314.32" width="4.59" height="3.44" fill="#1010f0"/>
<rect x="427.86" y="317.71" width="4.59" height="3.44" fill="#1010f0"/>
<rect x="427.86" y="321.09" width="4.59" height="3.44" fill="#1010f0"/>
<rect x="427.86" y="324.48" width="4.59" height="3.44" fill="#1010f0"/>
<rect x="427.86" y="327.86" width="4.59" height="3.44" fill="#1010f0"/>
<rect x="427.86" y="331.25" width="4.59" height="3.44" fill="#1010f0"/>
<rect x="427.86" y="334.63" width="4.59" height="3.44" fill="#4848f0"/>
<rect x="427.86" y="338.02" width="4.59" height="3.44" fill="#a8a8f2"/>
<rect x="432.39" y="304.17" width="4.59" height="3.44" fill="#dcdcdc"/>
<rect x="432.39" y="307.55" width="4.59" height="3.44" fill="#a8a8f2"/>
<rect x="432.39" y="310.94" width="4.59" height="3.44" fill="#6868f0"/>
<rect x="432.39" y="314.32" width="4.59" height="3.44" fill="#1010f0"/>
<rect x="432.39" y="317.71" width="4.59" height="3.44" fill="#1010f0"/>
<rect x="432.39" y="321.09" width="4.59" height="3.44" fill="#1010f0"/>
<rect x="432.39" y="324.48" width="4.59" height="3.44" fill="#1010f0"/>
<rect x="432.39" y="327.86" width="4.59" height="3.44" fill="#1010f0"/>
<rect x="432.39" y="331.25" width="4.59" height="3.44" fill="#1010f0"/>
<rect x="432.39" y="334.63" width="4.59" height="3.44" fill="#6868f0"/>
<rect x="436.93" y="304.17" width="4.59" height="3.44" fill="#a8a8f2"/>
<rect x="436.93" y="307.55" width="4.59" height="3.44" fill="#6868f0"/>
<rect x="436.93" y="310.94" width="4.59" height="3.44" fill="#2828f0"/>
<rect x="436.93" y="314.32" width="4.59" height="3.44" fill="#1a40d8"/>
<rect x="436.93" y="317.71" width="4.59" height="3.44" fill="#1a40d8"/>
<rect x="436.93" y="321.09" width="4.59" height="3.44" fill="#1a40d8"/>
<rect x="436.93" y="324.48" width="4.59" height="3.44" fill="#1010f0"/>
<rect x="436.93" y="327.86" width="4.59" height="3.44" fill="#1010f0"/>
<rect x="436.93" y="331.25" width="4.59" height="3.44" fill="#1010f0"/>
<rect x="436.93" y="334.63" width="4.59" height="3.44" fill="#1010f0"/>
<rect x="436.93" y="338.02" width="4.59" height="3.44" fill="#1010f0"/>
<rect x="436.93" y="341.40" width="4.59" height="3.44" fill="#dcdcdc"/>
<rect x="441.47" y="304.17" width="4.59" height="3.44" fill="#8888f0"/>
<rect x="441.47" y="307.55" width="4.59" height="3.44" fill="#1010f0"/>
<rect x="441.47" y="310.94" width="4.59" height="3.44" fill="#1010f0"/>
<rect x="441.47" y="314.32" width="4.59" height="3.44" fill="#1010f0"/>
<rect x="441.47" y="317.71" width="4.59" height="3.44" fill="#1010f0"/>
<rect x="441.47" y="321.09" width="4.59" height="3.44" fill="#1010f0"/>
<rect x="441.47" y="324.48" width="4.59" height="3.44" fill="#1010f0"/>
<rect x="441.47" y="327.86" width="4.59" height="3.44" fill="#1010f0"/>
<rect x="441.47" y="331.25" width="4.59" height="3.44" fill="#1010f0"/>
<rect x="441.47" y="334.63" width="4.59" height="3.44" fill="#1010f0"/>
<rect x="441.47" y="338.02" width="4.59" height="3.44" fill="#1010f0"/>
<rect x="446.00" y="304.17" width="4.59" height="3.44" fill="#8888f0"/>
<rect x="446.00" y="307.55" width="4.59" height="3.44" fill="#4848f0"/>
<rect x="446.00" y="310.94" width="4.59" height="3.44" fill="#1010f0"/>
<rect x="446.00" y="314.32" width="4.59" height="3.44" fill="#1010f0"/>
<rect x="446.00" y="317.71" width="4.59" height="3.44" fill="#1010f0"/>
<rect x="446.00" y="321.09" width="4.59" height="3.44" fill="#2828f0"/>
<rect x="446.00" y="324.48" width="4.59" height="3.44" fill="#4848f0"/>
<rect x="446.00" y="327.86" width="4.59" height="3.44" fill="#1010f0"/>
<rect x="446.00" y="331.25" width="4.59" height="3.44" fill="#1010f0"/>
<rect x="446.00" y="334.63" width="4.59" height="3.44" fill="#2828f0"/>
<rect x="446.00" y="338.02" width="4.59" height="3.44" fill="#6868f0"/>
<rect x="446.00" y="341.40" width="4.59" height="3.44" fill="#8888f0"/>
<rect x="450.54" y="307.55" width="4.59" height="3.44" fill="#a8a8f2"/>
<rect x="450.54" y="310.94" width="4.59" height="3.44" fill="#6868f0"/>
<rect x="450.54" y="314.32" width="4.59" height="3.44" fill="#4848f0"/>
<rect x="450.54" y="317.71" width="4.59" height="3.44" fill="#2828f0"/>
<rect x="450.54" y="321.09" width="4.59" height="3.44" fill="#2828f0"/>
<rect x="450.54" y="324.48" width="4.59" height="3.44" fill="#4848f0"/>
<rect x="450.54" y="327.86" width="4.59" height="3.44" fill="#4848f0"/>
<rect x="450.54" y="331.25" width="4.59" height="3.44" fill="#6868f0"/>
<rect x="450.54" y="334.63" width="4.59" height="3.44" fill="#8888f0"/>
<rect x="450.54" y="338.02" width="4.59" height="3.44" fill="#a8a8f2"/>
<rect x="450.54" y="341.40" width="4.59" height="3.44" fill="#a8a8f2"/>
<rect x="455.08" y="310.94" width="4.59" height="3.44" fill="#8888f0"/>
<rect x="455.08" y="314.32" width="4.59" height="3.44" fill="#4848f0"/>
<rect x="455.08" y="317.71" width="4.59" height="3.44" fill="#1010f0"/>
<rect x="455.08" y="321.09" width="4.59" height="3.44" fill="#1010f0"/>
<rect x="455.08" y="324.48" width="4.59" height="3.44" fill="#1010f0"/>
<rect x="455.08" y="327.86" width="4.59" height="3.44" fill="#4848f0"/>
<rect x="455.08" y="331.25" width="4.59" height="3.44" fill="#8888f0"/>
<rect x="455.08" y="334.63" width="4.59" height="3.44" fill="#8888f0"/>
<rect x="455.08" y="338.02" width="4.59" height="3.44" fill="#dcdcdc"/>
<rect x="459.62" y="310.94" width="4.59" height="3.44" fill="#a8a8f2"/>
<rect x="459.62" y="314.32" width="4.59" height="3.44" fill="#8888f0"/>
<rect x="459.62" y="317.71" width="4.59" height="3.44" fill="#4848f0"/>
<rect x="459.62" y="321.09" width="4.59" height="3.44" fill="#1010f0"/>
<rect x="459.62" y="324.48" width="4.59" height="3.44" fill="#1010f0"/>
<rect x="459.62" y="327.86" width="4.59" height="3.44" fill="#4848f0"/>
<rect x="459.62" y="331.25" width="4.59" height="3.44" fill="#8888f0"/>
<rect x="459.62" y="334.63" width="4.59" height="3.44" fill="#a8a8f2"/>
<rect x="459.62" y="338.02" width="4.59" height="3.44" fill="#dcdcdc"/>
<rect x="464.15" y="310.94" width="4.59" height="3.44" fill="#6868f0"/>
<rect x="464.15" y="314.32" width="4.59" height="3.44" fill="#1010f0"/>
<rect x="464.15" y="317.71" width="4.59" height="3.44" fill="#1010f0"/>
<rect x="464.15" y="321.09" width="4.59" height="3.44" fill="#1010f0"/>
<rect x="464.15" y="324.48" width="4.59" height="3.44" fill="#1010f0"/>
<rect x="464.15" y="327.86" width="4.59" height="3.44" fill="#1010f0"/>
<rect x="464.15" y="331.25" width="4.59" height="3.44" fill="#1010f0"/>
<rect x="464.15" y="334.63" width="4.59" height="3.44" fill="#1010f0"/>
<rect x="464.15" y="338.02" width="4.59" height="3.44" fill="#1010f0"/>
<rect x="468.69" y="310.94" width="4.59" height="3.44" fill="#8888f0"/>
<rect x="468.69" y="314.32" width="4.59" height="3.44" fill="#6868f0"/>
<rect x="468.69" y="317.71" width="4.59" height="3.44" fill="#6868f0"/>
<rect x="468.69" y="321.09" width="4.59" height="3.44" fill="#4848f0"/>
<rect x="468.69" y="324.48" width="4.59" height="3.44" fill="#4848f0"/>
<rect x="468.69" y="327.86" width="4.59" height="3.44" fill="#6868f0"/>
<rect x="468.69" y="331.25" width="4.59" height="3.44" fill="#8888f0"/>
<rect x="468.69" y="334.63" width="4.59" height="3.44" fill="#a8a8f2"/>
<rect x="468.69" y="338.02" width="4.59" height="3.44" fill="#a8a8f2"/>
<rect x="473.23" y="310.94" width="4.59" height="3.44" fill="#8888f0"/>
<rect x="473.23" y="314.32" width="4.59" height="3.44" fill="#6868f0"/>
<rect x="473.23" y="317.71" width="4.59" height="3.44" fill="#1010f0"/>
<rect x="473.23" y="321.09" width="4.59" height="3.44" fill="#1010f0"/>
<rect x="473.23" y="324.48" width="4.59" height="3.44" fill="#1010f0"/>
<rect x="473.23" y="327.86" width="4.59" height="3.44" fill="#1010f0"/>
<rect x="473.23" y="331.25" width="4.59" height="3.44" fill="#4848f0"/>
<rect x="473.23" y="334.63" width="4.59" height="3.44" fill="#8888f0"/>
<rect x="473.23" y="338.02" width="4.59" height="3.44" fill="#dcdcdc"/>
<rect x="477.76" y="314.32" width="4.54" height="3.44" fill="#8888f0"/>
<rect x="477.76" y="317.71" width="4.54" height="3.44" fill="#6868f0"/>
<rect x="477.76" y="321.09" width="4.54" height="3.44" fill="#4848f0"/>
<rect x="477.76" y="324.48" width="4.54" height="3.44" fill="#4848f0"/>
<rect x="477.76" y="327.86" width="4.54" height="3.44" fill="#6868f0"/>
<rect x="477.76" y="331.25" width="4.54" height="3.44" fill="#8888f0"/>
<rect x="477.76" y="334.63" width="4.54" height="3.44" fill="#8888f0"/>
<rect x="477.76" y="338.02" width="4.54" height="3.44" fill="#dcdcdc"/>
<rect x="440.50" y="311.80" width="4.00" height="30.30" fill="#66e84a"/>
</g>
<line x1="28.6" y1="339.18" x2="482.3" y2="339.18" stroke="#000" stroke-width="2.3" stroke-dasharray="7.5 7.5"/>
<text x="255.45" y="216.10" text-anchor="middle" font-size="11.5" font-weight="bold">EarthCARE radar reflectivity</text>
<text x="255.45" y="386.80" text-anchor="middle" font-size="13" font-weight="bold" fill="#262626">Along track [km]</text>
<text transform="translate(14.3,288.40) rotate(-90)" x="0" y="0" text-anchor="middle" font-size="13.3" font-weight="bold" fill="#262626">Height [km]</text>
<text x="49.8" y="247.90" font-size="14" font-weight="bold" letter-spacing="0.8">(b)</text>
<text x="76.4" y="241.30" font-size="12">Oct 04, 2024</text>
<text x="76.4" y="256.70" font-size="12" letter-spacing="-0.2">138.6° E, 37.1° S</text>
<rect x="303.1" y="257.90" width="117.90" height="8.70" fill="url(#cm)" stroke="#b4b4b4" stroke-width="0.8"/>
<line x1="316.20" y1="257.9" x2="316.20" y2="259.30" stroke="#333" stroke-width="0.8"/>
<text x="316.20" y="253.00" text-anchor="middle" font-size="10.3" font-weight="bold">-30</text>
<line x1="342.40" y1="257.9" x2="342.40" y2="259.30" stroke="#333" stroke-width="0.8"/>
<text x="342.40" y="253.00" text-anchor="middle" font-size="10.3" font-weight="bold">-20</text>
<line x1="368.60" y1="257.9" x2="368.60" y2="259.30" stroke="#333" stroke-width="0.8"/>
<text x="368.60" y="253.00" text-anchor="middle" font-size="10.3" font-weight="bold">-10</text>
<line x1="394.80" y1="257.9" x2="394.80" y2="259.30" stroke="#333" stroke-width="0.8"/>
<text x="394.80" y="253.00" text-anchor="middle" font-size="10.3" font-weight="bold">0</text>
<text x="421.00" y="253.00" text-anchor="middle" font-size="10.3" font-weight="bold">10</text>
<text x="362.05" y="234.50" text-anchor="middle" font-size="10.3" font-weight="bold">dBZ</text>
<rect x="28.6" y="423.0" width="453.70" height="135.30" fill="none" stroke="#262626" stroke-width="1.3"/>
<line x1="71.49" y1="558.3" x2="71.49" y2="552.8" stroke="#262626" stroke-width="1.3"/>
<line x1="71.49" y1="423.0" x2="71.49" y2="428.5" stroke="#262626" stroke-width="1.3"/>
<text x="71.49" y="573.40" text-anchor="middle" font-size="11.5" font-weight="bold" fill="#262626">1960</text>
<line x1="115.89" y1="558.3" x2="115.89" y2="552.8" stroke="#262626" stroke-width="1.3"/>
<line x1="115.89" y1="423.0" x2="115.89" y2="428.5" stroke="#262626" stroke-width="1.3"/>
<text x="115.89" y="573.40" text-anchor="middle" font-size="11.5" font-weight="bold" fill="#262626">1970</text>
<line x1="160.28" y1="558.3" x2="160.28" y2="552.8" stroke="#262626" stroke-width="1.3"/>
<line x1="160.28" y1="423.0" x2="160.28" y2="428.5" stroke="#262626" stroke-width="1.3"/>
<text x="160.28" y="573.40" text-anchor="middle" font-size="11.5" font-weight="bold" fill="#262626">1980</text>
<line x1="204.68" y1="558.3" x2="204.68" y2="552.8" stroke="#262626" stroke-width="1.3"/>
<line x1="204.68" y1="423.0" x2="204.68" y2="428.5" stroke="#262626" stroke-width="1.3"/>
<text x="204.68" y="573.40" text-anchor="middle" font-size="11.5" font-weight="bold" fill="#262626">1990</text>
<line x1="249.08" y1="558.3" x2="249.08" y2="552.8" stroke="#262626" stroke-width="1.3"/>
<line x1="249.08" y1="423.0" x2="249.08" y2="428.5" stroke="#262626" stroke-width="1.3"/>
<text x="249.08" y="573.40" text-anchor="middle" font-size="11.5" font-weight="bold" fill="#262626">2000</text>
<line x1="293.48" y1="558.3" x2="293.48" y2="552.8" stroke="#262626" stroke-width="1.3"/>
<line x1="293.48" y1="423.0" x2="293.48" y2="428.5" stroke="#262626" stroke-width="1.3"/>
<text x="293.48" y="573.40" text-anchor="middle" font-size="11.5" font-weight="bold" fill="#262626">2010</text>
<line x1="337.87" y1="558.3" x2="337.87" y2="552.8" stroke="#262626" stroke-width="1.3"/>
<line x1="337.87" y1="423.0" x2="337.87" y2="428.5" stroke="#262626" stroke-width="1.3"/>
<text x="337.87" y="573.40" text-anchor="middle" font-size="11.5" font-weight="bold" fill="#262626">2020</text>
<line x1="382.27" y1="558.3" x2="382.27" y2="552.8" stroke="#262626" stroke-width="1.3"/>
<line x1="382.27" y1="423.0" x2="382.27" y2="428.5" stroke="#262626" stroke-width="1.3"/>
<text x="382.27" y="573.40" text-anchor="middle" font-size="11.5" font-weight="bold" fill="#262626">2030</text>
<line x1="426.67" y1="558.3" x2="426.67" y2="552.8" stroke="#262626" stroke-width="1.3"/>
<line x1="426.67" y1="423.0" x2="426.67" y2="428.5" stroke="#262626" stroke-width="1.3"/>
<text x="426.67" y="573.40" text-anchor="middle" font-size="11.5" font-weight="bold" fill="#262626">2040</text>
<line x1="471.07" y1="558.3" x2="471.07" y2="552.8" stroke="#262626" stroke-width="1.3"/>
<line x1="471.07" y1="423.0" x2="471.07" y2="428.5" stroke="#262626" stroke-width="1.3"/>
<text x="471.07" y="573.40" text-anchor="middle" font-size="11.5" font-weight="bold" fill="#262626">2050</text>
<text x="25.2" y="562.50" text-anchor="end" font-size="12" font-weight="bold" fill="#262626">0</text>
<line x1="28.6" y1="524.47" x2="34.1" y2="524.47" stroke="#262626" stroke-width="1.3"/>
<line x1="482.3" y1="524.47" x2="476.8" y2="524.47" stroke="#262626" stroke-width="1.3"/>
<text x="25.2" y="528.67" text-anchor="end" font-size="12" font-weight="bold" fill="#262626">1</text>
<line x1="28.6" y1="490.65" x2="34.1" y2="490.65" stroke="#262626" stroke-width="1.3"/>
<line x1="482.3" y1="490.65" x2="476.8" y2="490.65" stroke="#262626" stroke-width="1.3"/>
<text x="25.2" y="494.85" text-anchor="end" font-size="12" font-weight="bold" fill="#262626">2</text>
<line x1="28.6" y1="456.82" x2="34.1" y2="456.82" stroke="#262626" stroke-width="1.3"/>
<line x1="482.3" y1="456.82" x2="476.8" y2="456.82" stroke="#262626" stroke-width="1.3"/>
<text x="25.2" y="461.02" text-anchor="end" font-size="12" font-weight="bold" fill="#262626">3</text>
<text x="25.2" y="427.20" text-anchor="end" font-size="12" font-weight="bold" fill="#262626">4</text>
<g filter="url(#bl)" shape-rendering="crispEdges">
<rect x="28.73" y="499.80" width="4.93" height="8.05" fill="#2e6cb8"/>
<rect x="28.73" y="507.80" width="4.93" height="8.05" fill="#f4f452"/>
<rect x="28.73" y="515.80" width="4.93" height="8.05" fill="#f0a040"/>
<rect x="28.73" y="523.80" width="4.93" height="8.05" fill="#f0a040"/>
<rect x="28.73" y="531.80" width="4.93" height="8.05" fill="#f8c848"/>
<rect x="33.61" y="499.80" width="4.93" height="8.05" fill="#1a40d8"/>
<rect x="33.61" y="507.80" width="4.93" height="8.05" fill="#a8f050"/>
<rect x="33.61" y="515.80" width="4.93" height="8.05" fill="#f8c848"/>
<rect x="33.61" y="523.80" width="4.93" height="8.05" fill="#f8c848"/>
<rect x="33.61" y="531.80" width="4.93" height="8.05" fill="#f4f452"/>
<rect x="38.49" y="499.80" width="4.93" height="8.05" fill="#1a40d8"/>
<rect x="38.49" y="507.80" width="4.93" height="8.05" fill="#a8f050"/>
<rect x="38.49" y="515.80" width="4.93" height="8.05" fill="#f8c848"/>
<rect x="38.49" y="523.80" width="4.93" height="8.05" fill="#f0a040"/>
<rect x="38.49" y="531.80" width="4.93" height="8.05" fill="#f4f452"/>
<rect x="43.37" y="499.80" width="4.93" height="8.05" fill="#1a40d8"/>
<rect x="43.37" y="507.80" width="4.93" height="8.05" fill="#a8f050"/>
<rect x="43.37" y="515.80" width="4.93" height="8.05" fill="#f8c848"/>
<rect x="43.37" y="523.80" width="4.93" height="8.05" fill="#f8c848"/>
<rect x="43.37" y="531.80" width="4.93" height="8.05" fill="#a8f050"/>
<rect x="48.25" y="499.80" width="4.93" height="8.05" fill="#1010f0"/>
<rect x="48.25" y="507.80" width="4.93" height="8.05" fill="#a8f050"/>
<rect x="48.25" y="515.80" width="4.93" height="8.05" fill="#f8c848"/>
<rect x="48.25" y="523.80" width="4.93" height="8.05" fill="#f8c848"/>
<rect x="48.25" y="531.80" width="4.93" height="8.05" fill="#a8f050"/>
<rect x="53.14" y="499.80" width="4.93" height="8.05" fill="#1010f0"/>
<rect x="53.14" y="507.80" width="4.93" height="8.05" fill="#a8f050"/>
<rect x="53.14" y="515.80" width="4.93" height="8.05" fill="#f8c848"/>
<rect x="53.14" y="523.80" width="4.93" height="8.05" fill="#f4f452"/>
<rect x="53.14" y="531.80" width="4.93" height="8.05" fill="#78f048"/>
<rect x="58.02" y="499.80" width="4.93" height="8.05" fill="#4848f0"/>
<rect x="58.02" y="507.80" width="4.93" height="8.05" fill="#78f048"/>
<rect x="58.02" y="515.80" width="4.93" height="8.05" fill="#a8f050"/>
<rect x="58.02" y="523.80" width="4.93" height="8.05" fill="#a8f050"/>
<rect x="58.02" y="531.80" width="4.93" height="8.05" fill="#58c868"/>
<rect x="62.90" y="507.75" width="4.93" height="8.05" fill="#2e6cb8"/>
<rect x="62.90" y="515.75" width="4.93" height="8.05" fill="#58c868"/>
<rect x="62.90" y="523.75" width="4.93" height="8.05" fill="#58c868"/>
<rect x="67.78" y="507.64" width="4.93" height="8.05" fill="#2e6cb8"/>
<rect x="67.78" y="515.64" width="4.93" height="8.05" fill="#58c868"/>
<rect x="67.78" y="523.64" width="4.93" height="8.05" fill="#58c868"/>
<rect x="72.66" y="507.53" width="4.93" height="8.05" fill="#1a40d8"/>
<rect x="72.66" y="515.53" width="4.93" height="8.05" fill="#40a090"/>
<rect x="72.66" y="523.53" width="4.93" height="8.05" fill="#40a090"/>
<rect x="77.54" y="507.42" width="4.93" height="8.05" fill="#1a40d8"/>
<rect x="77.54" y="515.42" width="4.93" height="8.05" fill="#2e6cb8"/>
<rect x="77.54" y="523.42" width="4.93" height="8.05" fill="#1010f0"/>
<rect x="82.42" y="499.32" width="4.93" height="8.05" fill="#6868f0"/>
<rect x="82.42" y="507.32" width="4.93" height="8.05" fill="#1010f0"/>
<rect x="82.42" y="515.32" width="4.93" height="8.05" fill="#1a40d8"/>
<rect x="82.42" y="523.32" width="4.93" height="8.05" fill="#8888f0"/>
<rect x="87.30" y="507.21" width="4.93" height="8.05" fill="#1a40d8"/>
<rect x="87.30" y="515.21" width="4.93" height="8.05" fill="#2e6cb8"/>
<rect x="87.30" y="523.21" width="4.93" height="8.05" fill="#1010f0"/>
<rect x="92.18" y="507.10" width="4.93" height="8.05" fill="#1a40d8"/>
<rect x="92.18" y="515.10" width="4.93" height="8.05" fill="#40a090"/>
<rect x="92.18" y="523.10" width="4.93" height="8.05" fill="#2e6cb8"/>
<rect x="97.06" y="498.99" width="4.93" height="8.05" fill="#8888f0"/>
<rect x="97.06" y="506.99" width="4.93" height="8.05" fill="#1a40d8"/>
<rect x="97.06" y="514.99" width="4.93" height="8.05" fill="#40a090"/>
<rect x="97.06" y="522.99" width="4.93" height="8.05" fill="#40a090"/>
<rect x="101.95" y="498.88" width="4.93" height="8.05" fill="#dcdcdc"/>
<rect x="101.95" y="506.88" width="4.93" height="8.05" fill="#2e6cb8"/>
<rect x="101.95" y="514.88" width="4.93" height="8.05" fill="#78f048"/>
<rect x="101.95" y="522.88" width="4.93" height="8.05" fill="#58c868"/>
<rect x="101.95" y="530.88" width="4.93" height="8.05" fill="#2e6cb8"/>
<rect x="106.83" y="498.78" width="4.93" height="8.05" fill="#dcdcdc"/>
<rect x="106.83" y="506.78" width="4.93" height="8.05" fill="#1a40d8"/>
<rect x="106.83" y="514.78" width="4.93" height="8.05" fill="#78f048"/>
<rect x="106.83" y="522.78" width="4.93" height="8.05" fill="#78f048"/>
<rect x="106.83" y="530.78" width="4.93" height="8.05" fill="#40a090"/>
<rect x="111.71" y="506.67" width="4.93" height="8.05" fill="#1010f0"/>
<rect x="111.71" y="514.67" width="4.93" height="8.05" fill="#1a40d8"/>
<rect x="111.71" y="522.67" width="4.93" height="8.05" fill="#1a40d8"/>
<rect x="116.59" y="506.56" width="4.93" height="8.05" fill="#6868f0"/>
<rect x="116.59" y="514.56" width="4.93" height="8.05" fill="#1a40d8"/>
<rect x="116.59" y="522.56" width="4.93" height="8.05" fill="#1a40d8"/>
<rect x="121.47" y="506.45" width="4.93" height="8.05" fill="#4848f0"/>
<rect x="121.47" y="514.45" width="4.93" height="8.05" fill="#2e6cb8"/>
<rect x="121.47" y="522.45" width="4.93" height="8.05" fill="#4848f0"/>
<rect x="126.35" y="506.32" width="4.93" height="8.05" fill="#a8a8f2"/>
<rect x="126.35" y="514.32" width="4.93" height="8.05" fill="#1a40d8"/>
<rect x="126.35" y="522.32" width="4.93" height="8.05" fill="#4848f0"/>
<rect x="131.23" y="498.16" width="4.93" height="8.05" fill="#4848f0"/>
<rect x="131.23" y="506.16" width="4.93" height="8.05" fill="#1010f0"/>
<rect x="131.23" y="514.16" width="4.93" height="8.05" fill="#1a40d8"/>
<rect x="131.23" y="522.16" width="4.93" height="8.05" fill="#1a40d8"/>
<rect x="136.11" y="506.00" width="4.93" height="8.05" fill="#1010f0"/>
<rect x="136.11" y="514.00" width="4.93" height="8.05" fill="#2e6cb8"/>
<rect x="136.11" y="522.00" width="4.93" height="8.05" fill="#40a090"/>
<rect x="140.99" y="497.83" width="4.93" height="8.05" fill="#8888f0"/>
<rect x="140.99" y="505.83" width="4.93" height="8.05" fill="#1010f0"/>
<rect x="140.99" y="513.83" width="4.93" height="8.05" fill="#2e6cb8"/>
<rect x="140.99" y="521.83" width="4.93" height="8.05" fill="#1a40d8"/>
<rect x="145.87" y="505.67" width="4.93" height="8.05" fill="#1010f0"/>
<rect x="145.87" y="513.67" width="4.93" height="8.05" fill="#1010f0"/>
<rect x="145.87" y="521.67" width="4.93" height="8.05" fill="#6868f0"/>
<rect x="150.75" y="505.51" width="4.93" height="8.05" fill="#6868f0"/>
<rect x="150.75" y="513.51" width="4.93" height="8.05" fill="#1010f0"/>
<rect x="155.64" y="505.35" width="4.93" height="8.05" fill="#4848f0"/>
<rect x="155.64" y="513.35" width="4.93" height="8.05" fill="#1a40d8"/>
<rect x="155.64" y="521.35" width="4.93" height="8.05" fill="#1a40d8"/>
<rect x="160.52" y="505.19" width="4.93" height="8.05" fill="#1010f0"/>
<rect x="160.52" y="513.19" width="4.93" height="8.05" fill="#40a090"/>
<rect x="160.52" y="521.19" width="4.93" height="8.05" fill="#1a40d8"/>
<rect x="165.40" y="513.03" width="4.93" height="8.05" fill="#1a40d8"/>
<rect x="165.40" y="521.03" width="4.93" height="8.05" fill="#1a40d8"/>
<rect x="170.28" y="504.87" width="4.93" height="8.05" fill="#1010f0"/>
<rect x="170.28" y="512.87" width="4.93" height="8.05" fill="#2e6cb8"/>
<rect x="170.28" y="520.87" width="4.93" height="8.05" fill="#1a40d8"/>
<rect x="175.16" y="504.70" width="4.93" height="8.05" fill="#8888f0"/>
<rect x="175.16" y="512.70" width="4.93" height="8.05" fill="#40a090"/>
<rect x="175.16" y="520.70" width="4.93" height="8.05" fill="#1a40d8"/>
<rect x="180.04" y="504.54" width="4.93" height="8.05" fill="#8888f0"/>
<rect x="180.04" y="512.54" width="4.93" height="8.05" fill="#1a40d8"/>
<rect x="180.04" y="520.54" width="4.93" height="8.05" fill="#1a40d8"/>
<rect x="184.92" y="504.38" width="4.93" height="8.05" fill="#8888f0"/>
<rect x="184.92" y="512.38" width="4.93" height="8.05" fill="#1a40d8"/>
<rect x="184.92" y="520.38" width="4.93" height="8.05" fill="#1010f0"/>
<rect x="189.80" y="496.27" width="4.93" height="8.05" fill="#a8a8f2"/>
<rect x="189.80" y="504.27" width="4.93" height="8.05" fill="#4848f0"/>
<rect x="189.80" y="512.27" width="4.93" height="8.05" fill="#1a40d8"/>
<rect x="189.80" y="520.27" width="4.93" height="8.05" fill="#1a40d8"/>
<rect x="189.80" y="528.27" width="4.93" height="8.05" fill="#8888f0"/>
<rect x="194.68" y="496.22" width="4.93" height="8.05" fill="#6868f0"/>
<rect x="194.68" y="504.22" width="4.93" height="8.05" fill="#2828f0"/>
<rect x="194.68" y="512.22" width="4.93" height="8.05" fill="#2e6cb8"/>
<rect x="194.68" y="520.22" width="4.93" height="8.05" fill="#1a40d8"/>
<rect x="194.68" y="528.22" width="4.93" height="8.05" fill="#1010f0"/>
<rect x="199.56" y="496.17" width="4.93" height="8.05" fill="#1010f0"/>
<rect x="199.56" y="504.17" width="4.93" height="8.05" fill="#1010f0"/>
<rect x="199.56" y="512.17" width="4.93" height="8.05" fill="#2e6cb8"/>
<rect x="199.56" y="520.17" width="4.93" height="8.05" fill="#2e6cb8"/>
<rect x="199.56" y="528.17" width="4.93" height="8.05" fill="#8888f0"/>
<rect x="204.45" y="496.11" width="4.93" height="8.05" fill="#dcdcdc"/>
<rect x="204.45" y="504.11" width="4.93" height="8.05" fill="#4848f0"/>
<rect x="204.45" y="512.11" width="4.93" height="8.05" fill="#1a40d8"/>
<rect x="204.45" y="520.11" width="4.93" height="8.05" fill="#1a40d8"/>
<rect x="209.33" y="496.06" width="4.93" height="8.05" fill="#6868f0"/>
<rect x="209.33" y="504.06" width="4.93" height="8.05" fill="#6868f0"/>
<rect x="209.33" y="512.06" width="4.93" height="8.05" fill="#40a090"/>
<rect x="209.33" y="520.06" width="4.93" height="8.05" fill="#58c868"/>
<rect x="209.33" y="528.06" width="4.93" height="8.05" fill="#1a40d8"/>
<rect x="214.21" y="496.00" width="4.93" height="8.05" fill="#6868f0"/>
<rect x="214.21" y="504.00" width="4.93" height="8.05" fill="#1a40d8"/>
<rect x="214.21" y="512.00" width="4.93" height="8.05" fill="#58c868"/>
<rect x="214.21" y="520.00" width="4.93" height="8.05" fill="#78f048"/>
<rect x="214.21" y="528.00" width="4.93" height="8.05" fill="#40a090"/>
<rect x="219.09" y="503.95" width="4.93" height="8.05" fill="#6868f0"/>
<rect x="219.09" y="511.95" width="4.93" height="8.05" fill="#40a090"/>
<rect x="219.09" y="519.95" width="4.93" height="8.05" fill="#1a40d8"/>
<rect x="219.09" y="527.95" width="4.93" height="8.05" fill="#1010f0"/>
<rect x="223.97" y="503.90" width="4.93" height="8.05" fill="#1010f0"/>
<rect x="223.97" y="511.90" width="4.93" height="8.05" fill="#1a40d8"/>
<rect x="223.97" y="519.90" width="4.93" height="8.05" fill="#1010f0"/>
<rect x="223.97" y="527.90" width="4.93" height="8.05" fill="#a8a8f2"/>
<rect x="228.85" y="503.84" width="4.93" height="8.05" fill="#8888f0"/>
<rect x="228.85" y="511.84" width="4.93" height="8.05" fill="#1a40d8"/>
<rect x="228.85" y="519.84" width="4.93" height="8.05" fill="#1a40d8"/>
<rect x="228.85" y="527.84" width="4.93" height="8.05" fill="#4848f0"/>
<rect x="233.73" y="503.79" width="4.93" height="8.05" fill="#dcdcdc"/>
<rect x="233.73" y="511.79" width="4.93" height="8.05" fill="#40a090"/>
<rect x="233.73" y="519.79" width="4.93" height="8.05" fill="#40a090"/>
<rect x="233.73" y="527.79" width="4.93" height="8.05" fill="#1010f0"/>
<rect x="238.61" y="495.73" width="4.93" height="8.05" fill="#2828f0"/>
<rect x="238.61" y="503.73" width="4.93" height="8.05" fill="#1010f0"/>
<rect x="238.61" y="511.73" width="4.93" height="8.05" fill="#58c868"/>
<rect x="238.61" y="519.73" width="4.93" height="8.05" fill="#40a090"/>
<rect x="238.61" y="527.73" width="4.93" height="8.05" fill="#1a40d8"/>
<rect x="243.49" y="503.68" width="4.93" height="8.05" fill="#1010f0"/>
<rect x="243.49" y="511.68" width="4.93" height="8.05" fill="#58c868"/>
<rect x="243.49" y="519.68" width="4.93" height="8.05" fill="#78f048"/>
<rect x="243.49" y="527.68" width="4.93" height="8.05" fill="#58c868"/>
<rect x="248.38" y="503.63" width="4.93" height="8.05" fill="#1010f0"/>
<rect x="248.38" y="511.63" width="4.93" height="8.05" fill="#58c868"/>
<rect x="248.38" y="519.63" width="4.93" height="8.05" fill="#a8f050"/>
<rect x="248.38" y="527.63" width="4.93" height="8.05" fill="#78f048"/>
<rect x="253.26" y="503.52" width="4.93" height="8.05" fill="#1010f0"/>
<rect x="253.26" y="511.52" width="4.93" height="8.05" fill="#78f048"/>
<rect x="253.26" y="519.52" width="4.93" height="8.05" fill="#a8f050"/>
<rect x="253.26" y="527.52" width="4.93" height="8.05" fill="#78f048"/>
<rect x="258.14" y="503.36" width="4.93" height="8.05" fill="#1a40d8"/>
<rect x="258.14" y="511.36" width="4.93" height="8.05" fill="#78f048"/>
<rect x="258.14" y="519.36" width="4.93" height="8.05" fill="#a8f050"/>
<rect x="258.14" y="527.36" width="4.93" height="8.05" fill="#78f048"/>
<rect x="258.14" y="535.36" width="4.93" height="8.05" fill="#1a40d8"/>
<rect x="263.02" y="503.20" width="4.93" height="8.05" fill="#1a40d8"/>
<rect x="263.02" y="511.20" width="4.93" height="8.05" fill="#78f048"/>
<rect x="263.02" y="519.20" width="4.93" height="8.05" fill="#a8f050"/>
<rect x="263.02" y="527.20" width="4.93" height="8.05" fill="#a8f050"/>
<rect x="263.02" y="535.20" width="4.93" height="8.05" fill="#1a40d8"/>
<rect x="267.90" y="503.03" width="4.93" height="8.05" fill="#1a40d8"/>
<rect x="267.90" y="511.03" width="4.93" height="8.05" fill="#78f048"/>
<rect x="267.90" y="519.03" width="4.93" height="8.05" fill="#f4f452"/>
<rect x="267.90" y="527.03" width="4.93" height="8.05" fill="#a8f050"/>
<rect x="267.90" y="535.03" width="4.93" height="8.05" fill="#1010f0"/>
<rect x="272.78" y="502.87" width="4.93" height="8.05" fill="#1010f0"/>
<rect x="272.78" y="510.87" width="4.93" height="8.05" fill="#78f048"/>
<rect x="272.78" y="518.87" width="4.93" height="8.05" fill="#a8f050"/>
<rect x="272.78" y="526.87" width="4.93" height="8.05" fill="#78f048"/>
<rect x="272.78" y="534.87" width="4.93" height="8.05" fill="#2e6cb8"/>
<rect x="277.66" y="502.71" width="4.93" height="8.05" fill="#1a40d8"/>
<rect x="277.66" y="510.71" width="4.93" height="8.05" fill="#78f048"/>
<rect x="277.66" y="518.71" width="4.93" height="8.05" fill="#f4f452"/>
<rect x="277.66" y="526.71" width="4.93" height="8.05" fill="#a8f050"/>
<rect x="277.66" y="534.71" width="4.93" height="8.05" fill="#40a090"/>
<rect x="282.54" y="502.55" width="4.93" height="8.05" fill="#1a40d8"/>
<rect x="282.54" y="510.55" width="4.93" height="8.05" fill="#78f048"/>
<rect x="282.54" y="518.55" width="4.93" height="8.05" fill="#a8f050"/>
<rect x="282.54" y="526.55" width="4.93" height="8.05" fill="#a8f050"/>
<rect x="282.54" y="534.55" width="4.93" height="8.05" fill="#58c868"/>
<rect x="287.42" y="502.39" width="4.93" height="8.05" fill="#1a40d8"/>
<rect x="287.42" y="510.39" width="4.93" height="8.05" fill="#78f048"/>
<rect x="287.42" y="518.39" width="4.93" height="8.05" fill="#f4f452"/>
<rect x="287.42" y="526.39" width="4.93" height="8.05" fill="#a8f050"/>
<rect x="287.42" y="534.39" width="4.93" height="8.05" fill="#58c868"/>
<rect x="292.30" y="502.23" width="4.93" height="8.05" fill="#2e6cb8"/>
<rect x="292.30" y="510.23" width="4.93" height="8.05" fill="#78f048"/>
<rect x="292.30" y="518.23" width="4.93" height="8.05" fill="#f4f452"/>
<rect x="292.30" y="526.23" width="4.93" height="8.05" fill="#78f048"/>
<rect x="292.30" y="534.23" width="4.93" height="8.05" fill="#78f048"/>
<rect x="297.19" y="502.07" width="4.93" height="8.05" fill="#1a40d8"/>
<rect x="297.19" y="510.07" width="4.93" height="8.05" fill="#78f048"/>
<rect x="297.19" y="518.07" width="4.93" height="8.05" fill="#f8c848"/>
<rect x="297.19" y="526.07" width="4.93" height="8.05" fill="#a8f050"/>
<rect x="297.19" y="534.07" width="4.93" height="8.05" fill="#58c868"/>
<rect x="302.07" y="501.90" width="4.93" height="8.05" fill="#1a40d8"/>
<rect x="302.07" y="509.90" width="4.93" height="8.05" fill="#a8f050"/>
<rect x="302.07" y="517.90" width="4.93" height="8.05" fill="#f4f452"/>
<rect x="302.07" y="525.90" width="4.93" height="8.05" fill="#f4f452"/>
<rect x="302.07" y="533.90" width="4.93" height="8.05" fill="#78f048"/>
<rect x="306.95" y="501.74" width="4.93" height="8.05" fill="#1a40d8"/>
<rect x="306.95" y="509.74" width="4.93" height="8.05" fill="#78f048"/>
<rect x="306.95" y="517.74" width="4.93" height="8.05" fill="#f4f452"/>
<rect x="306.95" y="525.74" width="4.93" height="8.05" fill="#a8f050"/>
<rect x="306.95" y="533.74" width="4.93" height="8.05" fill="#78f048"/>
<rect x="311.83" y="501.58" width="4.93" height="8.05" fill="#1010f0"/>
<rect x="311.83" y="509.58" width="4.93" height="8.05" fill="#78f048"/>
<rect x="311.83" y="517.58" width="4.93" height="8.05" fill="#f4f452"/>
<rect x="311.83" y="525.58" width="4.93" height="8.05" fill="#a8f050"/>
<rect x="311.83" y="533.58" width="4.93" height="8.05" fill="#78f048"/>
<rect x="316.71" y="501.50" width="4.93" height="8.05" fill="#1010f0"/>
<rect x="316.71" y="509.50" width="4.93" height="8.05" fill="#78f048"/>
<rect x="316.71" y="517.50" width="4.93" height="8.05" fill="#f4f452"/>
<rect x="316.71" y="525.50" width="4.93" height="8.05" fill="#a8f050"/>
<rect x="316.71" y="533.50" width="4.93" height="8.05" fill="#78f048"/>
<rect x="321.59" y="493.49" width="4.93" height="8.05" fill="#8888f0"/>
<rect x="321.59" y="501.49" width="4.93" height="8.05" fill="#6868f0"/>
<rect x="321.59" y="509.49" width="4.93" height="8.05" fill="#78f048"/>
<rect x="321.59" y="517.49" width="4.93" height="8.05" fill="#78f048"/>
<rect x="321.59" y="525.49" width="4.93" height="8.05" fill="#78f048"/>
<rect x="321.59" y="533.49" width="4.93" height="8.05" fill="#58c868"/>
<rect x="326.47" y="493.48" width="4.93" height="8.05" fill="#8888f0"/>
<rect x="326.47" y="501.48" width="4.93" height="8.05" fill="#6868f0"/>
<rect x="326.47" y="509.48" width="4.93" height="8.05" fill="#40a090"/>
<rect x="326.47" y="517.48" width="4.93" height="8.05" fill="#78f048"/>
<rect x="326.47" y="525.48" width="4.93" height="8.05" fill="#58c868"/>
<rect x="331.35" y="501.47" width="4.93" height="8.05" fill="#4848f0"/>
<rect x="331.35" y="509.47" width="4.93" height="8.05" fill="#58c868"/>
<rect x="331.35" y="517.47" width="4.93" height="8.05" fill="#78f048"/>
<rect x="331.35" y="525.47" width="4.93" height="8.05" fill="#58c868"/>
<rect x="331.35" y="533.47" width="4.93" height="8.05" fill="#1010f0"/>
<rect x="336.23" y="493.46" width="4.93" height="8.05" fill="#8888f0"/>
<rect x="336.23" y="501.46" width="4.93" height="8.05" fill="#1010f0"/>
<rect x="336.23" y="509.46" width="4.93" height="8.05" fill="#78f048"/>
<rect x="336.23" y="517.46" width="4.93" height="8.05" fill="#a8f050"/>
<rect x="336.23" y="525.46" width="4.93" height="8.05" fill="#78f048"/>
<rect x="336.23" y="533.46" width="4.93" height="8.05" fill="#1a40d8"/>
<rect x="341.11" y="493.46" width="4.93" height="8.05" fill="#6868f0"/>
<rect x="341.11" y="509.46" width="4.93" height="8.05" fill="#78f048"/>
<rect x="341.11" y="517.46" width="4.93" height="8.05" fill="#f4f452"/>
<rect x="341.11" y="525.46" width="4.93" height="8.05" fill="#78f048"/>
<rect x="341.11" y="533.46" width="4.93" height="8.05" fill="#58c868"/>
<rect x="346.00" y="493.45" width="4.93" height="8.05" fill="#a8a8f2"/>
<rect x="346.00" y="501.45" width="4.93" height="8.05" fill="#1010f0"/>
<rect x="346.00" y="509.45" width="4.93" height="8.05" fill="#78f048"/>
<rect x="346.00" y="517.45" width="4.93" height="8.05" fill="#f4f452"/>
<rect x="346.00" y="525.45" width="4.93" height="8.05" fill="#a8f050"/>
<rect x="346.00" y="533.45" width="4.93" height="8.05" fill="#58c868"/>
<rect x="350.88" y="493.44" width="4.93" height="8.05" fill="#6868f0"/>
<rect x="350.88" y="501.44" width="4.93" height="8.05" fill="#1010f0"/>
<rect x="350.88" y="509.44" width="4.93" height="8.05" fill="#78f048"/>
<rect x="350.88" y="517.44" width="4.93" height="8.05" fill="#a8f050"/>
<rect x="350.88" y="525.44" width="4.93" height="8.05" fill="#a8f050"/>
<rect x="350.88" y="533.44" width="4.93" height="8.05" fill="#58c868"/>
<rect x="355.76" y="501.43" width="4.93" height="8.05" fill="#6868f0"/>
<rect x="355.76" y="509.43" width="4.93" height="8.05" fill="#58c868"/>
<rect x="355.76" y="517.43" width="4.93" height="8.05" fill="#78f048"/>
<rect x="355.76" y="525.43" width="4.93" height="8.05" fill="#78f048"/>
<rect x="355.76" y="533.43" width="4.93" height="8.05" fill="#40a090"/>
<rect x="360.64" y="501.42" width="4.93" height="8.05" fill="#dcdcdc"/>
<rect x="360.64" y="509.42" width="4.93" height="8.05" fill="#1a40d8"/>
<rect x="360.64" y="517.42" width="4.93" height="8.05" fill="#40a090"/>
<rect x="360.64" y="525.42" width="4.93" height="8.05" fill="#1a40d8"/>
<rect x="365.52" y="509.42" width="4.93" height="8.05" fill="#1010f0"/>
<rect x="365.52" y="517.42" width="4.93" height="8.05" fill="#40a090"/>
<rect x="365.52" y="525.42" width="4.93" height="8.05" fill="#1a40d8"/>
<rect x="370.40" y="509.41" width="4.93" height="8.05" fill="#2e6cb8"/>
<rect x="370.40" y="517.41" width="4.93" height="8.05" fill="#58c868"/>
<rect x="370.40" y="525.41" width="4.93" height="8.05" fill="#40a090"/>
<rect x="375.28" y="509.40" width="4.93" height="8.05" fill="#1a40d8"/>
<rect x="375.28" y="517.40" width="4.93" height="8.05" fill="#40a090"/>
<rect x="375.28" y="525.40" width="4.93" height="8.05" fill="#58c868"/>
<rect x="380.16" y="509.25" width="4.93" height="8.05" fill="#1010f0"/>
<rect x="380.16" y="517.25" width="4.93" height="8.05" fill="#58c868"/>
<rect x="380.16" y="525.25" width="4.93" height="8.05" fill="#78f048"/>
<rect x="380.16" y="533.25" width="4.93" height="8.05" fill="#58c868"/>
<rect x="385.04" y="509.10" width="4.93" height="8.05" fill="#40a090"/>
<rect x="385.04" y="517.10" width="4.93" height="8.05" fill="#a8f050"/>
<rect x="385.04" y="525.10" width="4.93" height="8.05" fill="#f4f452"/>
<rect x="385.04" y="533.10" width="4.93" height="8.05" fill="#f4f452"/>
<rect x="389.92" y="500.95" width="4.93" height="8.05" fill="#4848f0"/>
<rect x="389.92" y="508.95" width="4.93" height="8.05" fill="#78f048"/>
<rect x="389.92" y="516.95" width="4.93" height="8.05" fill="#f8c848"/>
<rect x="389.92" y="524.95" width="4.93" height="8.05" fill="#f0a040"/>
<rect x="389.92" y="532.95" width="4.93" height="8.05" fill="#f06830"/>
<rect x="394.81" y="500.80" width="4.93" height="8.05" fill="#4848f0"/>
<rect x="394.81" y="508.80" width="4.93" height="8.05" fill="#78f048"/>
<rect x="394.81" y="516.80" width="4.93" height="8.05" fill="#f0a040"/>
<rect x="394.81" y="524.80" width="4.93" height="8.05" fill="#f0a040"/>
<rect x="394.81" y="532.80" width="4.93" height="8.05" fill="#f0a040"/>
<rect x="399.69" y="508.65" width="4.93" height="8.05" fill="#2e6cb8"/>
<rect x="399.69" y="516.65" width="4.93" height="8.05" fill="#78f048"/>
<rect x="399.69" y="524.65" width="4.93" height="8.05" fill="#78f048"/>
<rect x="404.57" y="508.50" width="4.93" height="8.05" fill="#1a40d8"/>
<rect x="404.57" y="516.50" width="4.93" height="8.05" fill="#40a090"/>
<rect x="404.57" y="524.50" width="4.93" height="8.05" fill="#1010f0"/>
<rect x="409.45" y="508.35" width="4.93" height="8.05" fill="#1a40d8"/>
<rect x="409.45" y="516.35" width="4.93" height="8.05" fill="#40a090"/>
<rect x="409.45" y="524.35" width="4.93" height="8.05" fill="#58c868"/>
<rect x="414.33" y="500.20" width="4.93" height="8.05" fill="#a8a8f2"/>
<rect x="414.33" y="508.20" width="4.93" height="8.05" fill="#1a40d8"/>
<rect x="414.33" y="516.20" width="4.93" height="8.05" fill="#58c868"/>
<rect x="414.33" y="524.20" width="4.93" height="8.05" fill="#58c868"/>
<rect x="419.21" y="500.05" width="4.93" height="8.05" fill="#c8c8f2"/>
<rect x="419.21" y="508.05" width="4.93" height="8.05" fill="#1010f0"/>
<rect x="419.21" y="516.05" width="4.93" height="8.05" fill="#40a090"/>
<rect x="419.21" y="524.05" width="4.93" height="8.05" fill="#40a090"/>
<rect x="424.09" y="499.90" width="4.93" height="8.05" fill="#1010f0"/>
<rect x="424.09" y="507.90" width="4.93" height="8.05" fill="#1a40d8"/>
<rect x="424.09" y="515.90" width="4.93" height="8.05" fill="#58c868"/>
<rect x="424.09" y="523.90" width="4.93" height="8.05" fill="#40a090"/>
<rect x="428.97" y="499.75" width="4.93" height="8.05" fill="#8888f0"/>
<rect x="428.97" y="507.75" width="4.93" height="8.05" fill="#1010f0"/>
<rect x="428.97" y="515.75" width="4.93" height="8.05" fill="#2e6cb8"/>
<rect x="428.97" y="523.75" width="4.93" height="8.05" fill="#2e6cb8"/>
<rect x="433.85" y="499.60" width="4.93" height="8.05" fill="#c8c8f2"/>
<rect x="433.85" y="507.60" width="4.93" height="8.05" fill="#1010f0"/>
<rect x="433.85" y="515.60" width="4.93" height="8.05" fill="#40a090"/>
<rect x="433.85" y="523.60" width="4.93" height="8.05" fill="#40a090"/>
<rect x="438.73" y="507.45" width="4.93" height="8.05" fill="#1a40d8"/>
<rect x="438.73" y="515.45" width="4.93" height="8.05" fill="#58c868"/>
<rect x="438.73" y="523.45" width="4.93" height="8.05" fill="#58c868"/>
<rect x="438.73" y="531.45" width="4.93" height="8.05" fill="#40a090"/>
<rect x="443.62" y="499.30" width="4.93" height="8.05" fill="#dcdcdc"/>
<rect x="443.62" y="507.30" width="4.93" height="8.05" fill="#2e6cb8"/>
<rect x="443.62" y="515.30" width="4.93" height="8.05" fill="#78f048"/>
<rect x="443.62" y="523.30" width="4.93" height="8.05" fill="#78f048"/>
<rect x="443.62" y="531.30" width="4.93" height="8.05" fill="#40a090"/>
<rect x="448.50" y="499.30" width="4.93" height="8.05" fill="#c8c8f2"/>
<rect x="448.50" y="507.30" width="4.93" height="8.05" fill="#40a090"/>
<rect x="448.50" y="515.30" width="4.93" height="8.05" fill="#78f048"/>
<rect x="448.50" y="523.30" width="4.93" height="8.05" fill="#78f048"/>
<rect x="448.50" y="531.30" width="4.93" height="8.05" fill="#58c868"/>
<rect x="453.38" y="499.30" width="4.93" height="8.05" fill="#1010f0"/>
<rect x="453.38" y="507.30" width="4.93" height="8.05" fill="#2e6cb8"/>
<rect x="453.38" y="515.30" width="4.93" height="8.05" fill="#58c868"/>
<rect x="453.38" y="523.30" width="4.93" height="8.05" fill="#78f048"/>
<rect x="453.38" y="531.30" width="4.93" height="8.05" fill="#58c868"/>
<rect x="458.26" y="491.30" width="4.93" height="8.05" fill="#6868f0"/>
<rect x="458.26" y="499.30" width="4.93" height="8.05" fill="#6868f0"/>
<rect x="458.26" y="507.30" width="4.93" height="8.05" fill="#40a090"/>
<rect x="458.26" y="515.30" width="4.93" height="8.05" fill="#78f048"/>
<rect x="458.26" y="523.30" width="4.93" height="8.05" fill="#78f048"/>
<rect x="458.26" y="531.30" width="4.93" height="8.05" fill="#78f048"/>
<rect x="463.14" y="507.30" width="4.93" height="8.05" fill="#58c868"/>
<rect x="463.14" y="515.30" width="4.93" height="8.05" fill="#a8f050"/>
<rect x="463.14" y="523.30" width="4.93" height="8.05" fill="#f8c848"/>
<rect x="463.14" y="531.30" width="4.93" height="8.05" fill="#f4f452"/>
<rect x="468.02" y="499.30" width="4.93" height="8.05" fill="#1010f0"/>
<rect x="468.02" y="507.30" width="4.93" height="8.05" fill="#58c868"/>
<rect x="468.02" y="515.30" width="4.93" height="8.05" fill="#a8f050"/>
<rect x="468.02" y="523.30" width="4.93" height="8.05" fill="#f4f452"/>
<rect x="468.02" y="531.30" width="4.93" height="8.05" fill="#78f048"/>
<rect x="472.90" y="499.30" width="4.93" height="8.05" fill="#1010f0"/>
<rect x="472.90" y="507.30" width="4.93" height="8.05" fill="#78f048"/>
<rect x="472.90" y="515.30" width="4.93" height="8.05" fill="#f8c848"/>
<rect x="472.90" y="523.30" width="4.93" height="8.05" fill="#f8c848"/>
<rect x="472.90" y="531.30" width="4.93" height="8.05" fill="#a8f050"/>
<rect x="477.78" y="499.30" width="4.52" height="8.05" fill="#1010f0"/>
<rect x="477.78" y="507.30" width="4.52" height="8.05" fill="#78f048"/>
<rect x="477.78" y="515.30" width="4.52" height="8.05" fill="#f4f452"/>
<rect x="477.78" y="523.30" width="4.52" height="8.05" fill="#f4f452"/>
<rect x="477.78" y="531.30" width="4.52" height="8.05" fill="#a8f050"/>
</g>
<line x1="28.6" y1="541.39" x2="482.3" y2="541.39" stroke="#000" stroke-width="2.3" stroke-dasharray="7.5 7.5"/>
<text x="255.45" y="418.40" text-anchor="middle" font-size="11.5" font-weight="bold">CloudSat radar reflectivity</text>
<text x="255.45" y="589.00" text-anchor="middle" font-size="13" font-weight="bold" fill="#262626">Along track [km]</text>
<text transform="translate(14.3,490.65) rotate(-90)" x="0" y="0" text-anchor="middle" font-size="13.3" font-weight="bold" fill="#262626">Height [km]</text>
<text x="49.8" y="450.20" font-size="14" font-weight="bold" letter-spacing="0.8">(c)</text>
<text x="76.4" y="443.60" font-size="12">Jan 01, 2007</text>
<text x="76.4" y="459.00" font-size="12" letter-spacing="-0.2">89.6° W, 17.1° S</text>
<rect x="303.1" y="467.40" width="117.90" height="8.70" fill="url(#cm)" stroke="#b4b4b4" stroke-width="0.8"/>
<line x1="316.20" y1="467.4" x2="316.20" y2="468.80" stroke="#333" stroke-width="0.8"/>
<text x="316.20" y="462.50" text-anchor="middle" font-size="10.3" font-weight="bold">-30</text>
<line x1="342.40" y1="467.4" x2="342.40" y2="468.80" stroke="#333" stroke-width="0.8"/>
<text x="342.40" y="462.50" text-anchor="middle" font-size="10.3" font-weight="bold">-20</text>
<line x1="368.60" y1="467.4" x2="368.60" y2="468.80" stroke="#333" stroke-width="0.8"/>
<text x="368.60" y="462.50" text-anchor="middle" font-size="10.3" font-weight="bold">-10</text>
<line x1="394.80" y1="467.4" x2="394.80" y2="468.80" stroke="#333" stroke-width="0.8"/>
<text x="394.80" y="462.50" text-anchor="middle" font-size="10.3" font-weight="bold">0</text>
<text x="421.00" y="462.50" text-anchor="middle" font-size="10.3" font-weight="bold">10</text>
<text x="362.05" y="444.00" text-anchor="middle" font-size="10.3" font-weight="bold">dBZ</text>
</g>
</svg></body></html>
